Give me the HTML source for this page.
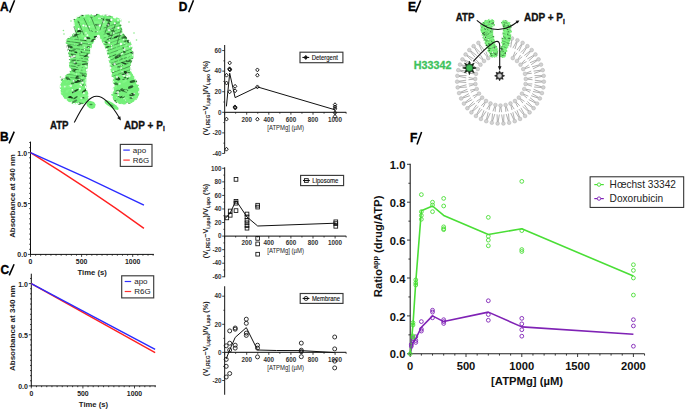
<!DOCTYPE html>
<html><head><meta charset="utf-8"><style>
html,body{margin:0;padding:0;background:#fff;}
body{width:685px;height:409px;overflow:hidden;}
svg{display:block;font-family:"Liberation Sans", sans-serif;}
</style></head><body>
<svg width="685" height="409" viewBox="0 0 685 409">
<rect width="685" height="409" fill="#fff"/>
<defs><filter id="soft" x="-5%" y="-5%" width="110%" height="110%"><feGaussianBlur stdDeviation="0.35"/></filter></defs>
<text x="0.00" y="10.70" font-size="12" font-weight="bold" text-anchor="start" fill="#000" stroke="#000" stroke-width="0.35">A</text>
<line x1="9.60" y1="12.60" x2="14.60" y2="0.30" stroke="#000" stroke-width="1.55" />
<text x="0.10" y="141.10" font-size="12" font-weight="bold" text-anchor="start" fill="#000" stroke="#000" stroke-width="0.35">B</text>
<line x1="9.10" y1="143.40" x2="14.20" y2="131.60" stroke="#000" stroke-width="1.55" />
<text x="0.45" y="273.70" font-size="12" font-weight="bold" text-anchor="start" fill="#000" stroke="#000" stroke-width="0.35">C</text>
<line x1="9.20" y1="275.40" x2="14.10" y2="264.20" stroke="#000" stroke-width="1.55" />
<text x="178.70" y="11.00" font-size="12" font-weight="bold" text-anchor="start" fill="#000" stroke="#000" stroke-width="0.35">D</text>
<line x1="188.70" y1="12.30" x2="193.50" y2="0.30" stroke="#000" stroke-width="1.55" />
<text x="407.90" y="10.90" font-size="12" font-weight="bold" text-anchor="start" fill="#000" stroke="#000" stroke-width="0.35">E</text>
<line x1="415.60" y1="12.40" x2="420.70" y2="0.40" stroke="#000" stroke-width="1.55" />
<text x="410.00" y="142.10" font-size="12" font-weight="bold" text-anchor="start" fill="#000" stroke="#000" stroke-width="0.35">F</text>
<line x1="417.00" y1="144.40" x2="421.60" y2="131.90" stroke="#000" stroke-width="1.55" />
<line x1="30.50" y1="141.60" x2="30.50" y2="254.90" stroke="#111" stroke-width="1" />
<line x1="30.00" y1="254.40" x2="153.90" y2="254.40" stroke="#111" stroke-width="1" />
<line x1="28.00" y1="254.40" x2="30.50" y2="254.40" stroke="#111" stroke-width="0.8" />
<line x1="29.20" y1="249.31" x2="30.50" y2="249.31" stroke="#111" stroke-width="0.8" />
<line x1="29.20" y1="244.23" x2="30.50" y2="244.23" stroke="#111" stroke-width="0.8" />
<line x1="29.20" y1="239.15" x2="30.50" y2="239.15" stroke="#111" stroke-width="0.8" />
<line x1="29.20" y1="234.06" x2="30.50" y2="234.06" stroke="#111" stroke-width="0.8" />
<line x1="29.20" y1="228.97" x2="30.50" y2="228.97" stroke="#111" stroke-width="0.8" />
<line x1="29.20" y1="223.89" x2="30.50" y2="223.89" stroke="#111" stroke-width="0.8" />
<line x1="29.20" y1="218.81" x2="30.50" y2="218.81" stroke="#111" stroke-width="0.8" />
<line x1="29.20" y1="213.72" x2="30.50" y2="213.72" stroke="#111" stroke-width="0.8" />
<line x1="29.20" y1="208.63" x2="30.50" y2="208.63" stroke="#111" stroke-width="0.8" />
<line x1="28.00" y1="203.55" x2="30.50" y2="203.55" stroke="#111" stroke-width="0.8" />
<line x1="29.20" y1="198.47" x2="30.50" y2="198.47" stroke="#111" stroke-width="0.8" />
<line x1="29.20" y1="193.38" x2="30.50" y2="193.38" stroke="#111" stroke-width="0.8" />
<line x1="29.20" y1="188.30" x2="30.50" y2="188.30" stroke="#111" stroke-width="0.8" />
<line x1="29.20" y1="183.21" x2="30.50" y2="183.21" stroke="#111" stroke-width="0.8" />
<line x1="29.20" y1="178.12" x2="30.50" y2="178.12" stroke="#111" stroke-width="0.8" />
<line x1="29.20" y1="173.04" x2="30.50" y2="173.04" stroke="#111" stroke-width="0.8" />
<line x1="29.20" y1="167.95" x2="30.50" y2="167.95" stroke="#111" stroke-width="0.8" />
<line x1="29.20" y1="162.87" x2="30.50" y2="162.87" stroke="#111" stroke-width="0.8" />
<line x1="29.20" y1="157.78" x2="30.50" y2="157.78" stroke="#111" stroke-width="0.8" />
<line x1="28.00" y1="152.70" x2="30.50" y2="152.70" stroke="#111" stroke-width="0.8" />
<line x1="29.20" y1="147.62" x2="30.50" y2="147.62" stroke="#111" stroke-width="0.8" />
<line x1="29.20" y1="142.53" x2="30.50" y2="142.53" stroke="#111" stroke-width="0.8" />
<text x="27.10" y="257.40" font-size="7" font-weight="bold" text-anchor="end" fill="#222" >0.0</text>
<text x="27.10" y="206.55" font-size="7" font-weight="bold" text-anchor="end" fill="#222" >0.5</text>
<text x="27.10" y="155.70" font-size="7" font-weight="bold" text-anchor="end" fill="#222" >1.0</text>
<line x1="30.50" y1="254.40" x2="30.50" y2="256.90" stroke="#111" stroke-width="0.8" />
<line x1="35.61" y1="254.40" x2="35.61" y2="255.70" stroke="#111" stroke-width="0.8" />
<line x1="40.72" y1="254.40" x2="40.72" y2="255.70" stroke="#111" stroke-width="0.8" />
<line x1="45.83" y1="254.40" x2="45.83" y2="255.70" stroke="#111" stroke-width="0.8" />
<line x1="50.94" y1="254.40" x2="50.94" y2="255.70" stroke="#111" stroke-width="0.8" />
<line x1="56.05" y1="254.40" x2="56.05" y2="255.70" stroke="#111" stroke-width="0.8" />
<line x1="61.16" y1="254.40" x2="61.16" y2="255.70" stroke="#111" stroke-width="0.8" />
<line x1="66.27" y1="254.40" x2="66.27" y2="255.70" stroke="#111" stroke-width="0.8" />
<line x1="71.38" y1="254.40" x2="71.38" y2="255.70" stroke="#111" stroke-width="0.8" />
<line x1="76.49" y1="254.40" x2="76.49" y2="255.70" stroke="#111" stroke-width="0.8" />
<line x1="81.60" y1="254.40" x2="81.60" y2="256.90" stroke="#111" stroke-width="0.8" />
<line x1="86.71" y1="254.40" x2="86.71" y2="255.70" stroke="#111" stroke-width="0.8" />
<line x1="91.82" y1="254.40" x2="91.82" y2="255.70" stroke="#111" stroke-width="0.8" />
<line x1="96.93" y1="254.40" x2="96.93" y2="255.70" stroke="#111" stroke-width="0.8" />
<line x1="102.04" y1="254.40" x2="102.04" y2="255.70" stroke="#111" stroke-width="0.8" />
<line x1="107.15" y1="254.40" x2="107.15" y2="255.70" stroke="#111" stroke-width="0.8" />
<line x1="112.26" y1="254.40" x2="112.26" y2="255.70" stroke="#111" stroke-width="0.8" />
<line x1="117.37" y1="254.40" x2="117.37" y2="255.70" stroke="#111" stroke-width="0.8" />
<line x1="122.48" y1="254.40" x2="122.48" y2="255.70" stroke="#111" stroke-width="0.8" />
<line x1="127.59" y1="254.40" x2="127.59" y2="255.70" stroke="#111" stroke-width="0.8" />
<line x1="132.70" y1="254.40" x2="132.70" y2="256.90" stroke="#111" stroke-width="0.8" />
<line x1="137.81" y1="254.40" x2="137.81" y2="255.70" stroke="#111" stroke-width="0.8" />
<line x1="142.92" y1="254.40" x2="142.92" y2="255.70" stroke="#111" stroke-width="0.8" />
<line x1="148.03" y1="254.40" x2="148.03" y2="255.70" stroke="#111" stroke-width="0.8" />
<line x1="153.14" y1="254.40" x2="153.14" y2="255.70" stroke="#111" stroke-width="0.8" />
<text x="30.50" y="264.20" font-size="6.9" font-weight="bold" text-anchor="middle" fill="#222" >0</text>
<text x="81.60" y="264.20" font-size="6.9" font-weight="bold" text-anchor="middle" fill="#222" >500</text>
<text x="132.70" y="264.20" font-size="6.9" font-weight="bold" text-anchor="middle" fill="#222" >1000</text>
<text x="92.12" y="274.60" font-size="8" font-weight="bold" text-anchor="middle" fill="#222" textLength="29.3" lengthAdjust="spacingAndGlyphs">Time (s)</text>
<text transform="translate(14.6,196.05) rotate(-90)" font-size="7.9" font-weight="bold" text-anchor="middle" fill="#222" textLength="83.5" lengthAdjust="spacingAndGlyphs">Absorbance at 340 nm</text>
<path d="M30.50,152.70 Q87.22,187.38 143.94,228.36" fill="none" stroke="#ff2020" stroke-width="1.4"/>
<path d="M30.50,152.70 Q87.22,177.40 143.94,205.18" fill="none" stroke="#2a2aff" stroke-width="1.4"/>
<rect x="120.3" y="144.4" width="31.700000000000003" height="22.0" fill="#fff" stroke="#3a3a3a" stroke-width="1.15"/>
<line x1="123.30" y1="150.10" x2="129.80" y2="150.10" stroke="#3030ff" stroke-width="1.2" />
<line x1="123.30" y1="160.10" x2="129.80" y2="160.10" stroke="#ff3030" stroke-width="1.2" />
<text x="132.80" y="152.70" font-size="8" font-weight="normal" text-anchor="start" fill="#222" >apo</text>
<text x="132.80" y="163.00" font-size="8" font-weight="normal" text-anchor="start" fill="#222" >R6G</text>
<line x1="31.30" y1="273.70" x2="31.30" y2="386.40" stroke="#111" stroke-width="1" />
<line x1="30.80" y1="385.90" x2="155.90" y2="385.90" stroke="#111" stroke-width="1" />
<line x1="28.80" y1="385.90" x2="31.30" y2="385.90" stroke="#111" stroke-width="0.8" />
<line x1="30.00" y1="380.78" x2="31.30" y2="380.78" stroke="#111" stroke-width="0.8" />
<line x1="30.00" y1="375.67" x2="31.30" y2="375.67" stroke="#111" stroke-width="0.8" />
<line x1="30.00" y1="370.55" x2="31.30" y2="370.55" stroke="#111" stroke-width="0.8" />
<line x1="30.00" y1="365.44" x2="31.30" y2="365.44" stroke="#111" stroke-width="0.8" />
<line x1="30.00" y1="360.32" x2="31.30" y2="360.32" stroke="#111" stroke-width="0.8" />
<line x1="30.00" y1="355.21" x2="31.30" y2="355.21" stroke="#111" stroke-width="0.8" />
<line x1="30.00" y1="350.09" x2="31.30" y2="350.09" stroke="#111" stroke-width="0.8" />
<line x1="30.00" y1="344.98" x2="31.30" y2="344.98" stroke="#111" stroke-width="0.8" />
<line x1="30.00" y1="339.87" x2="31.30" y2="339.87" stroke="#111" stroke-width="0.8" />
<line x1="28.80" y1="334.75" x2="31.30" y2="334.75" stroke="#111" stroke-width="0.8" />
<line x1="30.00" y1="329.63" x2="31.30" y2="329.63" stroke="#111" stroke-width="0.8" />
<line x1="30.00" y1="324.52" x2="31.30" y2="324.52" stroke="#111" stroke-width="0.8" />
<line x1="30.00" y1="319.40" x2="31.30" y2="319.40" stroke="#111" stroke-width="0.8" />
<line x1="30.00" y1="314.29" x2="31.30" y2="314.29" stroke="#111" stroke-width="0.8" />
<line x1="30.00" y1="309.17" x2="31.30" y2="309.17" stroke="#111" stroke-width="0.8" />
<line x1="30.00" y1="304.06" x2="31.30" y2="304.06" stroke="#111" stroke-width="0.8" />
<line x1="30.00" y1="298.94" x2="31.30" y2="298.94" stroke="#111" stroke-width="0.8" />
<line x1="30.00" y1="293.83" x2="31.30" y2="293.83" stroke="#111" stroke-width="0.8" />
<line x1="30.00" y1="288.71" x2="31.30" y2="288.71" stroke="#111" stroke-width="0.8" />
<line x1="28.80" y1="283.60" x2="31.30" y2="283.60" stroke="#111" stroke-width="0.8" />
<line x1="30.00" y1="278.48" x2="31.30" y2="278.48" stroke="#111" stroke-width="0.8" />
<text x="27.90" y="388.90" font-size="7" font-weight="bold" text-anchor="end" fill="#222" >0.0</text>
<text x="27.90" y="337.75" font-size="7" font-weight="bold" text-anchor="end" fill="#222" >0.5</text>
<text x="27.90" y="286.60" font-size="7" font-weight="bold" text-anchor="end" fill="#222" >1.0</text>
<line x1="31.30" y1="385.90" x2="31.30" y2="388.40" stroke="#111" stroke-width="0.8" />
<line x1="36.46" y1="385.90" x2="36.46" y2="387.20" stroke="#111" stroke-width="0.8" />
<line x1="41.62" y1="385.90" x2="41.62" y2="387.20" stroke="#111" stroke-width="0.8" />
<line x1="46.78" y1="385.90" x2="46.78" y2="387.20" stroke="#111" stroke-width="0.8" />
<line x1="51.94" y1="385.90" x2="51.94" y2="387.20" stroke="#111" stroke-width="0.8" />
<line x1="57.10" y1="385.90" x2="57.10" y2="387.20" stroke="#111" stroke-width="0.8" />
<line x1="62.26" y1="385.90" x2="62.26" y2="387.20" stroke="#111" stroke-width="0.8" />
<line x1="67.42" y1="385.90" x2="67.42" y2="387.20" stroke="#111" stroke-width="0.8" />
<line x1="72.58" y1="385.90" x2="72.58" y2="387.20" stroke="#111" stroke-width="0.8" />
<line x1="77.74" y1="385.90" x2="77.74" y2="387.20" stroke="#111" stroke-width="0.8" />
<line x1="82.90" y1="385.90" x2="82.90" y2="388.40" stroke="#111" stroke-width="0.8" />
<line x1="88.06" y1="385.90" x2="88.06" y2="387.20" stroke="#111" stroke-width="0.8" />
<line x1="93.22" y1="385.90" x2="93.22" y2="387.20" stroke="#111" stroke-width="0.8" />
<line x1="98.38" y1="385.90" x2="98.38" y2="387.20" stroke="#111" stroke-width="0.8" />
<line x1="103.54" y1="385.90" x2="103.54" y2="387.20" stroke="#111" stroke-width="0.8" />
<line x1="108.70" y1="385.90" x2="108.70" y2="387.20" stroke="#111" stroke-width="0.8" />
<line x1="113.86" y1="385.90" x2="113.86" y2="387.20" stroke="#111" stroke-width="0.8" />
<line x1="119.02" y1="385.90" x2="119.02" y2="387.20" stroke="#111" stroke-width="0.8" />
<line x1="124.18" y1="385.90" x2="124.18" y2="387.20" stroke="#111" stroke-width="0.8" />
<line x1="129.34" y1="385.90" x2="129.34" y2="387.20" stroke="#111" stroke-width="0.8" />
<line x1="134.50" y1="385.90" x2="134.50" y2="388.40" stroke="#111" stroke-width="0.8" />
<line x1="139.66" y1="385.90" x2="139.66" y2="387.20" stroke="#111" stroke-width="0.8" />
<line x1="144.82" y1="385.90" x2="144.82" y2="387.20" stroke="#111" stroke-width="0.8" />
<line x1="149.98" y1="385.90" x2="149.98" y2="387.20" stroke="#111" stroke-width="0.8" />
<line x1="155.14" y1="385.90" x2="155.14" y2="387.20" stroke="#111" stroke-width="0.8" />
<text x="31.30" y="396.30" font-size="6.9" font-weight="bold" text-anchor="middle" fill="#222" >0</text>
<text x="82.90" y="396.30" font-size="6.9" font-weight="bold" text-anchor="middle" fill="#222" >500</text>
<text x="134.50" y="396.30" font-size="6.9" font-weight="bold" text-anchor="middle" fill="#222" >1000</text>
<text x="93.52" y="406.80" font-size="8" font-weight="bold" text-anchor="middle" fill="#222" textLength="29.3" lengthAdjust="spacingAndGlyphs">Time (s)</text>
<text transform="translate(14.6,328.20) rotate(-90)" font-size="7.9" font-weight="bold" text-anchor="middle" fill="#222" textLength="85.8" lengthAdjust="spacingAndGlyphs">Absorbance at 340 nm</text>
<path d="M31.30,283.60 Q93.22,318.13 155.14,352.65" fill="none" stroke="#ff2020" stroke-width="1.4"/>
<path d="M31.30,283.60 Q93.22,316.44 155.14,349.28" fill="none" stroke="#2a2aff" stroke-width="1.4"/>
<rect x="121.7" y="275.8" width="31.999999999999986" height="22.099999999999966" fill="#fff" stroke="#3a3a3a" stroke-width="1.15"/>
<line x1="124.70" y1="281.50" x2="131.20" y2="281.50" stroke="#3030ff" stroke-width="1.2" />
<line x1="124.70" y1="291.50" x2="131.20" y2="291.50" stroke="#ff3030" stroke-width="1.2" />
<text x="134.20" y="284.10" font-size="8" font-weight="normal" text-anchor="start" fill="#222" >apo</text>
<text x="134.20" y="294.40" font-size="8" font-weight="normal" text-anchor="start" fill="#222" >R6G</text>
<line x1="224.60" y1="45.10" x2="224.60" y2="153.50" stroke="#3a3a3a" stroke-width="1.2" />
<line x1="224.60" y1="112.30" x2="346.20" y2="112.30" stroke="#3a3a3a" stroke-width="1.2" />
<line x1="222.20" y1="153.46" x2="224.60" y2="153.46" stroke="#111" stroke-width="0.8" />
<text x="221.60" y="155.66" font-size="6.3" font-weight="bold" text-anchor="end" fill="#333" >-40</text>
<line x1="222.20" y1="132.88" x2="224.60" y2="132.88" stroke="#111" stroke-width="0.8" />
<text x="221.60" y="135.08" font-size="6.3" font-weight="bold" text-anchor="end" fill="#333" >-20</text>
<line x1="222.20" y1="112.30" x2="224.60" y2="112.30" stroke="#111" stroke-width="0.8" />
<text x="221.60" y="114.50" font-size="6.3" font-weight="bold" text-anchor="end" fill="#333" >0</text>
<line x1="222.20" y1="91.72" x2="224.60" y2="91.72" stroke="#111" stroke-width="0.8" />
<text x="221.60" y="93.92" font-size="6.3" font-weight="bold" text-anchor="end" fill="#333" >20</text>
<line x1="222.20" y1="71.14" x2="224.60" y2="71.14" stroke="#111" stroke-width="0.8" />
<text x="221.60" y="73.34" font-size="6.3" font-weight="bold" text-anchor="end" fill="#333" >40</text>
<line x1="222.20" y1="50.56" x2="224.60" y2="50.56" stroke="#111" stroke-width="0.8" />
<text x="221.60" y="52.76" font-size="6.3" font-weight="bold" text-anchor="end" fill="#333" >60</text>
<line x1="223.30" y1="143.17" x2="224.60" y2="143.17" stroke="#111" stroke-width="0.7" />
<line x1="223.30" y1="122.59" x2="224.60" y2="122.59" stroke="#111" stroke-width="0.7" />
<line x1="223.30" y1="102.01" x2="224.60" y2="102.01" stroke="#111" stroke-width="0.7" />
<line x1="223.30" y1="81.43" x2="224.60" y2="81.43" stroke="#111" stroke-width="0.7" />
<line x1="223.30" y1="60.85" x2="224.60" y2="60.85" stroke="#111" stroke-width="0.7" />
<line x1="224.60" y1="112.30" x2="224.60" y2="114.70" stroke="#111" stroke-width="0.8" />
<line x1="235.65" y1="112.30" x2="235.65" y2="113.70" stroke="#111" stroke-width="0.8" />
<line x1="246.70" y1="112.30" x2="246.70" y2="114.70" stroke="#111" stroke-width="0.8" />
<text x="246.70" y="121.90" font-size="6.3" font-weight="bold" text-anchor="middle" fill="#333" >200</text>
<line x1="257.75" y1="112.30" x2="257.75" y2="113.70" stroke="#111" stroke-width="0.8" />
<line x1="268.80" y1="112.30" x2="268.80" y2="114.70" stroke="#111" stroke-width="0.8" />
<text x="268.80" y="121.90" font-size="6.3" font-weight="bold" text-anchor="middle" fill="#333" >400</text>
<line x1="279.85" y1="112.30" x2="279.85" y2="113.70" stroke="#111" stroke-width="0.8" />
<line x1="290.90" y1="112.30" x2="290.90" y2="114.70" stroke="#111" stroke-width="0.8" />
<text x="290.90" y="121.90" font-size="6.3" font-weight="bold" text-anchor="middle" fill="#333" >600</text>
<line x1="301.95" y1="112.30" x2="301.95" y2="113.70" stroke="#111" stroke-width="0.8" />
<line x1="313.00" y1="112.30" x2="313.00" y2="114.70" stroke="#111" stroke-width="0.8" />
<text x="313.00" y="121.90" font-size="6.3" font-weight="bold" text-anchor="middle" fill="#333" >800</text>
<line x1="324.05" y1="112.30" x2="324.05" y2="113.70" stroke="#111" stroke-width="0.8" />
<line x1="335.10" y1="112.30" x2="335.10" y2="114.70" stroke="#111" stroke-width="0.8" />
<text x="335.10" y="121.90" font-size="6.3" font-weight="bold" text-anchor="middle" fill="#333" >1000</text>
<line x1="346.15" y1="112.30" x2="346.15" y2="113.70" stroke="#111" stroke-width="0.8" />
<text x="285.60" y="129.80" font-size="6.3" font-weight="normal" text-anchor="middle" fill="#222" textLength="36.7" lengthAdjust="spacingAndGlyphs">[ATPMg] (µM)</text>
<text transform="translate(208.3,98.00) rotate(-90)" font-size="7.4" font-weight="bold" text-anchor="middle" fill="#222" textLength="74.5" lengthAdjust="spacingAndGlyphs">(V<tspan font-size="5.0" dy="1.7">i,REG</tspan><tspan dy="-1.7">−V</tspan><tspan font-size="5.0" dy="1.7">i,apo</tspan><tspan dy="-1.7">)/V</tspan><tspan font-size="5.0" dy="1.7">i,apo</tspan><tspan dy="-1.7"> (%)</tspan></text>
<polyline points="226.40,106.40 229.70,73.20 235.10,97.60 257.40,86.90 335.00,109.80" fill="none" stroke="#111" stroke-width="1.0" stroke-linejoin="round" />
<path d="M226.50,73.25 L228.25,75.20 L226.50,77.15 L224.75,75.20 Z" fill="none" stroke="#111" stroke-width="0.95"/>
<path d="M226.50,81.05 L228.25,83.00 L226.50,84.95 L224.75,83.00 Z" fill="none" stroke="#111" stroke-width="0.95"/>
<path d="M229.70,60.95 L231.45,62.90 L229.70,64.85 L227.95,62.90 Z" fill="none" stroke="#111" stroke-width="0.95"/>
<path d="M229.70,67.35 L231.45,69.30 L229.70,71.25 L227.95,69.30 Z" fill="none" stroke="#111" stroke-width="0.95"/>
<path d="M229.90,67.95 L231.65,69.90 L229.90,71.85 L228.15,69.90 Z" fill="none" stroke="#111" stroke-width="0.95"/>
<path d="M229.50,66.85 L231.25,68.80 L229.50,70.75 L227.75,68.80 Z" fill="none" stroke="#111" stroke-width="0.95"/>
<path d="M229.70,89.85 L231.45,91.80 L229.70,93.75 L227.95,91.80 Z" fill="none" stroke="#111" stroke-width="0.95"/>
<path d="M235.10,84.35 L236.85,86.30 L235.10,88.25 L233.35,86.30 Z" fill="none" stroke="#111" stroke-width="0.95"/>
<path d="M235.10,88.85 L236.85,90.80 L235.10,92.75 L233.35,90.80 Z" fill="none" stroke="#111" stroke-width="0.95"/>
<path d="M235.10,105.45 L236.85,107.40 L235.10,109.35 L233.35,107.40 Z" fill="none" stroke="#111" stroke-width="0.95"/>
<path d="M235.30,106.05 L237.05,108.00 L235.30,109.95 L233.55,108.00 Z" fill="none" stroke="#111" stroke-width="0.95"/>
<path d="M234.90,104.95 L236.65,106.90 L234.90,108.85 L233.15,106.90 Z" fill="none" stroke="#111" stroke-width="0.95"/>
<path d="M257.40,67.95 L259.15,69.90 L257.40,71.85 L255.65,69.90 Z" fill="none" stroke="#111" stroke-width="0.95"/>
<path d="M257.40,73.25 L259.15,75.20 L257.40,77.15 L255.65,75.20 Z" fill="none" stroke="#111" stroke-width="0.95"/>
<path d="M257.40,84.95 L259.15,86.90 L257.40,88.85 L255.65,86.90 Z" fill="none" stroke="#111" stroke-width="0.95"/>
<path d="M226.50,117.15 L228.25,119.10 L226.50,121.05 L224.75,119.10 Z" fill="none" stroke="#111" stroke-width="0.95"/>
<path d="M257.40,117.25 L259.15,119.20 L257.40,121.15 L255.65,119.20 Z" fill="none" stroke="#111" stroke-width="0.95"/>
<path d="M226.50,147.25 L228.25,149.20 L226.50,151.15 L224.75,149.20 Z" fill="none" stroke="#111" stroke-width="0.95"/>
<path d="M335.00,102.75 L336.75,104.70 L335.00,106.65 L333.25,104.70 Z" fill="none" stroke="#111" stroke-width="0.95"/>
<path d="M335.00,104.95 L336.75,106.90 L335.00,108.85 L333.25,106.90 Z" fill="none" stroke="#111" stroke-width="0.95"/>
<path d="M335.00,106.85 L336.75,108.80 L335.00,110.75 L333.25,108.80 Z" fill="none" stroke="#111" stroke-width="0.95"/>
<path d="M335.00,110.75 L336.75,112.70 L335.00,114.65 L333.25,112.70 Z" fill="none" stroke="#111" stroke-width="0.95"/>
<path d="M335.00,114.45 L336.75,116.40 L335.00,118.35 L333.25,116.40 Z" fill="none" stroke="#111" stroke-width="0.95"/>
<rect x="300" y="52.2" width="42.89999999999998" height="10.5" fill="#fff" stroke="#3a3a3a" stroke-width="1.15"/>
<path d="M305.80,55.50 L307.55,57.45 L305.80,59.40 L304.05,57.45 Z" fill="#222" stroke="#111" stroke-width="0.95"/>
<line x1="302.40" y1="57.45" x2="309.20" y2="57.45" stroke="#111" stroke-width="1.1" />
<text x="311.70" y="59.70" font-size="6.3" font-weight="normal" text-anchor="start" fill="#111" textLength="26.2" lengthAdjust="spacingAndGlyphs" stroke="#111" stroke-width="0.12">Detergent</text>
<line x1="224.60" y1="167.30" x2="224.60" y2="277.20" stroke="#3a3a3a" stroke-width="1.2" />
<line x1="224.60" y1="236.10" x2="346.20" y2="236.10" stroke="#3a3a3a" stroke-width="1.2" />
<line x1="222.20" y1="276.78" x2="224.60" y2="276.78" stroke="#111" stroke-width="0.8" />
<text x="221.60" y="278.98" font-size="6.3" font-weight="bold" text-anchor="end" fill="#333" >-60</text>
<line x1="222.20" y1="263.22" x2="224.60" y2="263.22" stroke="#111" stroke-width="0.8" />
<text x="221.60" y="265.42" font-size="6.3" font-weight="bold" text-anchor="end" fill="#333" >-40</text>
<line x1="222.20" y1="249.66" x2="224.60" y2="249.66" stroke="#111" stroke-width="0.8" />
<text x="221.60" y="251.86" font-size="6.3" font-weight="bold" text-anchor="end" fill="#333" >-20</text>
<line x1="222.20" y1="236.10" x2="224.60" y2="236.10" stroke="#111" stroke-width="0.8" />
<text x="221.60" y="238.30" font-size="6.3" font-weight="bold" text-anchor="end" fill="#333" >0</text>
<line x1="222.20" y1="222.54" x2="224.60" y2="222.54" stroke="#111" stroke-width="0.8" />
<text x="221.60" y="224.74" font-size="6.3" font-weight="bold" text-anchor="end" fill="#333" >20</text>
<line x1="222.20" y1="208.98" x2="224.60" y2="208.98" stroke="#111" stroke-width="0.8" />
<text x="221.60" y="211.18" font-size="6.3" font-weight="bold" text-anchor="end" fill="#333" >40</text>
<line x1="222.20" y1="195.42" x2="224.60" y2="195.42" stroke="#111" stroke-width="0.8" />
<text x="221.60" y="197.62" font-size="6.3" font-weight="bold" text-anchor="end" fill="#333" >60</text>
<line x1="222.20" y1="181.86" x2="224.60" y2="181.86" stroke="#111" stroke-width="0.8" />
<text x="221.60" y="184.06" font-size="6.3" font-weight="bold" text-anchor="end" fill="#333" >80</text>
<line x1="222.20" y1="168.30" x2="224.60" y2="168.30" stroke="#111" stroke-width="0.8" />
<text x="221.60" y="170.50" font-size="6.3" font-weight="bold" text-anchor="end" fill="#333" >100</text>
<line x1="223.30" y1="270.00" x2="224.60" y2="270.00" stroke="#111" stroke-width="0.7" />
<line x1="223.30" y1="256.44" x2="224.60" y2="256.44" stroke="#111" stroke-width="0.7" />
<line x1="223.30" y1="242.88" x2="224.60" y2="242.88" stroke="#111" stroke-width="0.7" />
<line x1="223.30" y1="229.32" x2="224.60" y2="229.32" stroke="#111" stroke-width="0.7" />
<line x1="223.30" y1="215.76" x2="224.60" y2="215.76" stroke="#111" stroke-width="0.7" />
<line x1="223.30" y1="202.20" x2="224.60" y2="202.20" stroke="#111" stroke-width="0.7" />
<line x1="223.30" y1="188.64" x2="224.60" y2="188.64" stroke="#111" stroke-width="0.7" />
<line x1="223.30" y1="175.08" x2="224.60" y2="175.08" stroke="#111" stroke-width="0.7" />
<line x1="224.60" y1="236.10" x2="224.60" y2="238.50" stroke="#111" stroke-width="0.8" />
<line x1="235.65" y1="236.10" x2="235.65" y2="237.50" stroke="#111" stroke-width="0.8" />
<line x1="246.70" y1="236.10" x2="246.70" y2="238.50" stroke="#111" stroke-width="0.8" />
<text x="246.70" y="245.40" font-size="6.3" font-weight="bold" text-anchor="middle" fill="#333" >200</text>
<line x1="257.75" y1="236.10" x2="257.75" y2="237.50" stroke="#111" stroke-width="0.8" />
<line x1="268.80" y1="236.10" x2="268.80" y2="238.50" stroke="#111" stroke-width="0.8" />
<text x="268.80" y="245.40" font-size="6.3" font-weight="bold" text-anchor="middle" fill="#333" >400</text>
<line x1="279.85" y1="236.10" x2="279.85" y2="237.50" stroke="#111" stroke-width="0.8" />
<line x1="290.90" y1="236.10" x2="290.90" y2="238.50" stroke="#111" stroke-width="0.8" />
<text x="290.90" y="245.40" font-size="6.3" font-weight="bold" text-anchor="middle" fill="#333" >600</text>
<line x1="301.95" y1="236.10" x2="301.95" y2="237.50" stroke="#111" stroke-width="0.8" />
<line x1="313.00" y1="236.10" x2="313.00" y2="238.50" stroke="#111" stroke-width="0.8" />
<text x="313.00" y="245.40" font-size="6.3" font-weight="bold" text-anchor="middle" fill="#333" >800</text>
<line x1="324.05" y1="236.10" x2="324.05" y2="237.50" stroke="#111" stroke-width="0.8" />
<line x1="335.10" y1="236.10" x2="335.10" y2="238.50" stroke="#111" stroke-width="0.8" />
<text x="335.10" y="245.40" font-size="6.3" font-weight="bold" text-anchor="middle" fill="#333" >1000</text>
<line x1="346.15" y1="236.10" x2="346.15" y2="237.50" stroke="#111" stroke-width="0.8" />
<text x="285.60" y="252.80" font-size="6.3" font-weight="normal" text-anchor="middle" fill="#222" textLength="36.7" lengthAdjust="spacingAndGlyphs">[ATPMg] (µM)</text>
<text transform="translate(208.3,221.00) rotate(-90)" font-size="7.4" font-weight="bold" text-anchor="middle" fill="#222" textLength="74.5" lengthAdjust="spacingAndGlyphs">(V<tspan font-size="5.0" dy="1.7">i,REG</tspan><tspan dy="-1.7">−V</tspan><tspan font-size="5.0" dy="1.7">i,apo</tspan><tspan dy="-1.7">)/V</tspan><tspan font-size="5.0" dy="1.7">i,apo</tspan><tspan dy="-1.7"> (%)</tspan></text>
<polyline points="225.20,218.50 230.20,213.00 236.00,200.50 247.00,217.00 257.70,226.00 335.80,223.20" fill="none" stroke="#111" stroke-width="1.0" stroke-linejoin="round" />
<rect x="224.95" y="216.05" width="3.70" height="3.70" fill="none" stroke="#111" stroke-width="0.85"/>
<rect x="228.35" y="213.45" width="3.70" height="3.70" fill="none" stroke="#111" stroke-width="0.85"/>
<rect x="228.35" y="209.15" width="3.70" height="3.70" fill="none" stroke="#111" stroke-width="0.85"/>
<rect x="234.15" y="208.75" width="3.70" height="3.70" fill="none" stroke="#111" stroke-width="0.85"/>
<rect x="234.15" y="201.35" width="3.70" height="3.70" fill="none" stroke="#111" stroke-width="0.85"/>
<rect x="234.15" y="199.45" width="3.70" height="3.70" fill="none" stroke="#111" stroke-width="0.85"/>
<rect x="234.15" y="177.55" width="3.70" height="3.70" fill="none" stroke="#111" stroke-width="0.85"/>
<rect x="245.15" y="212.15" width="3.70" height="3.70" fill="none" stroke="#111" stroke-width="0.85"/>
<rect x="245.15" y="215.05" width="3.70" height="3.70" fill="none" stroke="#111" stroke-width="0.85"/>
<rect x="245.15" y="218.55" width="3.70" height="3.70" fill="none" stroke="#111" stroke-width="0.85"/>
<rect x="245.15" y="220.95" width="3.70" height="3.70" fill="none" stroke="#111" stroke-width="0.85"/>
<rect x="245.15" y="223.85" width="3.70" height="3.70" fill="none" stroke="#111" stroke-width="0.85"/>
<rect x="245.15" y="226.35" width="3.70" height="3.70" fill="none" stroke="#111" stroke-width="0.85"/>
<rect x="255.85" y="203.35" width="3.70" height="3.70" fill="none" stroke="#111" stroke-width="0.85"/>
<rect x="255.85" y="205.25" width="3.70" height="3.70" fill="none" stroke="#111" stroke-width="0.85"/>
<rect x="255.85" y="236.55" width="3.70" height="3.70" fill="none" stroke="#111" stroke-width="0.85"/>
<rect x="255.85" y="242.05" width="3.70" height="3.70" fill="none" stroke="#111" stroke-width="0.85"/>
<rect x="255.85" y="252.35" width="3.70" height="3.70" fill="none" stroke="#111" stroke-width="0.85"/>
<rect x="333.95" y="219.95" width="3.70" height="3.70" fill="none" stroke="#111" stroke-width="0.85"/>
<rect x="333.95" y="221.75" width="3.70" height="3.70" fill="none" stroke="#111" stroke-width="0.85"/>
<rect x="333.95" y="224.45" width="3.70" height="3.70" fill="none" stroke="#111" stroke-width="0.85"/>
<rect x="300.6" y="175.4" width="43.0" height="10.199999999999989" fill="#fff" stroke="#3a3a3a" stroke-width="1.15"/>
<rect x="304.55" y="178.65" width="3.70" height="3.70" fill="none" stroke="#111" stroke-width="0.85"/>
<line x1="303.00" y1="180.50" x2="309.80" y2="180.50" stroke="#111" stroke-width="1.1" />
<text x="312.30" y="182.75" font-size="6.3" font-weight="normal" text-anchor="start" fill="#111" textLength="26.1" lengthAdjust="spacingAndGlyphs" stroke="#111" stroke-width="0.12">Liposome</text>
<line x1="224.60" y1="286.30" x2="224.60" y2="394.70" stroke="#3a3a3a" stroke-width="1.2" />
<line x1="224.60" y1="352.40" x2="346.20" y2="352.40" stroke="#3a3a3a" stroke-width="1.2" />
<line x1="222.20" y1="380.50" x2="224.60" y2="380.50" stroke="#111" stroke-width="0.8" />
<text x="221.60" y="382.70" font-size="6.3" font-weight="bold" text-anchor="end" fill="#333" >-20</text>
<line x1="222.20" y1="352.40" x2="224.60" y2="352.40" stroke="#111" stroke-width="0.8" />
<text x="221.60" y="354.60" font-size="6.3" font-weight="bold" text-anchor="end" fill="#333" >0</text>
<line x1="222.20" y1="324.30" x2="224.60" y2="324.30" stroke="#111" stroke-width="0.8" />
<text x="221.60" y="326.50" font-size="6.3" font-weight="bold" text-anchor="end" fill="#333" >20</text>
<line x1="222.20" y1="296.20" x2="224.60" y2="296.20" stroke="#111" stroke-width="0.8" />
<text x="221.60" y="298.40" font-size="6.3" font-weight="bold" text-anchor="end" fill="#333" >40</text>
<line x1="223.30" y1="366.45" x2="224.60" y2="366.45" stroke="#111" stroke-width="0.7" />
<line x1="223.30" y1="338.35" x2="224.60" y2="338.35" stroke="#111" stroke-width="0.7" />
<line x1="223.30" y1="310.25" x2="224.60" y2="310.25" stroke="#111" stroke-width="0.7" />
<line x1="224.60" y1="352.40" x2="224.60" y2="354.80" stroke="#111" stroke-width="0.8" />
<line x1="235.65" y1="352.40" x2="235.65" y2="353.80" stroke="#111" stroke-width="0.8" />
<line x1="246.70" y1="352.40" x2="246.70" y2="354.80" stroke="#111" stroke-width="0.8" />
<text x="246.70" y="361.70" font-size="6.3" font-weight="bold" text-anchor="middle" fill="#333" >200</text>
<line x1="257.75" y1="352.40" x2="257.75" y2="353.80" stroke="#111" stroke-width="0.8" />
<line x1="268.80" y1="352.40" x2="268.80" y2="354.80" stroke="#111" stroke-width="0.8" />
<text x="268.80" y="361.70" font-size="6.3" font-weight="bold" text-anchor="middle" fill="#333" >400</text>
<line x1="279.85" y1="352.40" x2="279.85" y2="353.80" stroke="#111" stroke-width="0.8" />
<line x1="290.90" y1="352.40" x2="290.90" y2="354.80" stroke="#111" stroke-width="0.8" />
<text x="290.90" y="361.70" font-size="6.3" font-weight="bold" text-anchor="middle" fill="#333" >600</text>
<line x1="301.95" y1="352.40" x2="301.95" y2="353.80" stroke="#111" stroke-width="0.8" />
<line x1="313.00" y1="352.40" x2="313.00" y2="354.80" stroke="#111" stroke-width="0.8" />
<text x="313.00" y="361.70" font-size="6.3" font-weight="bold" text-anchor="middle" fill="#333" >800</text>
<line x1="324.05" y1="352.40" x2="324.05" y2="353.80" stroke="#111" stroke-width="0.8" />
<line x1="335.10" y1="352.40" x2="335.10" y2="354.80" stroke="#111" stroke-width="0.8" />
<text x="335.10" y="361.70" font-size="6.3" font-weight="bold" text-anchor="middle" fill="#333" >1000</text>
<line x1="346.15" y1="352.40" x2="346.15" y2="353.80" stroke="#111" stroke-width="0.8" />
<text x="285.60" y="369.70" font-size="6.3" font-weight="normal" text-anchor="middle" fill="#222" textLength="36.7" lengthAdjust="spacingAndGlyphs">[ATPMg] (µM)</text>
<text transform="translate(208.3,338.70) rotate(-90)" font-size="7.4" font-weight="bold" text-anchor="middle" fill="#222" textLength="74.5" lengthAdjust="spacingAndGlyphs">(V<tspan font-size="5.0" dy="1.7">i,REG</tspan><tspan dy="-1.7">−V</tspan><tspan font-size="5.0" dy="1.7">i,apo</tspan><tspan dy="-1.7">)/V</tspan><tspan font-size="5.0" dy="1.7">i,apo</tspan><tspan dy="-1.7"> (%)</tspan></text>
<polyline points="226.20,358.90 229.70,350.00 235.20,337.40 246.30,327.60 257.50,350.00 276.60,350.50 301.30,350.60 334.70,352.60" fill="none" stroke="#111" stroke-width="1.0" stroke-linejoin="round" />
<circle cx="226.20" cy="345.80" r="2.0" fill="none" stroke="#111" stroke-width="0.85"/>
<circle cx="226.20" cy="359.40" r="2.0" fill="none" stroke="#111" stroke-width="0.85"/>
<circle cx="226.20" cy="366.30" r="2.0" fill="none" stroke="#111" stroke-width="0.85"/>
<circle cx="226.20" cy="377.00" r="2.0" fill="none" stroke="#111" stroke-width="0.85"/>
<circle cx="229.70" cy="330.90" r="2.0" fill="none" stroke="#111" stroke-width="0.85"/>
<circle cx="229.70" cy="343.20" r="2.0" fill="none" stroke="#111" stroke-width="0.85"/>
<circle cx="229.70" cy="373.50" r="2.0" fill="none" stroke="#111" stroke-width="0.85"/>
<circle cx="229.70" cy="350.00" r="2.0" fill="none" stroke="#111" stroke-width="0.85"/>
<circle cx="235.20" cy="328.00" r="2.0" fill="none" stroke="#111" stroke-width="0.85"/>
<circle cx="235.20" cy="329.20" r="2.0" fill="none" stroke="#111" stroke-width="0.85"/>
<circle cx="235.20" cy="345.20" r="2.0" fill="none" stroke="#111" stroke-width="0.85"/>
<circle cx="235.20" cy="348.10" r="2.0" fill="none" stroke="#111" stroke-width="0.85"/>
<circle cx="246.30" cy="319.20" r="2.0" fill="none" stroke="#111" stroke-width="0.85"/>
<circle cx="246.30" cy="323.30" r="2.0" fill="none" stroke="#111" stroke-width="0.85"/>
<circle cx="246.30" cy="333.10" r="2.0" fill="none" stroke="#111" stroke-width="0.85"/>
<circle cx="246.30" cy="335.40" r="2.0" fill="none" stroke="#111" stroke-width="0.85"/>
<circle cx="257.50" cy="345.20" r="2.0" fill="none" stroke="#111" stroke-width="0.85"/>
<circle cx="257.50" cy="348.10" r="2.0" fill="none" stroke="#111" stroke-width="0.85"/>
<circle cx="257.50" cy="356.90" r="2.0" fill="none" stroke="#111" stroke-width="0.85"/>
<circle cx="301.30" cy="343.10" r="2.0" fill="none" stroke="#111" stroke-width="0.85"/>
<circle cx="301.30" cy="350.20" r="2.0" fill="none" stroke="#111" stroke-width="0.85"/>
<circle cx="301.30" cy="351.60" r="2.0" fill="none" stroke="#111" stroke-width="0.85"/>
<circle cx="301.30" cy="356.70" r="2.0" fill="none" stroke="#111" stroke-width="0.85"/>
<circle cx="334.70" cy="337.00" r="2.0" fill="none" stroke="#111" stroke-width="0.85"/>
<circle cx="334.70" cy="348.90" r="2.0" fill="none" stroke="#111" stroke-width="0.85"/>
<circle cx="334.70" cy="361.10" r="2.0" fill="none" stroke="#111" stroke-width="0.85"/>
<circle cx="334.70" cy="367.90" r="2.0" fill="none" stroke="#111" stroke-width="0.85"/>
<rect x="300.2" y="293.5" width="42.80000000000001" height="9.899999999999977" fill="#fff" stroke="#3a3a3a" stroke-width="1.15"/>
<circle cx="306.00" cy="298.45" r="2.0" fill="none" stroke="#111" stroke-width="0.85"/>
<line x1="302.60" y1="298.45" x2="309.40" y2="298.45" stroke="#111" stroke-width="1.1" />
<text x="311.90" y="300.70" font-size="6.3" font-weight="normal" text-anchor="start" fill="#111" textLength="28.1" lengthAdjust="spacingAndGlyphs" stroke="#111" stroke-width="0.12">Membrane</text>
<line x1="410.20" y1="163.80" x2="410.20" y2="354.30" stroke="#222" stroke-width="1.1" />
<line x1="409.70" y1="353.80" x2="644.60" y2="353.80" stroke="#222" stroke-width="1.1" />
<line x1="407.00" y1="353.80" x2="410.20" y2="353.80" stroke="#222" stroke-width="0.9" />
<line x1="408.40" y1="334.85" x2="410.20" y2="334.85" stroke="#222" stroke-width="0.9" />
<line x1="407.00" y1="315.90" x2="410.20" y2="315.90" stroke="#222" stroke-width="0.9" />
<line x1="408.40" y1="296.95" x2="410.20" y2="296.95" stroke="#222" stroke-width="0.9" />
<line x1="407.00" y1="278.00" x2="410.20" y2="278.00" stroke="#222" stroke-width="0.9" />
<line x1="408.40" y1="259.05" x2="410.20" y2="259.05" stroke="#222" stroke-width="0.9" />
<line x1="407.00" y1="240.10" x2="410.20" y2="240.10" stroke="#222" stroke-width="0.9" />
<line x1="408.40" y1="221.15" x2="410.20" y2="221.15" stroke="#222" stroke-width="0.9" />
<line x1="407.00" y1="202.20" x2="410.20" y2="202.20" stroke="#222" stroke-width="0.9" />
<line x1="408.40" y1="183.25" x2="410.20" y2="183.25" stroke="#222" stroke-width="0.9" />
<line x1="407.00" y1="164.30" x2="410.20" y2="164.30" stroke="#222" stroke-width="0.9" />
<text x="405.40" y="358.40" font-size="11.2" font-weight="bold" text-anchor="end" fill="#111" >0.0</text>
<text x="405.40" y="320.50" font-size="11.2" font-weight="bold" text-anchor="end" fill="#111" >0.2</text>
<text x="405.40" y="282.60" font-size="11.2" font-weight="bold" text-anchor="end" fill="#111" >0.4</text>
<text x="405.40" y="244.70" font-size="11.2" font-weight="bold" text-anchor="end" fill="#111" >0.6</text>
<text x="405.40" y="206.80" font-size="11.2" font-weight="bold" text-anchor="end" fill="#111" >0.8</text>
<text x="405.40" y="168.90" font-size="11.2" font-weight="bold" text-anchor="end" fill="#111" >1.0</text>
<line x1="410.20" y1="353.80" x2="410.20" y2="357.00" stroke="#222" stroke-width="0.9" />
<line x1="421.36" y1="353.80" x2="421.36" y2="355.60" stroke="#222" stroke-width="0.9" />
<line x1="432.52" y1="353.80" x2="432.52" y2="355.60" stroke="#222" stroke-width="0.9" />
<line x1="443.68" y1="353.80" x2="443.68" y2="355.60" stroke="#222" stroke-width="0.9" />
<line x1="454.84" y1="353.80" x2="454.84" y2="355.60" stroke="#222" stroke-width="0.9" />
<line x1="466.00" y1="353.80" x2="466.00" y2="357.00" stroke="#222" stroke-width="0.9" />
<line x1="477.16" y1="353.80" x2="477.16" y2="355.60" stroke="#222" stroke-width="0.9" />
<line x1="488.32" y1="353.80" x2="488.32" y2="355.60" stroke="#222" stroke-width="0.9" />
<line x1="499.48" y1="353.80" x2="499.48" y2="355.60" stroke="#222" stroke-width="0.9" />
<line x1="510.64" y1="353.80" x2="510.64" y2="355.60" stroke="#222" stroke-width="0.9" />
<line x1="521.80" y1="353.80" x2="521.80" y2="357.00" stroke="#222" stroke-width="0.9" />
<line x1="532.96" y1="353.80" x2="532.96" y2="355.60" stroke="#222" stroke-width="0.9" />
<line x1="544.12" y1="353.80" x2="544.12" y2="355.60" stroke="#222" stroke-width="0.9" />
<line x1="555.28" y1="353.80" x2="555.28" y2="355.60" stroke="#222" stroke-width="0.9" />
<line x1="566.44" y1="353.80" x2="566.44" y2="355.60" stroke="#222" stroke-width="0.9" />
<line x1="577.60" y1="353.80" x2="577.60" y2="357.00" stroke="#222" stroke-width="0.9" />
<line x1="588.76" y1="353.80" x2="588.76" y2="355.60" stroke="#222" stroke-width="0.9" />
<line x1="599.92" y1="353.80" x2="599.92" y2="355.60" stroke="#222" stroke-width="0.9" />
<line x1="611.08" y1="353.80" x2="611.08" y2="355.60" stroke="#222" stroke-width="0.9" />
<line x1="622.24" y1="353.80" x2="622.24" y2="355.60" stroke="#222" stroke-width="0.9" />
<line x1="633.40" y1="353.80" x2="633.40" y2="357.00" stroke="#222" stroke-width="0.9" />
<line x1="644.56" y1="353.80" x2="644.56" y2="355.60" stroke="#222" stroke-width="0.9" />
<text x="410.20" y="369.70" font-size="11.2" font-weight="bold" text-anchor="middle" fill="#111" >0</text>
<text x="466.00" y="369.70" font-size="11.2" font-weight="bold" text-anchor="middle" fill="#111" >500</text>
<text x="521.80" y="369.70" font-size="11.2" font-weight="bold" text-anchor="middle" fill="#111" >1000</text>
<text x="577.60" y="369.70" font-size="11.2" font-weight="bold" text-anchor="middle" fill="#111" >1500</text>
<text x="633.40" y="369.70" font-size="11.2" font-weight="bold" text-anchor="middle" fill="#111" >2000</text>
<text x="527.10" y="384.60" font-size="11.2" font-weight="bold" text-anchor="middle" fill="#111" textLength="72" lengthAdjust="spacingAndGlyphs">[ATPMg] (µM)</text>
<text transform="translate(382.0,246.4) rotate(-90)" font-size="11.2" textLength="101.6" lengthAdjust="spacingAndGlyphs" font-weight="bold" text-anchor="middle" fill="#111">Ratio<tspan font-size="7.2" dy="-3.8">app</tspan><tspan dy="3.8"> (drug/ATP)</tspan></text>
<polyline points="410.20,353.80 412.99,342.43 415.78,338.64 421.36,327.27 432.52,315.90 443.68,321.59 488.32,312.11 521.80,326.89 633.40,334.28" fill="none" stroke="#7f22b5" stroke-width="1.6" stroke-linejoin="round" />
<polyline points="410.20,353.80 412.99,324.43 415.78,281.79 421.36,210.73 432.52,205.99 443.68,215.47 488.32,234.42 521.80,228.73 633.40,276.11" fill="none" stroke="#4ade36" stroke-width="1.6" stroke-linejoin="round" />
<circle cx="411.32" cy="344.32" r="1.9" fill="none" stroke="#7f22b5" stroke-width="0.9"/>
<circle cx="411.32" cy="346.22" r="1.9" fill="none" stroke="#7f22b5" stroke-width="0.9"/>
<circle cx="412.99" cy="340.54" r="1.9" fill="none" stroke="#7f22b5" stroke-width="0.9"/>
<circle cx="412.99" cy="338.64" r="1.9" fill="none" stroke="#7f22b5" stroke-width="0.9"/>
<circle cx="415.78" cy="342.43" r="1.9" fill="none" stroke="#7f22b5" stroke-width="0.9"/>
<circle cx="415.78" cy="340.54" r="1.9" fill="none" stroke="#7f22b5" stroke-width="0.9"/>
<circle cx="415.78" cy="336.75" r="1.9" fill="none" stroke="#7f22b5" stroke-width="0.9"/>
<circle cx="421.36" cy="321.59" r="1.9" fill="none" stroke="#7f22b5" stroke-width="0.9"/>
<circle cx="421.36" cy="329.17" r="1.9" fill="none" stroke="#7f22b5" stroke-width="0.9"/>
<circle cx="421.36" cy="331.06" r="1.9" fill="none" stroke="#7f22b5" stroke-width="0.9"/>
<circle cx="432.52" cy="310.22" r="1.9" fill="none" stroke="#7f22b5" stroke-width="0.9"/>
<circle cx="432.52" cy="312.11" r="1.9" fill="none" stroke="#7f22b5" stroke-width="0.9"/>
<circle cx="432.52" cy="317.80" r="1.9" fill="none" stroke="#7f22b5" stroke-width="0.9"/>
<circle cx="443.68" cy="319.69" r="1.9" fill="none" stroke="#7f22b5" stroke-width="0.9"/>
<circle cx="443.68" cy="321.59" r="1.9" fill="none" stroke="#7f22b5" stroke-width="0.9"/>
<circle cx="443.68" cy="323.48" r="1.9" fill="none" stroke="#7f22b5" stroke-width="0.9"/>
<circle cx="488.32" cy="300.74" r="1.9" fill="none" stroke="#7f22b5" stroke-width="0.9"/>
<circle cx="488.32" cy="314.57" r="1.9" fill="none" stroke="#7f22b5" stroke-width="0.9"/>
<circle cx="488.32" cy="320.26" r="1.9" fill="none" stroke="#7f22b5" stroke-width="0.9"/>
<circle cx="521.80" cy="318.36" r="1.9" fill="none" stroke="#7f22b5" stroke-width="0.9"/>
<circle cx="521.80" cy="323.86" r="1.9" fill="none" stroke="#7f22b5" stroke-width="0.9"/>
<circle cx="521.80" cy="329.73" r="1.9" fill="none" stroke="#7f22b5" stroke-width="0.9"/>
<circle cx="521.80" cy="336.18" r="1.9" fill="none" stroke="#7f22b5" stroke-width="0.9"/>
<circle cx="633.40" cy="319.69" r="1.9" fill="none" stroke="#7f22b5" stroke-width="0.9"/>
<circle cx="633.40" cy="325.94" r="1.9" fill="none" stroke="#7f22b5" stroke-width="0.9"/>
<circle cx="633.40" cy="346.22" r="1.9" fill="none" stroke="#7f22b5" stroke-width="0.9"/>
<circle cx="412.99" cy="322.72" r="1.9" fill="none" stroke="#4ade36" stroke-width="0.9"/>
<circle cx="412.99" cy="325.00" r="1.9" fill="none" stroke="#4ade36" stroke-width="0.9"/>
<circle cx="412.99" cy="335.99" r="1.9" fill="none" stroke="#4ade36" stroke-width="0.9"/>
<circle cx="412.99" cy="337.31" r="1.9" fill="none" stroke="#4ade36" stroke-width="0.9"/>
<circle cx="415.78" cy="279.89" r="1.9" fill="none" stroke="#4ade36" stroke-width="0.9"/>
<circle cx="415.78" cy="282.93" r="1.9" fill="none" stroke="#4ade36" stroke-width="0.9"/>
<circle cx="415.78" cy="285.01" r="1.9" fill="none" stroke="#4ade36" stroke-width="0.9"/>
<circle cx="421.36" cy="194.62" r="1.9" fill="none" stroke="#4ade36" stroke-width="0.9"/>
<circle cx="421.36" cy="211.68" r="1.9" fill="none" stroke="#4ade36" stroke-width="0.9"/>
<circle cx="421.36" cy="215.47" r="1.9" fill="none" stroke="#4ade36" stroke-width="0.9"/>
<circle cx="421.36" cy="219.26" r="1.9" fill="none" stroke="#4ade36" stroke-width="0.9"/>
<circle cx="432.52" cy="202.20" r="1.9" fill="none" stroke="#4ade36" stroke-width="0.9"/>
<circle cx="432.52" cy="205.04" r="1.9" fill="none" stroke="#4ade36" stroke-width="0.9"/>
<circle cx="432.52" cy="211.68" r="1.9" fill="none" stroke="#4ade36" stroke-width="0.9"/>
<circle cx="443.68" cy="198.41" r="1.9" fill="none" stroke="#4ade36" stroke-width="0.9"/>
<circle cx="443.68" cy="205.99" r="1.9" fill="none" stroke="#4ade36" stroke-width="0.9"/>
<circle cx="443.68" cy="226.84" r="1.9" fill="none" stroke="#4ade36" stroke-width="0.9"/>
<circle cx="443.68" cy="228.73" r="1.9" fill="none" stroke="#4ade36" stroke-width="0.9"/>
<circle cx="443.68" cy="229.68" r="1.9" fill="none" stroke="#4ade36" stroke-width="0.9"/>
<circle cx="488.32" cy="217.36" r="1.9" fill="none" stroke="#4ade36" stroke-width="0.9"/>
<circle cx="488.32" cy="236.31" r="1.9" fill="none" stroke="#4ade36" stroke-width="0.9"/>
<circle cx="488.32" cy="240.10" r="1.9" fill="none" stroke="#4ade36" stroke-width="0.9"/>
<circle cx="488.32" cy="245.79" r="1.9" fill="none" stroke="#4ade36" stroke-width="0.9"/>
<circle cx="521.80" cy="181.36" r="1.9" fill="none" stroke="#4ade36" stroke-width="0.9"/>
<circle cx="521.80" cy="230.62" r="1.9" fill="none" stroke="#4ade36" stroke-width="0.9"/>
<circle cx="521.80" cy="249.57" r="1.9" fill="none" stroke="#4ade36" stroke-width="0.9"/>
<circle cx="521.80" cy="251.47" r="1.9" fill="none" stroke="#4ade36" stroke-width="0.9"/>
<circle cx="633.40" cy="264.74" r="1.9" fill="none" stroke="#4ade36" stroke-width="0.9"/>
<circle cx="633.40" cy="270.42" r="1.9" fill="none" stroke="#4ade36" stroke-width="0.9"/>
<circle cx="633.40" cy="278.00" r="1.9" fill="none" stroke="#4ade36" stroke-width="0.9"/>
<circle cx="633.40" cy="295.06" r="1.9" fill="none" stroke="#4ade36" stroke-width="0.9"/>
<circle cx="410.20" cy="353.80" r="1.9" fill="none" stroke="#4ade36" stroke-width="0.9"/>
<rect x="590.1" y="176.8" width="93.6" height="30.6" fill="#fff" stroke="#222" stroke-width="1"/>
<line x1="594.30" y1="184.60" x2="603.80" y2="184.60" stroke="#4ade36" stroke-width="1.2" />
<circle cx="599" cy="184.6" r="1.7" fill="#fff" stroke="#4ade36" stroke-width="0.9"/>
<line x1="594.30" y1="198.60" x2="603.80" y2="198.60" stroke="#7f22b5" stroke-width="1.2" />
<circle cx="599" cy="198.6" r="1.7" fill="#fff" stroke="#7f22b5" stroke-width="0.9"/>
<text x="609.60" y="188.40" font-size="10.8" font-weight="normal" text-anchor="start" fill="#222" textLength="66.3" lengthAdjust="spacingAndGlyphs">Hœchst 33342</text>
<text x="609.60" y="202.40" font-size="10.8" font-weight="normal" text-anchor="start" fill="#222" textLength="53.5" lengthAdjust="spacingAndGlyphs">Doxorubicin</text>
<line x1="511.23" y1="39.70" x2="508.45" y2="46.81" stroke="#7a7a7a" stroke-width="0.6"/><line x1="511.91" y1="39.88" x2="510.67" y2="47.42" stroke="#7a7a7a" stroke-width="0.6"/><circle cx="511.97" cy="38.34" r="1.85" fill="#d2d2d2" stroke="#ababab" stroke-width="0.45"/>
<line x1="516.54" y1="41.49" x2="512.83" y2="48.17" stroke="#7a7a7a" stroke-width="0.6"/><line x1="517.18" y1="41.76" x2="514.95" y2="49.07" stroke="#7a7a7a" stroke-width="0.6"/><circle cx="517.44" cy="40.24" r="1.85" fill="#d2d2d2" stroke="#ababab" stroke-width="0.45"/>
<line x1="521.55" y1="43.97" x2="516.99" y2="50.10" stroke="#7a7a7a" stroke-width="0.6"/><line x1="522.15" y1="44.33" x2="518.97" y2="51.27" stroke="#7a7a7a" stroke-width="0.6"/><circle cx="522.62" cy="42.86" r="1.85" fill="#d2d2d2" stroke="#ababab" stroke-width="0.45"/>
<line x1="526.19" y1="47.10" x2="520.85" y2="52.57" stroke="#7a7a7a" stroke-width="0.6"/><line x1="526.74" y1="47.53" x2="522.66" y2="53.99" stroke="#7a7a7a" stroke-width="0.6"/><circle cx="527.40" cy="46.14" r="1.85" fill="#d2d2d2" stroke="#ababab" stroke-width="0.45"/>
<line x1="530.38" y1="50.82" x2="524.36" y2="55.53" stroke="#7a7a7a" stroke-width="0.6"/><line x1="530.86" y1="51.32" x2="525.96" y2="57.18" stroke="#7a7a7a" stroke-width="0.6"/><circle cx="531.70" cy="50.03" r="1.85" fill="#d2d2d2" stroke="#ababab" stroke-width="0.45"/>
<line x1="534.02" y1="55.06" x2="527.43" y2="58.93" stroke="#7a7a7a" stroke-width="0.6"/><line x1="534.44" y1="55.63" x2="528.80" y2="60.78" stroke="#7a7a7a" stroke-width="0.6"/><circle cx="535.44" cy="54.46" r="1.85" fill="#d2d2d2" stroke="#ababab" stroke-width="0.45"/>
<line x1="537.08" y1="59.76" x2="530.03" y2="62.71" stroke="#7a7a7a" stroke-width="0.6"/><line x1="537.41" y1="60.37" x2="531.13" y2="64.72" stroke="#7a7a7a" stroke-width="0.6"/><circle cx="538.56" cy="59.34" r="1.85" fill="#d2d2d2" stroke="#ababab" stroke-width="0.45"/>
<line x1="539.47" y1="64.81" x2="532.09" y2="66.80" stroke="#7a7a7a" stroke-width="0.6"/><line x1="539.73" y1="65.47" x2="532.92" y2="68.95" stroke="#7a7a7a" stroke-width="0.6"/><circle cx="541.00" cy="64.60" r="1.85" fill="#d2d2d2" stroke="#ababab" stroke-width="0.45"/>
<line x1="541.18" y1="70.15" x2="533.60" y2="71.13" stroke="#7a7a7a" stroke-width="0.6"/><line x1="541.34" y1="70.83" x2="534.13" y2="73.37" stroke="#7a7a7a" stroke-width="0.6"/><circle cx="542.72" cy="70.14" r="1.85" fill="#d2d2d2" stroke="#ababab" stroke-width="0.45"/>
<line x1="542.15" y1="75.66" x2="534.51" y2="75.62" stroke="#7a7a7a" stroke-width="0.6"/><line x1="542.22" y1="76.35" x2="534.74" y2="77.91" stroke="#7a7a7a" stroke-width="0.6"/><circle cx="543.68" cy="75.86" r="1.85" fill="#d2d2d2" stroke="#ababab" stroke-width="0.45"/>
<line x1="542.39" y1="81.25" x2="534.82" y2="80.20" stroke="#7a7a7a" stroke-width="0.6"/><line x1="542.36" y1="81.95" x2="534.74" y2="82.50" stroke="#7a7a7a" stroke-width="0.6"/><circle cx="543.88" cy="81.65" r="1.85" fill="#d2d2d2" stroke="#ababab" stroke-width="0.45"/>
<line x1="541.87" y1="86.82" x2="534.51" y2="84.77" stroke="#7a7a7a" stroke-width="0.6"/><line x1="541.76" y1="87.51" x2="534.13" y2="87.04" stroke="#7a7a7a" stroke-width="0.6"/><circle cx="543.30" cy="87.42" r="1.85" fill="#d2d2d2" stroke="#ababab" stroke-width="0.45"/>
<line x1="540.62" y1="92.28" x2="533.60" y2="89.26" stroke="#7a7a7a" stroke-width="0.6"/><line x1="540.42" y1="92.95" x2="532.92" y2="91.46" stroke="#7a7a7a" stroke-width="0.6"/><circle cx="541.95" cy="93.06" r="1.85" fill="#d2d2d2" stroke="#ababab" stroke-width="0.45"/>
<line x1="538.65" y1="97.52" x2="532.10" y2="93.59" stroke="#7a7a7a" stroke-width="0.6"/><line x1="538.36" y1="98.15" x2="531.13" y2="95.68" stroke="#7a7a7a" stroke-width="0.6"/><circle cx="539.87" cy="98.47" r="1.85" fill="#d2d2d2" stroke="#ababab" stroke-width="0.45"/>
<line x1="536.01" y1="102.45" x2="530.03" y2="97.69" stroke="#7a7a7a" stroke-width="0.6"/><line x1="535.63" y1="103.04" x2="528.79" y2="99.63" stroke="#7a7a7a" stroke-width="0.6"/><circle cx="537.08" cy="103.55" r="1.85" fill="#d2d2d2" stroke="#ababab" stroke-width="0.45"/>
<line x1="532.72" y1="106.98" x2="527.44" y2="101.47" stroke="#7a7a7a" stroke-width="0.6"/><line x1="532.27" y1="107.52" x2="525.95" y2="103.22" stroke="#7a7a7a" stroke-width="0.6"/><circle cx="533.64" cy="108.22" r="1.85" fill="#d2d2d2" stroke="#ababab" stroke-width="0.45"/>
<line x1="528.87" y1="111.04" x2="524.36" y2="104.87" stroke="#7a7a7a" stroke-width="0.6"/><line x1="528.35" y1="111.51" x2="522.66" y2="106.41" stroke="#7a7a7a" stroke-width="0.6"/><circle cx="529.61" cy="112.39" r="1.85" fill="#d2d2d2" stroke="#ababab" stroke-width="0.45"/>
<line x1="524.50" y1="114.55" x2="520.86" y2="107.83" stroke="#7a7a7a" stroke-width="0.6"/><line x1="523.92" y1="114.94" x2="518.96" y2="109.13" stroke="#7a7a7a" stroke-width="0.6"/><circle cx="525.06" cy="115.98" r="1.85" fill="#d2d2d2" stroke="#ababab" stroke-width="0.45"/>
<line x1="519.71" y1="117.44" x2="517.00" y2="110.29" stroke="#7a7a7a" stroke-width="0.6"/><line x1="519.08" y1="117.75" x2="514.94" y2="111.33" stroke="#7a7a7a" stroke-width="0.6"/><circle cx="520.07" cy="118.94" r="1.85" fill="#d2d2d2" stroke="#ababab" stroke-width="0.45"/>
<line x1="514.57" y1="119.67" x2="512.84" y2="112.22" stroke="#7a7a7a" stroke-width="0.6"/><line x1="513.91" y1="119.90" x2="510.66" y2="112.98" stroke="#7a7a7a" stroke-width="0.6"/><circle cx="514.74" cy="121.20" r="1.85" fill="#d2d2d2" stroke="#ababab" stroke-width="0.45"/>
<line x1="509.19" y1="121.19" x2="508.46" y2="113.58" stroke="#7a7a7a" stroke-width="0.6"/><line x1="508.50" y1="121.33" x2="506.21" y2="114.04" stroke="#7a7a7a" stroke-width="0.6"/><circle cx="509.14" cy="122.73" r="1.85" fill="#d2d2d2" stroke="#ababab" stroke-width="0.45"/>
<line x1="503.65" y1="121.98" x2="503.94" y2="114.35" stroke="#7a7a7a" stroke-width="0.6"/><line x1="502.95" y1="122.03" x2="501.64" y2="114.50" stroke="#7a7a7a" stroke-width="0.6"/><circle cx="503.40" cy="123.50" r="1.85" fill="#d2d2d2" stroke="#ababab" stroke-width="0.45"/>
<line x1="498.05" y1="122.03" x2="499.36" y2="114.50" stroke="#7a7a7a" stroke-width="0.6"/><line x1="497.35" y1="121.98" x2="497.06" y2="114.35" stroke="#7a7a7a" stroke-width="0.6"/><circle cx="497.60" cy="123.50" r="1.85" fill="#d2d2d2" stroke="#ababab" stroke-width="0.45"/>
<line x1="492.50" y1="121.33" x2="494.79" y2="114.04" stroke="#7a7a7a" stroke-width="0.6"/><line x1="491.81" y1="121.19" x2="492.54" y2="113.58" stroke="#7a7a7a" stroke-width="0.6"/><circle cx="491.86" cy="122.73" r="1.85" fill="#d2d2d2" stroke="#ababab" stroke-width="0.45"/>
<line x1="487.09" y1="119.90" x2="490.34" y2="112.98" stroke="#7a7a7a" stroke-width="0.6"/><line x1="486.43" y1="119.67" x2="488.16" y2="112.22" stroke="#7a7a7a" stroke-width="0.6"/><circle cx="486.26" cy="121.20" r="1.85" fill="#d2d2d2" stroke="#ababab" stroke-width="0.45"/>
<line x1="481.92" y1="117.75" x2="486.06" y2="111.33" stroke="#7a7a7a" stroke-width="0.6"/><line x1="481.29" y1="117.44" x2="484.00" y2="110.29" stroke="#7a7a7a" stroke-width="0.6"/><circle cx="480.93" cy="118.94" r="1.85" fill="#d2d2d2" stroke="#ababab" stroke-width="0.45"/>
<line x1="477.08" y1="114.94" x2="482.04" y2="109.13" stroke="#7a7a7a" stroke-width="0.6"/><line x1="476.50" y1="114.55" x2="480.14" y2="107.83" stroke="#7a7a7a" stroke-width="0.6"/><circle cx="475.94" cy="115.98" r="1.85" fill="#d2d2d2" stroke="#ababab" stroke-width="0.45"/>
<line x1="472.65" y1="111.51" x2="478.34" y2="106.41" stroke="#7a7a7a" stroke-width="0.6"/><line x1="472.13" y1="111.04" x2="476.64" y2="104.87" stroke="#7a7a7a" stroke-width="0.6"/><circle cx="471.39" cy="112.39" r="1.85" fill="#d2d2d2" stroke="#ababab" stroke-width="0.45"/>
<line x1="468.73" y1="107.52" x2="475.05" y2="103.22" stroke="#7a7a7a" stroke-width="0.6"/><line x1="468.28" y1="106.98" x2="473.56" y2="101.47" stroke="#7a7a7a" stroke-width="0.6"/><circle cx="467.36" cy="108.22" r="1.85" fill="#d2d2d2" stroke="#ababab" stroke-width="0.45"/>
<line x1="465.37" y1="103.04" x2="472.21" y2="99.63" stroke="#7a7a7a" stroke-width="0.6"/><line x1="464.99" y1="102.45" x2="470.97" y2="97.69" stroke="#7a7a7a" stroke-width="0.6"/><circle cx="463.92" cy="103.55" r="1.85" fill="#d2d2d2" stroke="#ababab" stroke-width="0.45"/>
<line x1="462.64" y1="98.15" x2="469.87" y2="95.68" stroke="#7a7a7a" stroke-width="0.6"/><line x1="462.35" y1="97.52" x2="468.90" y2="93.59" stroke="#7a7a7a" stroke-width="0.6"/><circle cx="461.13" cy="98.47" r="1.85" fill="#d2d2d2" stroke="#ababab" stroke-width="0.45"/>
<line x1="460.58" y1="92.95" x2="468.08" y2="91.46" stroke="#7a7a7a" stroke-width="0.6"/><line x1="460.38" y1="92.28" x2="467.40" y2="89.26" stroke="#7a7a7a" stroke-width="0.6"/><circle cx="459.05" cy="93.06" r="1.85" fill="#d2d2d2" stroke="#ababab" stroke-width="0.45"/>
<line x1="459.24" y1="87.51" x2="466.87" y2="87.04" stroke="#7a7a7a" stroke-width="0.6"/><line x1="459.13" y1="86.82" x2="466.49" y2="84.77" stroke="#7a7a7a" stroke-width="0.6"/><circle cx="457.70" cy="87.42" r="1.85" fill="#d2d2d2" stroke="#ababab" stroke-width="0.45"/>
<line x1="458.64" y1="81.95" x2="466.26" y2="82.50" stroke="#7a7a7a" stroke-width="0.6"/><line x1="458.61" y1="81.25" x2="466.18" y2="80.20" stroke="#7a7a7a" stroke-width="0.6"/><circle cx="457.12" cy="81.65" r="1.85" fill="#d2d2d2" stroke="#ababab" stroke-width="0.45"/>
<line x1="458.78" y1="76.35" x2="466.26" y2="77.91" stroke="#7a7a7a" stroke-width="0.6"/><line x1="458.85" y1="75.66" x2="466.49" y2="75.62" stroke="#7a7a7a" stroke-width="0.6"/><circle cx="457.32" cy="75.86" r="1.85" fill="#d2d2d2" stroke="#ababab" stroke-width="0.45"/>
<line x1="459.66" y1="70.83" x2="466.87" y2="73.37" stroke="#7a7a7a" stroke-width="0.6"/><line x1="459.82" y1="70.15" x2="467.40" y2="71.13" stroke="#7a7a7a" stroke-width="0.6"/><circle cx="458.28" cy="70.14" r="1.85" fill="#d2d2d2" stroke="#ababab" stroke-width="0.45"/>
<line x1="461.27" y1="65.47" x2="468.08" y2="68.95" stroke="#7a7a7a" stroke-width="0.6"/><line x1="461.53" y1="64.81" x2="468.91" y2="66.80" stroke="#7a7a7a" stroke-width="0.6"/><circle cx="460.00" cy="64.60" r="1.85" fill="#d2d2d2" stroke="#ababab" stroke-width="0.45"/>
<line x1="463.59" y1="60.37" x2="469.87" y2="64.72" stroke="#7a7a7a" stroke-width="0.6"/><line x1="463.92" y1="59.76" x2="470.97" y2="62.71" stroke="#7a7a7a" stroke-width="0.6"/><circle cx="462.44" cy="59.34" r="1.85" fill="#d2d2d2" stroke="#ababab" stroke-width="0.45"/>
<line x1="466.56" y1="55.63" x2="472.20" y2="60.78" stroke="#7a7a7a" stroke-width="0.6"/><line x1="466.98" y1="55.06" x2="473.57" y2="58.93" stroke="#7a7a7a" stroke-width="0.6"/><circle cx="465.56" cy="54.46" r="1.85" fill="#d2d2d2" stroke="#ababab" stroke-width="0.45"/>
<line x1="470.14" y1="51.32" x2="475.04" y2="57.18" stroke="#7a7a7a" stroke-width="0.6"/><line x1="470.62" y1="50.82" x2="476.64" y2="55.53" stroke="#7a7a7a" stroke-width="0.6"/><circle cx="469.30" cy="50.03" r="1.85" fill="#d2d2d2" stroke="#ababab" stroke-width="0.45"/>
<line x1="474.26" y1="47.53" x2="478.34" y2="53.99" stroke="#7a7a7a" stroke-width="0.6"/><line x1="474.81" y1="47.10" x2="480.15" y2="52.57" stroke="#7a7a7a" stroke-width="0.6"/><circle cx="473.60" cy="46.14" r="1.85" fill="#d2d2d2" stroke="#ababab" stroke-width="0.45"/>
<line x1="478.85" y1="44.33" x2="482.03" y2="51.27" stroke="#7a7a7a" stroke-width="0.6"/><line x1="479.45" y1="43.97" x2="484.01" y2="50.10" stroke="#7a7a7a" stroke-width="0.6"/><circle cx="478.38" cy="42.86" r="1.85" fill="#d2d2d2" stroke="#ababab" stroke-width="0.45"/>
<line x1="513.20" y1="56.60" x2="515.02" y2="51.66" stroke="#7a7a7a" stroke-width="0.6"/><line x1="513.81" y1="56.94" x2="517.04" y2="52.78" stroke="#7a7a7a" stroke-width="0.6"/><circle cx="512.78" cy="58.08" r="1.85" fill="#d2d2d2" stroke="#ababab" stroke-width="0.45"/>
<line x1="517.69" y1="59.64" x2="520.47" y2="55.17" stroke="#7a7a7a" stroke-width="0.6"/><line x1="518.22" y1="60.09" x2="522.22" y2="56.67" stroke="#7a7a7a" stroke-width="0.6"/><circle cx="516.98" cy="61.00" r="1.85" fill="#d2d2d2" stroke="#ababab" stroke-width="0.45"/>
<line x1="521.48" y1="63.52" x2="525.10" y2="59.70" stroke="#7a7a7a" stroke-width="0.6"/><line x1="521.91" y1="64.07" x2="526.51" y2="61.52" stroke="#7a7a7a" stroke-width="0.6"/><circle cx="520.51" cy="64.71" r="1.85" fill="#d2d2d2" stroke="#ababab" stroke-width="0.45"/>
<line x1="524.41" y1="68.08" x2="528.72" y2="65.07" stroke="#7a7a7a" stroke-width="0.6"/><line x1="524.72" y1="68.71" x2="529.74" y2="67.14" stroke="#7a7a7a" stroke-width="0.6"/><circle cx="523.21" cy="69.06" r="1.85" fill="#d2d2d2" stroke="#ababab" stroke-width="0.45"/>
<line x1="526.36" y1="73.14" x2="531.19" y2="71.07" stroke="#7a7a7a" stroke-width="0.6"/><line x1="526.53" y1="73.82" x2="531.77" y2="73.29" stroke="#7a7a7a" stroke-width="0.6"/><circle cx="524.99" cy="73.86" r="1.85" fill="#d2d2d2" stroke="#ababab" stroke-width="0.45"/>
<line x1="527.25" y1="78.49" x2="532.40" y2="77.43" stroke="#7a7a7a" stroke-width="0.6"/><line x1="527.28" y1="79.19" x2="532.52" y2="79.73" stroke="#7a7a7a" stroke-width="0.6"/><circle cx="525.77" cy="78.92" r="1.85" fill="#d2d2d2" stroke="#ababab" stroke-width="0.45"/>
<line x1="527.04" y1="83.91" x2="532.31" y2="83.91" stroke="#7a7a7a" stroke-width="0.6"/><line x1="526.94" y1="84.60" x2="531.96" y2="86.18" stroke="#7a7a7a" stroke-width="0.6"/><circle cx="525.51" cy="84.03" r="1.85" fill="#d2d2d2" stroke="#ababab" stroke-width="0.45"/>
<line x1="525.75" y1="89.18" x2="530.91" y2="90.24" stroke="#7a7a7a" stroke-width="0.6"/><line x1="525.51" y1="89.84" x2="530.11" y2="92.39" stroke="#7a7a7a" stroke-width="0.6"/><circle cx="524.23" cy="88.99" r="1.85" fill="#d2d2d2" stroke="#ababab" stroke-width="0.45"/>
<line x1="523.43" y1="94.08" x2="528.26" y2="96.15" stroke="#7a7a7a" stroke-width="0.6"/><line x1="523.06" y1="94.67" x2="527.05" y2="98.10" stroke="#7a7a7a" stroke-width="0.6"/><circle cx="521.97" cy="93.58" r="1.85" fill="#d2d2d2" stroke="#ababab" stroke-width="0.45"/>
<line x1="520.17" y1="98.41" x2="524.49" y2="101.41" stroke="#7a7a7a" stroke-width="0.6"/><line x1="519.68" y1="98.92" x2="522.90" y2="103.08" stroke="#7a7a7a" stroke-width="0.6"/><circle cx="518.84" cy="97.63" r="1.85" fill="#d2d2d2" stroke="#ababab" stroke-width="0.45"/>
<line x1="516.10" y1="102.00" x2="519.72" y2="105.81" stroke="#7a7a7a" stroke-width="0.6"/><line x1="515.52" y1="102.40" x2="517.84" y2="107.12" stroke="#7a7a7a" stroke-width="0.6"/><circle cx="514.95" cy="100.97" r="1.85" fill="#d2d2d2" stroke="#ababab" stroke-width="0.45"/>
<line x1="511.39" y1="104.69" x2="514.18" y2="109.15" stroke="#7a7a7a" stroke-width="0.6"/><line x1="510.75" y1="104.97" x2="512.06" y2="110.06" stroke="#7a7a7a" stroke-width="0.6"/><circle cx="510.48" cy="103.45" r="1.85" fill="#d2d2d2" stroke="#ababab" stroke-width="0.45"/>
<line x1="506.24" y1="106.38" x2="508.07" y2="111.31" stroke="#7a7a7a" stroke-width="0.6"/><line x1="505.55" y1="106.52" x2="505.82" y2="111.78" stroke="#7a7a7a" stroke-width="0.6"/><circle cx="505.59" cy="104.98" r="1.85" fill="#d2d2d2" stroke="#ababab" stroke-width="0.45"/>
<line x1="500.85" y1="107.00" x2="501.65" y2="112.20" stroke="#7a7a7a" stroke-width="0.6"/><line x1="500.15" y1="107.00" x2="499.35" y2="112.20" stroke="#7a7a7a" stroke-width="0.6"/><circle cx="500.50" cy="105.50" r="1.85" fill="#d2d2d2" stroke="#ababab" stroke-width="0.45"/>
<line x1="495.45" y1="106.52" x2="495.18" y2="111.78" stroke="#7a7a7a" stroke-width="0.6"/><line x1="494.76" y1="106.38" x2="492.93" y2="111.31" stroke="#7a7a7a" stroke-width="0.6"/><circle cx="495.41" cy="104.98" r="1.85" fill="#d2d2d2" stroke="#ababab" stroke-width="0.45"/>
<line x1="490.25" y1="104.97" x2="488.94" y2="110.06" stroke="#7a7a7a" stroke-width="0.6"/><line x1="489.61" y1="104.69" x2="486.82" y2="109.15" stroke="#7a7a7a" stroke-width="0.6"/><circle cx="490.52" cy="103.45" r="1.85" fill="#d2d2d2" stroke="#ababab" stroke-width="0.45"/>
<line x1="485.48" y1="102.40" x2="483.16" y2="107.12" stroke="#7a7a7a" stroke-width="0.6"/><line x1="484.90" y1="102.00" x2="481.28" y2="105.81" stroke="#7a7a7a" stroke-width="0.6"/><circle cx="486.05" cy="100.97" r="1.85" fill="#d2d2d2" stroke="#ababab" stroke-width="0.45"/>
<line x1="481.32" y1="98.92" x2="478.10" y2="103.08" stroke="#7a7a7a" stroke-width="0.6"/><line x1="480.83" y1="98.41" x2="476.51" y2="101.41" stroke="#7a7a7a" stroke-width="0.6"/><circle cx="482.16" cy="97.63" r="1.85" fill="#d2d2d2" stroke="#ababab" stroke-width="0.45"/>
<line x1="477.94" y1="94.67" x2="473.95" y2="98.10" stroke="#7a7a7a" stroke-width="0.6"/><line x1="477.57" y1="94.08" x2="472.74" y2="96.15" stroke="#7a7a7a" stroke-width="0.6"/><circle cx="479.03" cy="93.58" r="1.85" fill="#d2d2d2" stroke="#ababab" stroke-width="0.45"/>
<line x1="475.49" y1="89.84" x2="470.89" y2="92.39" stroke="#7a7a7a" stroke-width="0.6"/><line x1="475.25" y1="89.18" x2="470.09" y2="90.24" stroke="#7a7a7a" stroke-width="0.6"/><circle cx="476.77" cy="88.99" r="1.85" fill="#d2d2d2" stroke="#ababab" stroke-width="0.45"/>
<line x1="474.06" y1="84.60" x2="469.04" y2="86.18" stroke="#7a7a7a" stroke-width="0.6"/><line x1="473.96" y1="83.91" x2="468.69" y2="83.91" stroke="#7a7a7a" stroke-width="0.6"/><circle cx="475.49" cy="84.03" r="1.85" fill="#d2d2d2" stroke="#ababab" stroke-width="0.45"/>
<line x1="473.72" y1="79.19" x2="468.48" y2="79.73" stroke="#7a7a7a" stroke-width="0.6"/><line x1="473.75" y1="78.49" x2="468.60" y2="77.43" stroke="#7a7a7a" stroke-width="0.6"/><circle cx="475.23" cy="78.92" r="1.85" fill="#d2d2d2" stroke="#ababab" stroke-width="0.45"/>
<line x1="474.47" y1="73.82" x2="469.23" y2="73.29" stroke="#7a7a7a" stroke-width="0.6"/><line x1="474.64" y1="73.14" x2="469.81" y2="71.07" stroke="#7a7a7a" stroke-width="0.6"/><circle cx="476.01" cy="73.86" r="1.85" fill="#d2d2d2" stroke="#ababab" stroke-width="0.45"/>
<line x1="476.28" y1="68.71" x2="471.26" y2="67.14" stroke="#7a7a7a" stroke-width="0.6"/><line x1="476.59" y1="68.08" x2="472.28" y2="65.07" stroke="#7a7a7a" stroke-width="0.6"/><circle cx="477.79" cy="69.06" r="1.85" fill="#d2d2d2" stroke="#ababab" stroke-width="0.45"/>
<line x1="479.09" y1="64.07" x2="474.49" y2="61.52" stroke="#7a7a7a" stroke-width="0.6"/><line x1="479.52" y1="63.52" x2="475.90" y2="59.70" stroke="#7a7a7a" stroke-width="0.6"/><circle cx="480.49" cy="64.71" r="1.85" fill="#d2d2d2" stroke="#ababab" stroke-width="0.45"/>
<line x1="482.78" y1="60.09" x2="478.78" y2="56.67" stroke="#7a7a7a" stroke-width="0.6"/><line x1="483.31" y1="59.64" x2="480.53" y2="55.17" stroke="#7a7a7a" stroke-width="0.6"/><circle cx="484.02" cy="61.00" r="1.85" fill="#d2d2d2" stroke="#ababab" stroke-width="0.45"/>
<line x1="487.19" y1="56.94" x2="483.96" y2="52.78" stroke="#7a7a7a" stroke-width="0.6"/><line x1="487.80" y1="56.60" x2="485.98" y2="51.66" stroke="#7a7a7a" stroke-width="0.6"/><circle cx="488.22" cy="58.08" r="1.85" fill="#d2d2d2" stroke="#ababab" stroke-width="0.45"/>
<g filter="url(#soft)">
<clipPath id="clipE"><path d="M479.90,25.50 L482.00,22.00 L485.50,19.50 L489.70,18.50 L492.50,19.00 L494.80,21.00 L495.00,25.00 L493.50,28.50 L494.00,34.00 L494.80,40.10 L496.50,45.00 L498.40,49.50 L499.00,54.00 L497.50,57.50 L493.00,58.00 L489.70,57.30 L487.80,52.40 L486.00,47.50 L484.20,42.60 L482.50,38.00 L481.10,34.00 L480.00,29.50 Z M500.70,21.20 L503.50,19.80 L508.00,20.20 L510.50,22.50 L511.70,25.50 L512.00,31.00 L511.70,36.50 L510.80,41.50 L509.30,46.30 L507.50,51.50 L505.60,57.30 L502.00,58.20 L499.50,57.00 L499.20,53.00 L500.10,48.70 L500.80,44.00 L501.30,40.10 L502.00,34.00 L503.10,28.50 L501.50,24.50 Z"/></clipPath>
<g clip-path="url(#clipE)">
<path d="M479.90,25.50 L482.00,22.00 L485.50,19.50 L489.70,18.50 L492.50,19.00 L494.80,21.00 L495.00,25.00 L493.50,28.50 L494.00,34.00 L494.80,40.10 L496.50,45.00 L498.40,49.50 L499.00,54.00 L497.50,57.50 L493.00,58.00 L489.70,57.30 L487.80,52.40 L486.00,47.50 L484.20,42.60 L482.50,38.00 L481.10,34.00 L480.00,29.50 Z M500.70,21.20 L503.50,19.80 L508.00,20.20 L510.50,22.50 L511.70,25.50 L512.00,31.00 L511.70,36.50 L510.80,41.50 L509.30,46.30 L507.50,51.50 L505.60,57.30 L502.00,58.20 L499.50,57.00 L499.20,53.00 L500.10,48.70 L500.80,44.00 L501.30,40.10 L502.00,34.00 L503.10,28.50 L501.50,24.50 Z" fill="#7df47f"/>
<line x1="473.9" y1="8.7" x2="476.2" y2="7.8" stroke="#1f4a22" stroke-width="0.56" opacity="0.25" stroke-linecap="round"/><line x1="477.4" y1="7.4" x2="479.1" y2="6.8" stroke="#1f4a22" stroke-width="0.75" opacity="0.35" stroke-linecap="round"/><line x1="481.7" y1="5.9" x2="485.8" y2="4.3" stroke="#1f4a22" stroke-width="0.61" opacity="0.29" stroke-linecap="round"/><line x1="487.2" y1="3.8" x2="489.4" y2="3.1" stroke="#1f4a22" stroke-width="0.50" opacity="0.25" stroke-linecap="round"/><line x1="492.2" y1="2.0" x2="496.6" y2="0.4" stroke="#1f4a22" stroke-width="0.71" opacity="0.49" stroke-linecap="round"/><line x1="497.8" y1="1.3" x2="500.4" y2="2.3" stroke="#1f4a22" stroke-width="0.68" opacity="0.43" stroke-linecap="round"/><line x1="503.1" y1="3.3" x2="507.7" y2="4.9" stroke="#1f4a22" stroke-width="0.64" opacity="0.24" stroke-linecap="round"/><line x1="509.9" y1="5.8" x2="513.2" y2="6.9" stroke="#1f4a22" stroke-width="0.59" opacity="0.27" stroke-linecap="round"/><line x1="514.2" y1="7.3" x2="519.0" y2="9.0" stroke="#1f4a22" stroke-width="0.62" opacity="0.51" stroke-linecap="round"/><line x1="473.9" y1="11.6" x2="477.4" y2="10.3" stroke="#1f4a22" stroke-width="0.73" opacity="0.52" stroke-linecap="round"/><line x1="479.3" y1="9.6" x2="482.3" y2="8.6" stroke="#1f4a22" stroke-width="0.58" opacity="0.42" stroke-linecap="round"/><line x1="483.4" y1="8.1" x2="486.0" y2="7.2" stroke="#1f4a22" stroke-width="0.44" opacity="0.49" stroke-linecap="round"/><line x1="486.9" y1="6.9" x2="490.6" y2="5.5" stroke="#1f4a22" stroke-width="0.61" opacity="0.31" stroke-linecap="round"/><line x1="492.4" y1="4.9" x2="495.1" y2="3.9" stroke="#1f4a22" stroke-width="0.49" opacity="0.56" stroke-linecap="round"/><line x1="496.8" y1="3.9" x2="499.0" y2="4.7" stroke="#1f4a22" stroke-width="0.52" opacity="0.43" stroke-linecap="round"/><line x1="500.6" y1="5.3" x2="504.7" y2="6.8" stroke="#1f4a22" stroke-width="0.62" opacity="0.32" stroke-linecap="round"/><line x1="507.5" y1="7.8" x2="509.4" y2="8.5" stroke="#1f4a22" stroke-width="0.50" opacity="0.23" stroke-linecap="round"/><line x1="511.9" y1="9.4" x2="515.5" y2="10.7" stroke="#1f4a22" stroke-width="0.54" opacity="0.29" stroke-linecap="round"/><line x1="516.7" y1="11.1" x2="519.8" y2="12.3" stroke="#1f4a22" stroke-width="0.67" opacity="0.22" stroke-linecap="round"/><line x1="473.9" y1="14.6" x2="478.0" y2="13.1" stroke="#1f4a22" stroke-width="0.43" opacity="0.55" stroke-linecap="round"/><line x1="479.4" y1="12.6" x2="484.3" y2="10.8" stroke="#1f4a22" stroke-width="0.57" opacity="0.48" stroke-linecap="round"/><line x1="487.2" y1="9.7" x2="490.8" y2="8.4" stroke="#1f4a22" stroke-width="0.53" opacity="0.50" stroke-linecap="round"/><line x1="492.1" y1="8.0" x2="495.1" y2="6.9" stroke="#1f4a22" stroke-width="0.56" opacity="0.26" stroke-linecap="round"/><line x1="498.0" y1="7.3" x2="500.7" y2="8.3" stroke="#1f4a22" stroke-width="0.44" opacity="0.21" stroke-linecap="round"/><line x1="501.9" y1="8.7" x2="506.1" y2="10.2" stroke="#1f4a22" stroke-width="0.52" opacity="0.34" stroke-linecap="round"/><line x1="507.1" y1="10.6" x2="512.1" y2="12.4" stroke="#1f4a22" stroke-width="0.49" opacity="0.36" stroke-linecap="round"/><line x1="513.0" y1="12.7" x2="514.7" y2="13.4" stroke="#1f4a22" stroke-width="0.66" opacity="0.27" stroke-linecap="round"/><line x1="515.8" y1="13.8" x2="517.4" y2="14.4" stroke="#1f4a22" stroke-width="0.51" opacity="0.38" stroke-linecap="round"/><line x1="473.9" y1="16.9" x2="477.3" y2="15.7" stroke="#1f4a22" stroke-width="0.57" opacity="0.48" stroke-linecap="round"/><line x1="480.2" y1="14.6" x2="483.4" y2="13.4" stroke="#1f4a22" stroke-width="0.57" opacity="0.29" stroke-linecap="round"/><line x1="484.3" y1="13.1" x2="487.3" y2="12.0" stroke="#1f4a22" stroke-width="0.74" opacity="0.30" stroke-linecap="round"/><line x1="489.9" y1="11.1" x2="493.1" y2="9.9" stroke="#1f4a22" stroke-width="0.51" opacity="0.22" stroke-linecap="round"/><line x1="494.5" y1="9.4" x2="496.7" y2="8.6" stroke="#1f4a22" stroke-width="0.73" opacity="0.29" stroke-linecap="round"/><line x1="497.8" y1="9.5" x2="499.5" y2="10.1" stroke="#1f4a22" stroke-width="0.62" opacity="0.53" stroke-linecap="round"/><line x1="502.5" y1="11.2" x2="505.4" y2="12.3" stroke="#1f4a22" stroke-width="0.66" opacity="0.53" stroke-linecap="round"/><line x1="507.9" y1="13.2" x2="512.0" y2="14.7" stroke="#1f4a22" stroke-width="0.45" opacity="0.38" stroke-linecap="round"/><line x1="513.3" y1="15.2" x2="517.8" y2="16.8" stroke="#1f4a22" stroke-width="0.75" opacity="0.52" stroke-linecap="round"/><line x1="473.9" y1="19.6" x2="478.2" y2="18.0" stroke="#1f4a22" stroke-width="0.71" opacity="0.43" stroke-linecap="round"/><line x1="480.2" y1="17.3" x2="484.0" y2="15.9" stroke="#1f4a22" stroke-width="0.52" opacity="0.45" stroke-linecap="round"/><line x1="486.8" y1="14.9" x2="491.6" y2="13.1" stroke="#1f4a22" stroke-width="0.77" opacity="0.24" stroke-linecap="round"/><line x1="494.5" y1="12.1" x2="498.4" y2="10.7" stroke="#1f4a22" stroke-width="0.74" opacity="0.23" stroke-linecap="round"/><line x1="499.5" y1="12.9" x2="504.4" y2="14.6" stroke="#1f4a22" stroke-width="0.44" opacity="0.44" stroke-linecap="round"/><line x1="505.5" y1="15.1" x2="509.2" y2="16.4" stroke="#1f4a22" stroke-width="0.69" opacity="0.41" stroke-linecap="round"/><line x1="512.1" y1="17.4" x2="514.4" y2="18.3" stroke="#1f4a22" stroke-width="0.75" opacity="0.21" stroke-linecap="round"/><line x1="515.2" y1="18.6" x2="519.7" y2="20.2" stroke="#1f4a22" stroke-width="0.71" opacity="0.25" stroke-linecap="round"/><line x1="473.9" y1="22.5" x2="477.3" y2="21.3" stroke="#1f4a22" stroke-width="0.49" opacity="0.52" stroke-linecap="round"/><line x1="479.6" y1="20.4" x2="482.3" y2="19.5" stroke="#1f4a22" stroke-width="0.70" opacity="0.52" stroke-linecap="round"/><line x1="484.1" y1="18.8" x2="487.4" y2="17.6" stroke="#1f4a22" stroke-width="0.43" opacity="0.22" stroke-linecap="round"/><line x1="489.5" y1="16.8" x2="492.8" y2="15.6" stroke="#1f4a22" stroke-width="0.64" opacity="0.51" stroke-linecap="round"/><line x1="493.9" y1="15.2" x2="496.6" y2="14.2" stroke="#1f4a22" stroke-width="0.61" opacity="0.48" stroke-linecap="round"/><line x1="497.5" y1="15.0" x2="501.9" y2="16.6" stroke="#1f4a22" stroke-width="0.45" opacity="0.50" stroke-linecap="round"/><line x1="503.9" y1="17.4" x2="506.7" y2="18.4" stroke="#1f4a22" stroke-width="0.53" opacity="0.49" stroke-linecap="round"/><line x1="508.0" y1="18.9" x2="511.2" y2="20.0" stroke="#1f4a22" stroke-width="0.45" opacity="0.55" stroke-linecap="round"/><line x1="512.3" y1="20.4" x2="516.0" y2="21.8" stroke="#1f4a22" stroke-width="0.60" opacity="0.52" stroke-linecap="round"/><line x1="517.7" y1="22.4" x2="522.2" y2="24.0" stroke="#1f4a22" stroke-width="0.44" opacity="0.48" stroke-linecap="round"/><line x1="473.9" y1="24.9" x2="476.5" y2="23.9" stroke="#1f4a22" stroke-width="0.57" opacity="0.50" stroke-linecap="round"/><line x1="479.0" y1="23.0" x2="481.1" y2="22.2" stroke="#1f4a22" stroke-width="0.48" opacity="0.52" stroke-linecap="round"/><line x1="482.2" y1="21.8" x2="485.5" y2="20.7" stroke="#1f4a22" stroke-width="0.62" opacity="0.33" stroke-linecap="round"/><line x1="488.2" y1="19.6" x2="492.2" y2="18.2" stroke="#1f4a22" stroke-width="0.53" opacity="0.21" stroke-linecap="round"/><line x1="494.2" y1="17.5" x2="497.4" y2="16.3" stroke="#1f4a22" stroke-width="0.59" opacity="0.46" stroke-linecap="round"/><line x1="498.4" y1="17.7" x2="500.8" y2="18.6" stroke="#1f4a22" stroke-width="0.55" opacity="0.51" stroke-linecap="round"/><line x1="503.2" y1="19.5" x2="508.2" y2="21.3" stroke="#1f4a22" stroke-width="0.66" opacity="0.43" stroke-linecap="round"/><line x1="510.3" y1="22.1" x2="512.9" y2="23.0" stroke="#1f4a22" stroke-width="0.59" opacity="0.53" stroke-linecap="round"/><line x1="515.7" y1="24.0" x2="518.3" y2="25.0" stroke="#1f4a22" stroke-width="0.70" opacity="0.51" stroke-linecap="round"/><line x1="473.9" y1="27.4" x2="475.9" y2="26.7" stroke="#1f4a22" stroke-width="0.55" opacity="0.48" stroke-linecap="round"/><line x1="478.1" y1="25.9" x2="480.1" y2="25.1" stroke="#1f4a22" stroke-width="0.47" opacity="0.24" stroke-linecap="round"/><line x1="482.7" y1="24.2" x2="484.8" y2="23.4" stroke="#1f4a22" stroke-width="0.55" opacity="0.53" stroke-linecap="round"/><line x1="486.9" y1="22.7" x2="489.6" y2="21.7" stroke="#1f4a22" stroke-width="0.45" opacity="0.43" stroke-linecap="round"/><line x1="491.3" y1="21.1" x2="496.1" y2="19.3" stroke="#1f4a22" stroke-width="0.66" opacity="0.27" stroke-linecap="round"/><line x1="497.6" y1="20.0" x2="500.1" y2="20.9" stroke="#1f4a22" stroke-width="0.43" opacity="0.22" stroke-linecap="round"/><line x1="503.0" y1="22.0" x2="507.4" y2="23.6" stroke="#1f4a22" stroke-width="0.71" opacity="0.49" stroke-linecap="round"/><line x1="510.3" y1="24.6" x2="512.4" y2="25.4" stroke="#1f4a22" stroke-width="0.60" opacity="0.41" stroke-linecap="round"/><line x1="514.5" y1="26.1" x2="519.2" y2="27.9" stroke="#1f4a22" stroke-width="0.77" opacity="0.48" stroke-linecap="round"/><line x1="473.9" y1="30.1" x2="477.8" y2="28.7" stroke="#1f4a22" stroke-width="0.64" opacity="0.47" stroke-linecap="round"/><line x1="480.4" y1="27.8" x2="483.0" y2="26.8" stroke="#1f4a22" stroke-width="0.57" opacity="0.53" stroke-linecap="round"/><line x1="485.1" y1="26.1" x2="489.7" y2="24.4" stroke="#1f4a22" stroke-width="0.53" opacity="0.46" stroke-linecap="round"/><line x1="491.0" y1="23.9" x2="493.7" y2="22.9" stroke="#1f4a22" stroke-width="0.78" opacity="0.43" stroke-linecap="round"/><line x1="496.4" y1="22.3" x2="499.3" y2="23.3" stroke="#1f4a22" stroke-width="0.71" opacity="0.35" stroke-linecap="round"/><line x1="500.8" y1="23.9" x2="503.7" y2="24.9" stroke="#1f4a22" stroke-width="0.49" opacity="0.21" stroke-linecap="round"/><line x1="505.7" y1="25.7" x2="509.6" y2="27.1" stroke="#1f4a22" stroke-width="0.55" opacity="0.43" stroke-linecap="round"/><line x1="512.5" y1="28.1" x2="516.2" y2="29.5" stroke="#1f4a22" stroke-width="0.44" opacity="0.26" stroke-linecap="round"/><line x1="473.9" y1="33.1" x2="478.6" y2="31.4" stroke="#1f4a22" stroke-width="0.53" opacity="0.42" stroke-linecap="round"/><line x1="479.6" y1="31.0" x2="482.0" y2="30.2" stroke="#1f4a22" stroke-width="0.75" opacity="0.29" stroke-linecap="round"/><line x1="484.8" y1="29.2" x2="489.0" y2="27.6" stroke="#1f4a22" stroke-width="0.51" opacity="0.26" stroke-linecap="round"/><line x1="490.5" y1="27.1" x2="495.3" y2="25.3" stroke="#1f4a22" stroke-width="0.70" opacity="0.27" stroke-linecap="round"/><line x1="497.6" y1="25.7" x2="501.0" y2="26.9" stroke="#1f4a22" stroke-width="0.51" opacity="0.55" stroke-linecap="round"/><line x1="503.0" y1="27.6" x2="505.0" y2="28.4" stroke="#1f4a22" stroke-width="0.43" opacity="0.24" stroke-linecap="round"/><line x1="506.5" y1="28.9" x2="508.4" y2="29.6" stroke="#1f4a22" stroke-width="0.78" opacity="0.23" stroke-linecap="round"/><line x1="509.9" y1="30.2" x2="514.5" y2="31.8" stroke="#1f4a22" stroke-width="0.68" opacity="0.46" stroke-linecap="round"/><line x1="516.7" y1="32.7" x2="521.6" y2="34.4" stroke="#1f4a22" stroke-width="0.68" opacity="0.52" stroke-linecap="round"/><line x1="473.9" y1="35.9" x2="477.9" y2="34.4" stroke="#1f4a22" stroke-width="0.60" opacity="0.40" stroke-linecap="round"/><line x1="479.1" y1="34.0" x2="483.5" y2="32.4" stroke="#1f4a22" stroke-width="0.44" opacity="0.38" stroke-linecap="round"/><line x1="484.7" y1="31.9" x2="489.3" y2="30.3" stroke="#1f4a22" stroke-width="0.56" opacity="0.30" stroke-linecap="round"/><line x1="491.6" y1="29.4" x2="496.1" y2="27.8" stroke="#1f4a22" stroke-width="0.56" opacity="0.32" stroke-linecap="round"/><line x1="497.8" y1="28.5" x2="499.4" y2="29.1" stroke="#1f4a22" stroke-width="0.43" opacity="0.52" stroke-linecap="round"/><line x1="502.3" y1="30.2" x2="504.4" y2="30.9" stroke="#1f4a22" stroke-width="0.73" opacity="0.26" stroke-linecap="round"/><line x1="507.0" y1="31.9" x2="509.3" y2="32.7" stroke="#1f4a22" stroke-width="0.59" opacity="0.40" stroke-linecap="round"/><line x1="511.7" y1="33.6" x2="513.8" y2="34.3" stroke="#1f4a22" stroke-width="0.78" opacity="0.50" stroke-linecap="round"/><line x1="516.2" y1="35.2" x2="520.9" y2="36.9" stroke="#1f4a22" stroke-width="0.56" opacity="0.54" stroke-linecap="round"/><line x1="473.9" y1="38.7" x2="477.5" y2="37.5" stroke="#1f4a22" stroke-width="0.64" opacity="0.25" stroke-linecap="round"/><line x1="480.3" y1="36.4" x2="482.8" y2="35.5" stroke="#1f4a22" stroke-width="0.74" opacity="0.44" stroke-linecap="round"/><line x1="484.9" y1="34.7" x2="486.6" y2="34.1" stroke="#1f4a22" stroke-width="0.51" opacity="0.43" stroke-linecap="round"/><line x1="489.3" y1="33.2" x2="493.1" y2="31.8" stroke="#1f4a22" stroke-width="0.74" opacity="0.32" stroke-linecap="round"/><line x1="495.3" y1="31.0" x2="497.9" y2="30.0" stroke="#1f4a22" stroke-width="0.74" opacity="0.50" stroke-linecap="round"/><line x1="500.7" y1="32.5" x2="505.3" y2="34.1" stroke="#1f4a22" stroke-width="0.67" opacity="0.44" stroke-linecap="round"/><line x1="507.4" y1="34.9" x2="510.8" y2="36.1" stroke="#1f4a22" stroke-width="0.55" opacity="0.56" stroke-linecap="round"/><line x1="511.8" y1="36.5" x2="515.8" y2="37.9" stroke="#1f4a22" stroke-width="0.62" opacity="0.38" stroke-linecap="round"/><line x1="517.9" y1="38.7" x2="520.2" y2="39.6" stroke="#1f4a22" stroke-width="0.45" opacity="0.28" stroke-linecap="round"/><line x1="473.9" y1="41.7" x2="477.8" y2="40.2" stroke="#1f4a22" stroke-width="0.77" opacity="0.25" stroke-linecap="round"/><line x1="480.5" y1="39.3" x2="483.7" y2="38.1" stroke="#1f4a22" stroke-width="0.72" opacity="0.21" stroke-linecap="round"/><line x1="485.9" y1="37.3" x2="489.6" y2="36.0" stroke="#1f4a22" stroke-width="0.68" opacity="0.22" stroke-linecap="round"/><line x1="490.5" y1="35.6" x2="493.6" y2="34.5" stroke="#1f4a22" stroke-width="0.55" opacity="0.26" stroke-linecap="round"/><line x1="496.4" y1="33.8" x2="500.5" y2="35.3" stroke="#1f4a22" stroke-width="0.53" opacity="0.50" stroke-linecap="round"/><line x1="502.2" y1="35.9" x2="505.8" y2="37.2" stroke="#1f4a22" stroke-width="0.57" opacity="0.22" stroke-linecap="round"/><line x1="508.7" y1="38.3" x2="512.9" y2="39.8" stroke="#1f4a22" stroke-width="0.53" opacity="0.51" stroke-linecap="round"/><line x1="515.2" y1="40.6" x2="519.5" y2="42.2" stroke="#1f4a22" stroke-width="0.58" opacity="0.46" stroke-linecap="round"/><line x1="473.9" y1="43.9" x2="478.5" y2="42.2" stroke="#1f4a22" stroke-width="0.52" opacity="0.54" stroke-linecap="round"/><line x1="481.0" y1="41.3" x2="483.9" y2="40.2" stroke="#1f4a22" stroke-width="0.72" opacity="0.43" stroke-linecap="round"/><line x1="485.4" y1="39.7" x2="489.1" y2="38.4" stroke="#1f4a22" stroke-width="0.60" opacity="0.30" stroke-linecap="round"/><line x1="489.9" y1="38.0" x2="492.4" y2="37.2" stroke="#1f4a22" stroke-width="0.75" opacity="0.31" stroke-linecap="round"/><line x1="493.4" y1="36.8" x2="497.6" y2="35.3" stroke="#1f4a22" stroke-width="0.78" opacity="0.24" stroke-linecap="round"/><line x1="498.8" y1="36.9" x2="500.6" y2="37.5" stroke="#1f4a22" stroke-width="0.76" opacity="0.28" stroke-linecap="round"/><line x1="502.9" y1="38.4" x2="507.5" y2="40.1" stroke="#1f4a22" stroke-width="0.46" opacity="0.38" stroke-linecap="round"/><line x1="509.0" y1="40.6" x2="512.1" y2="41.7" stroke="#1f4a22" stroke-width="0.48" opacity="0.56" stroke-linecap="round"/><line x1="513.5" y1="42.2" x2="517.9" y2="43.9" stroke="#1f4a22" stroke-width="0.77" opacity="0.25" stroke-linecap="round"/><line x1="473.9" y1="46.5" x2="477.7" y2="45.2" stroke="#1f4a22" stroke-width="0.45" opacity="0.53" stroke-linecap="round"/><line x1="480.4" y1="44.2" x2="482.5" y2="43.4" stroke="#1f4a22" stroke-width="0.43" opacity="0.46" stroke-linecap="round"/><line x1="485.0" y1="42.5" x2="487.1" y2="41.7" stroke="#1f4a22" stroke-width="0.43" opacity="0.28" stroke-linecap="round"/><line x1="488.6" y1="41.2" x2="491.3" y2="40.2" stroke="#1f4a22" stroke-width="0.64" opacity="0.55" stroke-linecap="round"/><line x1="492.9" y1="39.6" x2="497.9" y2="37.8" stroke="#1f4a22" stroke-width="0.50" opacity="0.27" stroke-linecap="round"/><line x1="500.8" y1="40.3" x2="505.6" y2="42.0" stroke="#1f4a22" stroke-width="0.77" opacity="0.45" stroke-linecap="round"/><line x1="506.5" y1="42.4" x2="511.2" y2="44.1" stroke="#1f4a22" stroke-width="0.66" opacity="0.46" stroke-linecap="round"/><line x1="513.8" y1="45.0" x2="515.7" y2="45.7" stroke="#1f4a22" stroke-width="0.47" opacity="0.28" stroke-linecap="round"/><line x1="517.5" y1="46.4" x2="521.0" y2="47.6" stroke="#1f4a22" stroke-width="0.55" opacity="0.40" stroke-linecap="round"/><line x1="473.9" y1="49.4" x2="478.1" y2="47.9" stroke="#1f4a22" stroke-width="0.48" opacity="0.22" stroke-linecap="round"/><line x1="479.3" y1="47.4" x2="481.7" y2="46.6" stroke="#1f4a22" stroke-width="0.49" opacity="0.41" stroke-linecap="round"/><line x1="483.8" y1="45.8" x2="486.5" y2="44.8" stroke="#1f4a22" stroke-width="0.67" opacity="0.34" stroke-linecap="round"/><line x1="489.4" y1="43.8" x2="491.6" y2="43.0" stroke="#1f4a22" stroke-width="0.77" opacity="0.33" stroke-linecap="round"/><line x1="492.9" y1="42.5" x2="494.5" y2="41.9" stroke="#1f4a22" stroke-width="0.72" opacity="0.28" stroke-linecap="round"/><line x1="496.9" y1="41.7" x2="501.6" y2="43.5" stroke="#1f4a22" stroke-width="0.43" opacity="0.38" stroke-linecap="round"/><line x1="503.1" y1="44.0" x2="507.1" y2="45.5" stroke="#1f4a22" stroke-width="0.47" opacity="0.35" stroke-linecap="round"/><line x1="508.8" y1="46.0" x2="511.9" y2="47.2" stroke="#1f4a22" stroke-width="0.58" opacity="0.33" stroke-linecap="round"/><line x1="513.0" y1="47.6" x2="514.6" y2="48.2" stroke="#1f4a22" stroke-width="0.68" opacity="0.48" stroke-linecap="round"/><line x1="516.3" y1="48.8" x2="518.2" y2="49.5" stroke="#1f4a22" stroke-width="0.62" opacity="0.31" stroke-linecap="round"/><line x1="473.9" y1="52.0" x2="478.8" y2="50.2" stroke="#1f4a22" stroke-width="0.49" opacity="0.39" stroke-linecap="round"/><line x1="481.0" y1="49.4" x2="484.6" y2="48.1" stroke="#1f4a22" stroke-width="0.68" opacity="0.42" stroke-linecap="round"/><line x1="485.4" y1="47.8" x2="488.4" y2="46.7" stroke="#1f4a22" stroke-width="0.47" opacity="0.49" stroke-linecap="round"/><line x1="489.3" y1="46.4" x2="491.5" y2="45.6" stroke="#1f4a22" stroke-width="0.58" opacity="0.31" stroke-linecap="round"/><line x1="493.0" y1="45.1" x2="496.7" y2="43.7" stroke="#1f4a22" stroke-width="0.54" opacity="0.27" stroke-linecap="round"/><line x1="499.0" y1="45.1" x2="502.4" y2="46.3" stroke="#1f4a22" stroke-width="0.76" opacity="0.55" stroke-linecap="round"/><line x1="503.7" y1="46.8" x2="506.4" y2="47.8" stroke="#1f4a22" stroke-width="0.62" opacity="0.40" stroke-linecap="round"/><line x1="508.0" y1="48.4" x2="512.5" y2="50.0" stroke="#1f4a22" stroke-width="0.59" opacity="0.28" stroke-linecap="round"/><line x1="513.6" y1="50.4" x2="518.2" y2="52.1" stroke="#1f4a22" stroke-width="0.78" opacity="0.42" stroke-linecap="round"/><line x1="473.9" y1="54.8" x2="477.5" y2="53.5" stroke="#1f4a22" stroke-width="0.72" opacity="0.23" stroke-linecap="round"/><line x1="480.2" y1="52.5" x2="482.0" y2="51.8" stroke="#1f4a22" stroke-width="0.70" opacity="0.54" stroke-linecap="round"/><line x1="484.1" y1="51.0" x2="487.5" y2="49.8" stroke="#1f4a22" stroke-width="0.44" opacity="0.30" stroke-linecap="round"/><line x1="489.4" y1="49.1" x2="493.9" y2="47.5" stroke="#1f4a22" stroke-width="0.59" opacity="0.28" stroke-linecap="round"/><line x1="495.3" y1="47.0" x2="499.2" y2="45.5" stroke="#1f4a22" stroke-width="0.74" opacity="0.55" stroke-linecap="round"/><line x1="500.7" y1="48.5" x2="503.6" y2="49.5" stroke="#1f4a22" stroke-width="0.61" opacity="0.21" stroke-linecap="round"/><line x1="506.3" y1="50.5" x2="510.8" y2="52.1" stroke="#1f4a22" stroke-width="0.58" opacity="0.24" stroke-linecap="round"/><line x1="511.7" y1="52.5" x2="514.7" y2="53.6" stroke="#1f4a22" stroke-width="0.52" opacity="0.53" stroke-linecap="round"/><line x1="517.4" y1="54.5" x2="522.2" y2="56.3" stroke="#1f4a22" stroke-width="0.49" opacity="0.50" stroke-linecap="round"/><line x1="473.9" y1="57.7" x2="478.9" y2="55.9" stroke="#1f4a22" stroke-width="0.42" opacity="0.21" stroke-linecap="round"/><line x1="480.3" y1="55.4" x2="483.6" y2="54.2" stroke="#1f4a22" stroke-width="0.45" opacity="0.36" stroke-linecap="round"/><line x1="485.9" y1="53.4" x2="489.7" y2="52.0" stroke="#1f4a22" stroke-width="0.60" opacity="0.43" stroke-linecap="round"/><line x1="491.7" y1="51.2" x2="495.6" y2="49.8" stroke="#1f4a22" stroke-width="0.58" opacity="0.23" stroke-linecap="round"/><line x1="496.7" y1="50.0" x2="498.6" y2="50.6" stroke="#1f4a22" stroke-width="0.54" opacity="0.48" stroke-linecap="round"/><line x1="500.1" y1="51.2" x2="502.6" y2="52.1" stroke="#1f4a22" stroke-width="0.46" opacity="0.42" stroke-linecap="round"/><line x1="504.8" y1="52.9" x2="506.6" y2="53.5" stroke="#1f4a22" stroke-width="0.48" opacity="0.54" stroke-linecap="round"/><line x1="509.0" y1="54.4" x2="512.4" y2="55.7" stroke="#1f4a22" stroke-width="0.53" opacity="0.36" stroke-linecap="round"/><line x1="514.0" y1="56.3" x2="518.2" y2="57.8" stroke="#1f4a22" stroke-width="0.61" opacity="0.39" stroke-linecap="round"/><line x1="473.9" y1="60.4" x2="476.0" y2="59.6" stroke="#1f4a22" stroke-width="0.65" opacity="0.38" stroke-linecap="round"/><line x1="478.0" y1="58.9" x2="481.5" y2="57.6" stroke="#1f4a22" stroke-width="0.49" opacity="0.41" stroke-linecap="round"/><line x1="484.4" y1="56.6" x2="488.3" y2="55.2" stroke="#1f4a22" stroke-width="0.76" opacity="0.46" stroke-linecap="round"/><line x1="490.1" y1="54.5" x2="492.8" y2="53.5" stroke="#1f4a22" stroke-width="0.53" opacity="0.32" stroke-linecap="round"/><line x1="494.2" y1="53.0" x2="496.9" y2="52.0" stroke="#1f4a22" stroke-width="0.59" opacity="0.28" stroke-linecap="round"/><line x1="498.3" y1="53.2" x2="501.1" y2="54.2" stroke="#1f4a22" stroke-width="0.53" opacity="0.44" stroke-linecap="round"/><line x1="503.8" y1="55.2" x2="508.1" y2="56.8" stroke="#1f4a22" stroke-width="0.72" opacity="0.32" stroke-linecap="round"/><line x1="509.3" y1="57.2" x2="511.1" y2="57.9" stroke="#1f4a22" stroke-width="0.43" opacity="0.56" stroke-linecap="round"/><line x1="511.9" y1="58.2" x2="516.4" y2="59.8" stroke="#1f4a22" stroke-width="0.66" opacity="0.21" stroke-linecap="round"/><line x1="473.9" y1="62.8" x2="476.3" y2="61.9" stroke="#1f4a22" stroke-width="0.56" opacity="0.55" stroke-linecap="round"/><line x1="477.6" y1="61.4" x2="480.6" y2="60.3" stroke="#1f4a22" stroke-width="0.52" opacity="0.47" stroke-linecap="round"/><line x1="481.6" y1="60.0" x2="485.9" y2="58.4" stroke="#1f4a22" stroke-width="0.44" opacity="0.24" stroke-linecap="round"/><line x1="486.7" y1="58.1" x2="491.7" y2="56.3" stroke="#1f4a22" stroke-width="0.69" opacity="0.36" stroke-linecap="round"/><line x1="493.7" y1="55.6" x2="498.6" y2="53.8" stroke="#1f4a22" stroke-width="0.55" opacity="0.33" stroke-linecap="round"/><line x1="500.9" y1="56.6" x2="502.4" y2="57.1" stroke="#1f4a22" stroke-width="0.69" opacity="0.34" stroke-linecap="round"/><line x1="504.5" y1="57.9" x2="507.7" y2="59.0" stroke="#1f4a22" stroke-width="0.58" opacity="0.54" stroke-linecap="round"/><line x1="510.1" y1="59.9" x2="513.0" y2="61.0" stroke="#1f4a22" stroke-width="0.56" opacity="0.24" stroke-linecap="round"/><line x1="514.2" y1="61.4" x2="515.8" y2="62.0" stroke="#1f4a22" stroke-width="0.47" opacity="0.31" stroke-linecap="round"/><line x1="517.6" y1="62.7" x2="521.7" y2="64.1" stroke="#1f4a22" stroke-width="0.74" opacity="0.48" stroke-linecap="round"/><line x1="473.9" y1="65.5" x2="478.5" y2="63.8" stroke="#1f4a22" stroke-width="0.75" opacity="0.35" stroke-linecap="round"/><line x1="479.5" y1="63.5" x2="484.3" y2="61.7" stroke="#1f4a22" stroke-width="0.77" opacity="0.52" stroke-linecap="round"/><line x1="486.9" y1="60.8" x2="490.9" y2="59.3" stroke="#1f4a22" stroke-width="0.68" opacity="0.36" stroke-linecap="round"/><line x1="493.6" y1="58.3" x2="497.1" y2="57.1" stroke="#1f4a22" stroke-width="0.75" opacity="0.43" stroke-linecap="round"/><line x1="498.6" y1="58.4" x2="501.2" y2="59.4" stroke="#1f4a22" stroke-width="0.74" opacity="0.22" stroke-linecap="round"/><line x1="503.4" y1="60.2" x2="507.3" y2="61.6" stroke="#1f4a22" stroke-width="0.49" opacity="0.29" stroke-linecap="round"/><line x1="509.1" y1="62.3" x2="513.7" y2="63.9" stroke="#1f4a22" stroke-width="0.57" opacity="0.33" stroke-linecap="round"/><line x1="515.4" y1="64.6" x2="519.9" y2="66.2" stroke="#1f4a22" stroke-width="0.73" opacity="0.25" stroke-linecap="round"/><line x1="473.9" y1="68.3" x2="478.1" y2="66.8" stroke="#1f4a22" stroke-width="0.69" opacity="0.37" stroke-linecap="round"/><line x1="479.5" y1="66.2" x2="481.5" y2="65.5" stroke="#1f4a22" stroke-width="0.52" opacity="0.34" stroke-linecap="round"/><line x1="483.9" y1="64.7" x2="487.3" y2="63.4" stroke="#1f4a22" stroke-width="0.77" opacity="0.44" stroke-linecap="round"/><line x1="489.8" y1="62.5" x2="494.1" y2="60.9" stroke="#1f4a22" stroke-width="0.75" opacity="0.55" stroke-linecap="round"/><line x1="496.5" y1="60.5" x2="499.3" y2="61.5" stroke="#1f4a22" stroke-width="0.69" opacity="0.39" stroke-linecap="round"/><line x1="501.8" y1="62.4" x2="506.4" y2="64.1" stroke="#1f4a22" stroke-width="0.66" opacity="0.47" stroke-linecap="round"/><line x1="507.8" y1="64.6" x2="511.5" y2="65.9" stroke="#1f4a22" stroke-width="0.65" opacity="0.28" stroke-linecap="round"/><line x1="512.7" y1="66.3" x2="514.2" y2="66.9" stroke="#1f4a22" stroke-width="0.73" opacity="0.54" stroke-linecap="round"/><line x1="515.7" y1="67.4" x2="517.3" y2="68.0" stroke="#1f4a22" stroke-width="0.70" opacity="0.50" stroke-linecap="round"/><line x1="473.9" y1="71.1" x2="478.3" y2="69.5" stroke="#1f4a22" stroke-width="0.52" opacity="0.41" stroke-linecap="round"/><line x1="479.3" y1="69.2" x2="481.0" y2="68.6" stroke="#1f4a22" stroke-width="0.68" opacity="0.36" stroke-linecap="round"/><line x1="483.2" y1="67.7" x2="485.5" y2="66.9" stroke="#1f4a22" stroke-width="0.44" opacity="0.49" stroke-linecap="round"/><line x1="487.6" y1="66.1" x2="489.7" y2="65.4" stroke="#1f4a22" stroke-width="0.49" opacity="0.21" stroke-linecap="round"/><line x1="492.3" y1="64.4" x2="494.6" y2="63.6" stroke="#1f4a22" stroke-width="0.59" opacity="0.21" stroke-linecap="round"/><line x1="496.1" y1="63.2" x2="499.6" y2="64.4" stroke="#1f4a22" stroke-width="0.67" opacity="0.41" stroke-linecap="round"/><line x1="502.4" y1="65.5" x2="505.1" y2="66.4" stroke="#1f4a22" stroke-width="0.46" opacity="0.43" stroke-linecap="round"/><line x1="506.5" y1="66.9" x2="508.3" y2="67.6" stroke="#1f4a22" stroke-width="0.54" opacity="0.51" stroke-linecap="round"/><line x1="510.7" y1="68.5" x2="515.2" y2="70.1" stroke="#1f4a22" stroke-width="0.49" opacity="0.34" stroke-linecap="round"/><line x1="516.6" y1="70.6" x2="519.8" y2="71.8" stroke="#1f4a22" stroke-width="0.45" opacity="0.35" stroke-linecap="round"/>
<ellipse cx="503.19" cy="51.21" rx="0.95" ry="0.67" transform="rotate(33 503.19 51.21)" fill="#1f4a22" opacity="0.45"/><ellipse cx="484.53" cy="25.24" rx="1.01" ry="0.46" transform="rotate(28 484.53 25.24)" fill="#1f4a22" opacity="0.56"/><ellipse cx="497.99" cy="53.48" rx="0.88" ry="0.46" transform="rotate(-27 497.99 53.48)" fill="#1f4a22" opacity="0.75"/><ellipse cx="502.11" cy="34.00" rx="0.96" ry="0.52" transform="rotate(-25 502.11 34.00)" fill="#1f4a22" opacity="0.80"/><ellipse cx="489.73" cy="21.70" rx="0.59" ry="0.46" transform="rotate(-18 489.73 21.70)" fill="#1f4a22" opacity="0.77"/><ellipse cx="504.58" cy="25.95" rx="1.13" ry="0.51" transform="rotate(33 504.58 25.95)" fill="#1f4a22" opacity="0.40"/><ellipse cx="492.71" cy="42.27" rx="0.59" ry="0.41" transform="rotate(-13 492.71 42.27)" fill="#1f4a22" opacity="0.72"/><ellipse cx="510.85" cy="25.05" rx="0.92" ry="0.40" transform="rotate(-23 510.85 25.05)" fill="#1f4a22" opacity="0.73"/><ellipse cx="484.01" cy="25.32" rx="0.75" ry="0.50" transform="rotate(-4 484.01 25.32)" fill="#1f4a22" opacity="0.55"/><ellipse cx="509.23" cy="45.91" rx="1.24" ry="0.57" transform="rotate(-19 509.23 45.91)" fill="#1f4a22" opacity="0.45"/><ellipse cx="501.00" cy="48.22" rx="1.46" ry="0.64" transform="rotate(-1 501.00 48.22)" fill="#1f4a22" opacity="0.83"/><ellipse cx="482.65" cy="33.38" rx="0.94" ry="0.52" transform="rotate(-27 482.65 33.38)" fill="#1f4a22" opacity="0.63"/><ellipse cx="485.55" cy="33.74" rx="0.53" ry="0.36" transform="rotate(-8 485.55 33.74)" fill="#1f4a22" opacity="0.48"/><ellipse cx="494.95" cy="45.10" rx="0.59" ry="0.37" transform="rotate(16 494.95 45.10)" fill="#1f4a22" opacity="0.42"/><ellipse cx="508.47" cy="26.09" rx="0.75" ry="0.60" transform="rotate(-19 508.47 26.09)" fill="#1f4a22" opacity="0.75"/><ellipse cx="504.65" cy="23.53" rx="0.59" ry="0.27" transform="rotate(-10 504.65 23.53)" fill="#1f4a22" opacity="0.56"/><ellipse cx="491.68" cy="41.39" rx="0.57" ry="0.41" transform="rotate(39 491.68 41.39)" fill="#1f4a22" opacity="0.75"/><ellipse cx="502.96" cy="55.33" rx="0.73" ry="0.53" transform="rotate(-32 502.96 55.33)" fill="#1f4a22" opacity="0.74"/><ellipse cx="484.65" cy="43.25" rx="1.01" ry="0.34" transform="rotate(14 484.65 43.25)" fill="#1f4a22" opacity="0.77"/><ellipse cx="488.89" cy="48.05" rx="0.80" ry="0.62" transform="rotate(-0 488.89 48.05)" fill="#1f4a22" opacity="0.84"/><ellipse cx="484.28" cy="34.68" rx="1.28" ry="0.62" transform="rotate(34 484.28 34.68)" fill="#1f4a22" opacity="0.77"/><ellipse cx="508.08" cy="43.68" rx="0.77" ry="0.42" transform="rotate(34 508.08 43.68)" fill="#1f4a22" opacity="0.48"/><ellipse cx="488.11" cy="33.87" rx="0.55" ry="0.27" transform="rotate(-19 488.11 33.87)" fill="#1f4a22" opacity="0.45"/><ellipse cx="507.52" cy="29.49" rx="0.85" ry="0.59" transform="rotate(22 507.52 29.49)" fill="#1f4a22" opacity="0.63"/><ellipse cx="494.27" cy="53.48" rx="0.73" ry="0.33" transform="rotate(-17 494.27 53.48)" fill="#1f4a22" opacity="0.56"/><ellipse cx="488.84" cy="43.61" rx="0.81" ry="0.49" transform="rotate(29 488.84 43.61)" fill="#1f4a22" opacity="0.71"/><ellipse cx="489.39" cy="44.93" rx="1.25" ry="0.51" transform="rotate(3 489.39 44.93)" fill="#1f4a22" opacity="0.74"/><ellipse cx="490.64" cy="31.45" rx="0.85" ry="0.64" transform="rotate(-12 490.64 31.45)" fill="#1f4a22" opacity="0.50"/><ellipse cx="493.43" cy="36.31" rx="0.96" ry="0.56" transform="rotate(-8 493.43 36.31)" fill="#1f4a22" opacity="0.79"/><ellipse cx="503.95" cy="53.75" rx="0.86" ry="0.29" transform="rotate(-32 503.95 53.75)" fill="#1f4a22" opacity="0.62"/><ellipse cx="484.97" cy="28.66" rx="0.71" ry="0.48" transform="rotate(-11 484.97 28.66)" fill="#1f4a22" opacity="0.82"/><ellipse cx="494.93" cy="24.93" rx="0.66" ry="0.37" transform="rotate(5 494.93 24.93)" fill="#1f4a22" opacity="0.65"/><ellipse cx="493.03" cy="52.36" rx="0.59" ry="0.27" transform="rotate(11 493.03 52.36)" fill="#1f4a22" opacity="0.77"/><ellipse cx="509.80" cy="27.48" rx="1.16" ry="0.73" transform="rotate(-30 509.80 27.48)" fill="#1f4a22" opacity="0.41"/><ellipse cx="485.01" cy="40.07" rx="0.78" ry="0.28" transform="rotate(13 485.01 40.07)" fill="#1f4a22" opacity="0.81"/><ellipse cx="502.14" cy="55.13" rx="1.34" ry="0.42" transform="rotate(1 502.14 55.13)" fill="#1f4a22" opacity="0.53"/><ellipse cx="493.98" cy="47.42" rx="0.82" ry="0.44" transform="rotate(-34 493.98 47.42)" fill="#1f4a22" opacity="0.73"/><ellipse cx="506.31" cy="22.16" rx="0.44" ry="0.42" transform="rotate(-34 506.31 22.16)" fill="#1f4a22" opacity="0.66"/><ellipse cx="508.03" cy="25.27" rx="0.87" ry="0.60" transform="rotate(-3 508.03 25.27)" fill="#1f4a22" opacity="0.47"/><ellipse cx="508.70" cy="38.36" rx="1.28" ry="0.87" transform="rotate(12 508.70 38.36)" fill="#1f4a22" opacity="0.43"/><ellipse cx="501.28" cy="49.92" rx="0.99" ry="0.69" transform="rotate(12 501.28 49.92)" fill="#1f4a22" opacity="0.43"/><ellipse cx="497.20" cy="55.42" rx="1.05" ry="0.35" transform="rotate(-7 497.20 55.42)" fill="#1f4a22" opacity="0.63"/><ellipse cx="497.72" cy="52.09" rx="0.87" ry="0.47" transform="rotate(14 497.72 52.09)" fill="#1f4a22" opacity="0.66"/><ellipse cx="492.59" cy="29.84" rx="1.01" ry="0.71" transform="rotate(-18 492.59 29.84)" fill="#1f4a22" opacity="0.84"/><ellipse cx="486.84" cy="35.17" rx="0.93" ry="0.48" transform="rotate(-19 486.84 35.17)" fill="#1f4a22" opacity="0.51"/><ellipse cx="503.76" cy="36.23" rx="0.45" ry="0.39" transform="rotate(13 503.76 36.23)" fill="#1f4a22" opacity="0.76"/><ellipse cx="482.37" cy="37.57" rx="0.61" ry="0.26" transform="rotate(-22 482.37 37.57)" fill="#1f4a22" opacity="0.65"/><ellipse cx="485.25" cy="29.09" rx="0.87" ry="0.50" transform="rotate(23 485.25 29.09)" fill="#1f4a22" opacity="0.65"/><ellipse cx="505.91" cy="52.99" rx="0.86" ry="0.61" transform="rotate(-4 505.91 52.99)" fill="#1f4a22" opacity="0.53"/><ellipse cx="507.74" cy="34.15" rx="0.83" ry="0.62" transform="rotate(10 507.74 34.15)" fill="#1f4a22" opacity="0.75"/><ellipse cx="495.40" cy="54.21" rx="0.63" ry="0.31" transform="rotate(-25 495.40 54.21)" fill="#1f4a22" opacity="0.62"/><ellipse cx="503.37" cy="26.14" rx="0.80" ry="0.61" transform="rotate(-1 503.37 26.14)" fill="#1f4a22" opacity="0.76"/><ellipse cx="480.66" cy="24.52" rx="0.96" ry="0.53" transform="rotate(10 480.66 24.52)" fill="#1f4a22" opacity="0.56"/><ellipse cx="489.84" cy="48.72" rx="1.44" ry="0.43" transform="rotate(-6 489.84 48.72)" fill="#1f4a22" opacity="0.47"/><ellipse cx="485.29" cy="37.26" rx="0.79" ry="0.70" transform="rotate(28 485.29 37.26)" fill="#1f4a22" opacity="0.84"/><ellipse cx="504.19" cy="26.82" rx="1.05" ry="0.47" transform="rotate(23 504.19 26.82)" fill="#1f4a22" opacity="0.55"/><ellipse cx="492.64" cy="23.86" rx="0.83" ry="0.45" transform="rotate(30 492.64 23.86)" fill="#1f4a22" opacity="0.51"/><ellipse cx="488.27" cy="34.06" rx="0.80" ry="0.49" transform="rotate(-35 488.27 34.06)" fill="#1f4a22" opacity="0.52"/><ellipse cx="503.86" cy="43.87" rx="1.16" ry="0.35" transform="rotate(-17 503.86 43.87)" fill="#1f4a22" opacity="0.69"/><ellipse cx="491.44" cy="57.28" rx="0.83" ry="0.41" transform="rotate(14 491.44 57.28)" fill="#1f4a22" opacity="0.82"/><ellipse cx="493.90" cy="47.69" rx="1.18" ry="0.72" transform="rotate(13 493.90 47.69)" fill="#1f4a22" opacity="0.75"/><ellipse cx="486.95" cy="32.86" rx="0.71" ry="0.40" transform="rotate(-34 486.95 32.86)" fill="#1f4a22" opacity="0.56"/><ellipse cx="506.46" cy="28.20" rx="0.51" ry="0.40" transform="rotate(19 506.46 28.20)" fill="#1f4a22" opacity="0.48"/><ellipse cx="483.66" cy="22.23" rx="0.76" ry="0.68" transform="rotate(-23 483.66 22.23)" fill="#1f4a22" opacity="0.53"/><ellipse cx="491.80" cy="55.42" rx="1.03" ry="0.53" transform="rotate(5 491.80 55.42)" fill="#1f4a22" opacity="0.66"/><ellipse cx="511.02" cy="27.24" rx="0.81" ry="0.38" transform="rotate(11 511.02 27.24)" fill="#1f4a22" opacity="0.61"/><ellipse cx="480.32" cy="27.36" rx="0.91" ry="0.63" transform="rotate(-1 480.32 27.36)" fill="#1f4a22" opacity="0.48"/><ellipse cx="504.30" cy="24.84" rx="0.92" ry="0.49" transform="rotate(-2 504.30 24.84)" fill="#1f4a22" opacity="0.69"/><ellipse cx="505.16" cy="53.31" rx="0.64" ry="0.36" transform="rotate(13 505.16 53.31)" fill="#1f4a22" opacity="0.71"/><ellipse cx="494.19" cy="46.17" rx="0.59" ry="0.32" transform="rotate(20 494.19 46.17)" fill="#1f4a22" opacity="0.83"/><ellipse cx="488.73" cy="22.45" rx="0.93" ry="0.55" transform="rotate(-35 488.73 22.45)" fill="#1f4a22" opacity="0.55"/><ellipse cx="495.19" cy="54.01" rx="0.85" ry="0.65" transform="rotate(19 495.19 54.01)" fill="#1f4a22" opacity="0.80"/><ellipse cx="501.84" cy="49.49" rx="0.95" ry="0.61" transform="rotate(36 501.84 49.49)" fill="#1f4a22" opacity="0.81"/><ellipse cx="501.59" cy="38.05" rx="0.73" ry="0.57" transform="rotate(13 501.59 38.05)" fill="#1f4a22" opacity="0.76"/><ellipse cx="501.30" cy="22.50" rx="0.72" ry="0.59" transform="rotate(15 501.30 22.50)" fill="#1f4a22" opacity="0.56"/><ellipse cx="496.35" cy="53.94" rx="0.98" ry="0.44" transform="rotate(-6 496.35 53.94)" fill="#1f4a22" opacity="0.74"/><ellipse cx="486.29" cy="45.33" rx="1.46" ry="0.62" transform="rotate(9 486.29 45.33)" fill="#1f4a22" opacity="0.85"/><ellipse cx="505.37" cy="53.00" rx="0.65" ry="0.58" transform="rotate(-32 505.37 53.00)" fill="#1f4a22" opacity="0.72"/><ellipse cx="489.26" cy="50.58" rx="0.96" ry="0.52" transform="rotate(-16 489.26 50.58)" fill="#1f4a22" opacity="0.85"/><ellipse cx="497.76" cy="56.60" rx="0.38" ry="0.24" transform="rotate(-14 497.76 56.60)" fill="#1f4a22" opacity="0.84"/><ellipse cx="484.01" cy="39.20" rx="0.96" ry="0.53" transform="rotate(-23 484.01 39.20)" fill="#1f4a22" opacity="0.42"/><ellipse cx="486.84" cy="40.78" rx="0.95" ry="0.39" transform="rotate(-22 486.84 40.78)" fill="#1f4a22" opacity="0.79"/><ellipse cx="501.95" cy="48.58" rx="0.77" ry="0.37" transform="rotate(14 501.95 48.58)" fill="#1f4a22" opacity="0.83"/><ellipse cx="502.41" cy="38.19" rx="0.51" ry="0.50" transform="rotate(1 502.41 38.19)" fill="#1f4a22" opacity="0.78"/><ellipse cx="490.93" cy="53.60" rx="0.88" ry="0.71" transform="rotate(-37 490.93 53.60)" fill="#1f4a22" opacity="0.69"/><ellipse cx="504.94" cy="47.14" rx="0.62" ry="0.30" transform="rotate(32 504.94 47.14)" fill="#1f4a22" opacity="0.67"/><ellipse cx="504.99" cy="37.96" rx="1.03" ry="0.57" transform="rotate(19 504.99 37.96)" fill="#1f4a22" opacity="0.69"/><ellipse cx="508.47" cy="31.33" rx="0.85" ry="0.44" transform="rotate(21 508.47 31.33)" fill="#1f4a22" opacity="0.72"/><ellipse cx="492.78" cy="23.15" rx="1.30" ry="0.59" transform="rotate(-15 492.78 23.15)" fill="#1f4a22" opacity="0.78"/><ellipse cx="485.96" cy="26.17" rx="0.89" ry="0.59" transform="rotate(-39 485.96 26.17)" fill="#1f4a22" opacity="0.82"/><ellipse cx="488.91" cy="38.27" rx="0.45" ry="0.27" transform="rotate(36 488.91 38.27)" fill="#1f4a22" opacity="0.49"/><ellipse cx="509.47" cy="38.25" rx="1.07" ry="0.46" transform="rotate(-4 509.47 38.25)" fill="#1f4a22" opacity="0.59"/><ellipse cx="487.69" cy="29.40" rx="0.53" ry="0.40" transform="rotate(22 487.69 29.40)" fill="#1f4a22" opacity="0.79"/><ellipse cx="483.94" cy="32.96" rx="1.46" ry="0.55" transform="rotate(-26 483.94 32.96)" fill="#1f4a22" opacity="0.78"/><ellipse cx="489.39" cy="44.59" rx="0.97" ry="0.56" transform="rotate(6 489.39 44.59)" fill="#1f4a22" opacity="0.44"/><circle cx="493.77" cy="47.91" r="0.57" fill="#fff" opacity="0.83"/><circle cx="506.09" cy="24.18" r="0.37" fill="#fff" opacity="0.71"/><circle cx="492.46" cy="52.28" r="0.67" fill="#fff" opacity="0.91"/><circle cx="507.03" cy="45.71" r="0.30" fill="#fff" opacity="0.73"/><circle cx="488.19" cy="39.54" r="0.53" fill="#fff" opacity="0.97"/><circle cx="490.05" cy="40.84" r="0.55" fill="#fff" opacity="0.62"/><circle cx="488.25" cy="22.21" r="0.54" fill="#fff" opacity="0.70"/><circle cx="485.57" cy="28.06" r="0.53" fill="#fff" opacity="0.79"/><circle cx="492.21" cy="23.17" r="0.39" fill="#fff" opacity="0.85"/><circle cx="492.74" cy="25.76" r="0.63" fill="#fff" opacity="0.82"/><circle cx="490.98" cy="57.07" r="0.52" fill="#fff" opacity="0.66"/><circle cx="507.04" cy="49.44" r="0.33" fill="#fff" opacity="0.65"/><circle cx="501.51" cy="38.48" r="0.42" fill="#fff" opacity="0.80"/><circle cx="484.35" cy="37.11" r="0.53" fill="#fff" opacity="0.97"/><circle cx="493.53" cy="57.89" r="0.75" fill="#fff"/><circle cx="497.84" cy="56.71" r="0.80" fill="#fff"/><circle cx="488.45" cy="53.14" r="0.83" fill="#fff"/><circle cx="489.70" cy="18.63" r="0.94" fill="#fff"/><circle cx="481.31" cy="23.58" r="0.44" fill="#fff"/><circle cx="479.99" cy="27.19" r="0.97" fill="#fff"/><circle cx="496.14" cy="58.28" r="0.72" fill="#fff"/><circle cx="493.98" cy="34.30" r="0.65" fill="#fff"/><circle cx="492.76" cy="18.61" r="0.51" fill="#fff"/><circle cx="495.57" cy="58.30" r="0.99" fill="#fff"/><circle cx="493.83" cy="26.32" r="0.61" fill="#fff"/><circle cx="495.56" cy="41.43" r="0.86" fill="#fff"/><circle cx="483.66" cy="20.73" r="0.45" fill="#fff"/><circle cx="480.14" cy="25.11" r="0.46" fill="#fff"/><circle cx="481.70" cy="22.15" r="0.89" fill="#fff"/><circle cx="482.84" cy="21.18" r="0.92" fill="#fff"/><circle cx="494.81" cy="23.25" r="0.89" fill="#fff"/><circle cx="493.72" cy="33.18" r="0.51" fill="#fff"/><circle cx="487.13" cy="49.44" r="0.89" fill="#fff"/><circle cx="494.11" cy="35.27" r="0.97" fill="#fff"/><circle cx="482.74" cy="21.08" r="0.87" fill="#fff"/><circle cx="497.58" cy="47.82" r="0.52" fill="#fff"/><circle cx="495.91" cy="44.84" r="0.60" fill="#fff"/><circle cx="499.05" cy="52.77" r="0.63" fill="#fff"/><circle cx="493.70" cy="31.41" r="0.61" fill="#fff"/><circle cx="496.74" cy="45.61" r="0.64" fill="#fff"/><circle cx="493.77" cy="32.75" r="0.81" fill="#fff"/><circle cx="484.43" cy="19.84" r="0.43" fill="#fff"/><circle cx="498.01" cy="56.45" r="0.84" fill="#fff"/><circle cx="494.19" cy="31.82" r="0.51" fill="#fff"/><circle cx="495.40" cy="23.16" r="0.62" fill="#fff"/><circle cx="483.46" cy="39.41" r="0.47" fill="#fff"/><circle cx="489.05" cy="18.75" r="0.57" fill="#fff"/><circle cx="484.84" cy="45.35" r="0.91" fill="#fff"/><circle cx="486.09" cy="46.43" r="0.51" fill="#fff"/><circle cx="496.12" cy="58.08" r="0.70" fill="#fff"/><circle cx="491.10" cy="18.81" r="0.56" fill="#fff"/><circle cx="481.23" cy="35.08" r="0.54" fill="#fff"/><circle cx="485.07" cy="46.29" r="0.71" fill="#fff"/><circle cx="485.38" cy="47.02" r="0.93" fill="#fff"/><circle cx="481.26" cy="33.67" r="0.84" fill="#fff"/><circle cx="498.43" cy="49.73" r="0.65" fill="#fff"/><circle cx="485.90" cy="19.01" r="0.89" fill="#fff"/><circle cx="493.21" cy="58.03" r="0.59" fill="#fff"/><circle cx="480.99" cy="23.54" r="0.95" fill="#fff"/><circle cx="479.93" cy="31.88" r="0.75" fill="#fff"/><circle cx="483.00" cy="21.54" r="0.57" fill="#fff"/><circle cx="479.74" cy="30.06" r="0.89" fill="#fff"/><circle cx="487.00" cy="19.31" r="0.82" fill="#fff"/><circle cx="484.00" cy="19.97" r="0.70" fill="#fff"/><circle cx="489.93" cy="57.70" r="0.99" fill="#fff"/><circle cx="486.64" cy="19.19" r="0.78" fill="#fff"/><circle cx="484.25" cy="44.24" r="0.65" fill="#fff"/><circle cx="483.22" cy="39.12" r="0.62" fill="#fff"/><circle cx="479.37" cy="27.92" r="0.99" fill="#fff"/><circle cx="480.20" cy="32.65" r="0.71" fill="#fff"/><circle cx="497.99" cy="50.03" r="0.61" fill="#fff"/><circle cx="484.28" cy="42.88" r="0.68" fill="#fff"/><circle cx="494.96" cy="38.72" r="0.86" fill="#fff"/><circle cx="491.46" cy="58.18" r="0.42" fill="#fff"/><circle cx="484.37" cy="41.27" r="0.58" fill="#fff"/><circle cx="487.57" cy="52.95" r="0.86" fill="#fff"/><circle cx="498.58" cy="53.83" r="1.00" fill="#fff"/><circle cx="482.03" cy="35.79" r="0.50" fill="#fff"/><circle cx="485.09" cy="44.26" r="0.61" fill="#fff"/><circle cx="493.14" cy="29.68" r="0.89" fill="#fff"/><circle cx="485.57" cy="19.11" r="0.88" fill="#fff"/><circle cx="482.22" cy="36.20" r="0.79" fill="#fff"/><circle cx="483.78" cy="41.34" r="0.82" fill="#fff"/><circle cx="486.10" cy="46.94" r="0.53" fill="#fff"/><circle cx="494.31" cy="38.39" r="0.67" fill="#fff"/><circle cx="481.85" cy="36.76" r="0.74" fill="#fff"/><circle cx="480.04" cy="28.54" r="0.51" fill="#fff"/><circle cx="498.06" cy="55.57" r="0.54" fill="#fff"/><circle cx="497.20" cy="56.86" r="0.45" fill="#fff"/><circle cx="498.26" cy="54.84" r="0.66" fill="#fff"/><circle cx="496.07" cy="57.59" r="0.87" fill="#fff"/><circle cx="488.60" cy="53.03" r="0.62" fill="#fff"/><circle cx="493.27" cy="27.40" r="0.75" fill="#fff"/><circle cx="493.76" cy="58.35" r="0.74" fill="#fff"/><circle cx="494.39" cy="34.14" r="0.94" fill="#fff"/><circle cx="494.14" cy="31.53" r="0.44" fill="#fff"/><circle cx="483.52" cy="21.29" r="0.83" fill="#fff"/><circle cx="487.42" cy="18.97" r="0.83" fill="#fff"/><circle cx="488.88" cy="56.03" r="0.61" fill="#fff"/><circle cx="489.55" cy="57.71" r="0.90" fill="#fff"/><circle cx="494.80" cy="21.19" r="0.59" fill="#fff"/><circle cx="491.55" cy="57.81" r="0.70" fill="#fff"/><circle cx="494.83" cy="22.74" r="0.62" fill="#fff"/><circle cx="495.55" cy="43.78" r="0.81" fill="#fff"/><circle cx="480.18" cy="32.56" r="0.94" fill="#fff"/><circle cx="480.62" cy="33.40" r="0.78" fill="#fff"/><circle cx="490.88" cy="18.67" r="0.73" fill="#fff"/><circle cx="490.62" cy="19.11" r="0.81" fill="#fff"/><circle cx="484.17" cy="42.06" r="0.49" fill="#fff"/><circle cx="492.98" cy="28.34" r="0.90" fill="#fff"/><circle cx="489.10" cy="54.44" r="0.88" fill="#fff"/><circle cx="501.19" cy="44.67" r="0.97" fill="#fff"/><circle cx="507.91" cy="49.88" r="0.86" fill="#fff"/><circle cx="502.60" cy="28.76" r="0.63" fill="#fff"/><circle cx="502.50" cy="19.48" r="0.95" fill="#fff"/><circle cx="501.80" cy="24.71" r="0.58" fill="#fff"/><circle cx="511.03" cy="41.47" r="0.95" fill="#fff"/><circle cx="502.18" cy="36.17" r="0.86" fill="#fff"/><circle cx="508.22" cy="49.12" r="0.94" fill="#fff"/><circle cx="499.36" cy="54.27" r="0.82" fill="#fff"/><circle cx="501.01" cy="21.84" r="0.51" fill="#fff"/><circle cx="504.80" cy="19.38" r="0.54" fill="#fff"/><circle cx="508.55" cy="20.28" r="0.71" fill="#fff"/><circle cx="511.58" cy="40.04" r="0.54" fill="#fff"/><circle cx="502.41" cy="31.49" r="0.94" fill="#fff"/><circle cx="499.76" cy="53.35" r="0.53" fill="#fff"/><circle cx="499.93" cy="57.71" r="0.77" fill="#fff"/><circle cx="506.87" cy="53.92" r="0.82" fill="#fff"/><circle cx="509.91" cy="21.27" r="0.53" fill="#fff"/><circle cx="508.60" cy="46.96" r="0.83" fill="#fff"/><circle cx="500.04" cy="47.60" r="0.52" fill="#fff"/><circle cx="502.43" cy="33.92" r="0.71" fill="#fff"/><circle cx="509.56" cy="21.27" r="0.94" fill="#fff"/><circle cx="501.16" cy="57.85" r="0.66" fill="#fff"/><circle cx="510.49" cy="23.55" r="0.64" fill="#fff"/><circle cx="503.96" cy="19.75" r="0.58" fill="#fff"/><circle cx="510.02" cy="42.57" r="0.59" fill="#fff"/><circle cx="501.85" cy="35.66" r="0.94" fill="#fff"/><circle cx="511.29" cy="33.46" r="0.97" fill="#fff"/><circle cx="505.72" cy="57.51" r="0.71" fill="#fff"/><circle cx="510.19" cy="21.53" r="0.46" fill="#fff"/><circle cx="509.48" cy="46.17" r="0.87" fill="#fff"/><circle cx="506.62" cy="52.63" r="0.60" fill="#fff"/><circle cx="508.63" cy="48.98" r="0.83" fill="#fff"/><circle cx="506.45" cy="53.57" r="0.65" fill="#fff"/><circle cx="511.23" cy="40.23" r="0.68" fill="#fff"/><circle cx="511.40" cy="28.28" r="0.80" fill="#fff"/><circle cx="500.76" cy="21.35" r="0.99" fill="#fff"/><circle cx="501.51" cy="58.29" r="0.86" fill="#fff"/><circle cx="510.21" cy="41.99" r="0.63" fill="#fff"/><circle cx="510.81" cy="42.02" r="0.74" fill="#fff"/><circle cx="501.19" cy="45.26" r="0.84" fill="#fff"/><circle cx="511.80" cy="24.25" r="0.92" fill="#fff"/><circle cx="512.17" cy="35.85" r="0.86" fill="#fff"/><circle cx="501.09" cy="40.95" r="0.92" fill="#fff"/><circle cx="512.28" cy="33.95" r="0.54" fill="#fff"/><circle cx="512.19" cy="34.19" r="0.85" fill="#fff"/><circle cx="502.27" cy="29.91" r="0.77" fill="#fff"/><circle cx="510.89" cy="41.62" r="0.52" fill="#fff"/><circle cx="502.03" cy="26.10" r="0.67" fill="#fff"/><circle cx="501.69" cy="21.14" r="0.59" fill="#fff"/><circle cx="502.21" cy="34.95" r="0.44" fill="#fff"/><circle cx="511.18" cy="40.00" r="0.61" fill="#fff"/><circle cx="499.33" cy="51.06" r="0.82" fill="#fff"/><circle cx="509.88" cy="44.49" r="0.90" fill="#fff"/><circle cx="509.50" cy="45.89" r="0.80" fill="#fff"/><circle cx="511.44" cy="29.85" r="0.84" fill="#fff"/><circle cx="500.68" cy="41.04" r="0.52" fill="#fff"/><circle cx="501.97" cy="37.22" r="0.83" fill="#fff"/><circle cx="507.45" cy="53.59" r="0.95" fill="#fff"/><circle cx="500.31" cy="44.74" r="0.43" fill="#fff"/><circle cx="501.77" cy="40.63" r="0.42" fill="#fff"/><circle cx="504.30" cy="19.61" r="0.83" fill="#fff"/><circle cx="501.76" cy="58.61" r="0.51" fill="#fff"/><circle cx="508.37" cy="48.62" r="0.70" fill="#fff"/><circle cx="506.14" cy="55.90" r="0.63" fill="#fff"/><circle cx="502.18" cy="26.83" r="0.58" fill="#fff"/><circle cx="511.38" cy="33.56" r="0.72" fill="#fff"/><circle cx="507.46" cy="51.69" r="0.40" fill="#fff"/><circle cx="511.92" cy="36.58" r="0.75" fill="#fff"/><circle cx="501.13" cy="24.73" r="0.71" fill="#fff"/><circle cx="510.59" cy="23.73" r="0.66" fill="#fff"/><circle cx="512.17" cy="35.95" r="0.76" fill="#fff"/><circle cx="501.54" cy="24.68" r="0.59" fill="#fff"/><circle cx="511.25" cy="38.39" r="0.40" fill="#fff"/><circle cx="505.27" cy="57.99" r="0.54" fill="#fff"/><circle cx="499.21" cy="54.49" r="0.56" fill="#fff"/><circle cx="501.08" cy="43.77" r="0.78" fill="#fff"/><circle cx="506.85" cy="52.75" r="0.70" fill="#fff"/><circle cx="507.32" cy="20.63" r="0.76" fill="#fff"/><circle cx="507.66" cy="49.55" r="0.99" fill="#fff"/><circle cx="506.74" cy="55.25" r="0.75" fill="#fff"/><circle cx="500.35" cy="49.79" r="0.91" fill="#fff"/><circle cx="501.98" cy="36.80" r="0.64" fill="#fff"/><circle cx="509.10" cy="20.81" r="0.43" fill="#fff"/><circle cx="501.73" cy="36.68" r="0.48" fill="#fff"/><circle cx="508.60" cy="21.16" r="0.79" fill="#fff"/><circle cx="511.69" cy="25.54" r="0.81" fill="#fff"/><circle cx="498.68" cy="52.13" r="0.87" fill="#fff"/><circle cx="509.01" cy="47.23" r="0.65" fill="#fff"/><circle cx="510.52" cy="41.35" r="0.57" fill="#fff"/>
</g>
</g>
<path d="M476.8,20.3 Q497,38 517.5,21.8" fill="none" stroke="#111" stroke-width="1.1"/>
<path d="M519.4,20.6 L515.6,20.8 L517.6,23.6 Z" fill="#111"/>
<path d="M473.3,61.4 Q489,44 496,41.5 Q499.7,40.5 499.7,46 L499.7,67.5" fill="none" stroke="#111" stroke-width="1.1"/>
<path d="M499.7,70.6 L497.9,66.2 L501.5,66.2 Z" fill="#111"/>
<path d="M469.40,61.10 L470.66,64.85 L474.21,63.09 L472.45,66.64 L476.20,67.90 L472.45,69.16 L474.21,72.71 L470.66,70.95 L469.40,74.70 L468.14,70.95 L464.59,72.71 L466.35,69.16 L462.60,67.90 L466.35,66.64 L464.59,63.09 L468.14,64.85 Z" fill="#102010" stroke="#102010" stroke-width="0.6" stroke-linejoin="miter"/>
<circle cx="469.4" cy="67.9" r="3.3" fill="#3dbb55" stroke="#1f5f2f" stroke-width="0.6"/>
<path d="M499.60,70.80 L500.75,73.03 L503.14,72.26 L502.37,74.65 L504.60,75.80 L502.37,76.95 L503.14,79.34 L500.75,78.57 L499.60,80.80 L498.45,78.57 L496.06,79.34 L496.83,76.95 L494.60,75.80 L496.83,74.65 L496.06,72.26 L498.45,73.03 Z" fill="#1a1a1a" stroke="#1a1a1a" stroke-width="0.6" stroke-linejoin="miter"/>
<circle cx="499.6" cy="75.8" r="2.4" fill="#cfcfcf" stroke="#555" stroke-width="0.6"/>
<text x="455.80" y="21.20" font-size="10" font-weight="bold" text-anchor="start" fill="#111" textLength="18.6" lengthAdjust="spacingAndGlyphs" stroke="#111" stroke-width="0.3">ATP</text>
<text x="524.00" y="21.20" font-size="10" font-weight="bold" text-anchor="start" fill="#111" stroke="#111" stroke-width="0.3">ADP + P<tspan font-size="6.6" dy="2.4">i</tspan></text>
<text x="413.80" y="69.20" font-size="11" font-weight="bold" text-anchor="start" fill="#3ec25c" textLength="37.6" lengthAdjust="spacingAndGlyphs" stroke="#3ec25c" stroke-width="0.3">H33342</text>
<g filter="url(#soft)">
<clipPath id="clipA"><path d="M73.70,19.00 L76.00,16.50 L80.00,15.00 L85.00,14.40 L92.00,14.00 L99.00,13.80 L106.00,14.40 L112.00,16.00 L117.00,17.50 L121.40,18.80 L122.00,26.50 L122.50,32.00 L126.90,37.50 L131.30,43.00 L133.00,48.50 L133.70,57.30 L130.80,64.70 L131.50,72.00 L135.90,79.30 L139.60,86.70 L139.60,94.00 L136.70,99.90 L131.00,103.50 L124.00,104.80 L117.00,103.80 L113.20,99.90 L110.80,94.00 L113.20,86.70 L112.50,79.30 L110.30,72.00 L109.50,64.70 L108.00,57.30 L105.90,50.00 L102.50,43.00 L98.50,36.00 L95.00,40.50 L92.50,45.50 L91.00,50.00 L89.50,57.00 L88.00,64.70 L87.40,72.00 L86.50,79.30 L86.50,86.70 L88.70,94.00 L89.50,99.90 L85.00,104.00 L78.00,105.00 L72.60,104.30 L65.30,99.90 L60.90,94.00 L59.40,86.70 L60.90,79.30 L65.00,75.50 L69.70,72.00 L68.90,64.70 L68.90,57.30 L68.00,52.00 L67.10,48.50 L64.90,40.80 L70.00,36.00 L74.80,32.00 L73.20,26.50 Z"/></clipPath>
<g clip-path="url(#clipA)">
<path d="M73.70,19.00 L76.00,16.50 L80.00,15.00 L85.00,14.40 L92.00,14.00 L99.00,13.80 L106.00,14.40 L112.00,16.00 L117.00,17.50 L121.40,18.80 L122.00,26.50 L122.50,32.00 L126.90,37.50 L131.30,43.00 L133.00,48.50 L133.70,57.30 L130.80,64.70 L131.50,72.00 L135.90,79.30 L139.60,86.70 L139.60,94.00 L136.70,99.90 L131.00,103.50 L124.00,104.80 L117.00,103.80 L113.20,99.90 L110.80,94.00 L113.20,86.70 L112.50,79.30 L110.30,72.00 L109.50,64.70 L108.00,57.30 L105.90,50.00 L102.50,43.00 L98.50,36.00 L95.00,40.50 L92.50,45.50 L91.00,50.00 L89.50,57.00 L88.00,64.70 L87.40,72.00 L86.50,79.30 L86.50,86.70 L88.70,94.00 L89.50,99.90 L85.00,104.00 L78.00,105.00 L72.60,104.30 L65.30,99.90 L60.90,94.00 L59.40,86.70 L60.90,79.30 L65.00,75.50 L69.70,72.00 L68.90,64.70 L68.90,57.30 L68.00,52.00 L67.10,48.50 L64.90,40.80 L70.00,36.00 L74.80,32.00 L73.20,26.50 Z" fill="#74f07a"/>
<ellipse cx="73.6" cy="60.5" rx="2.75" ry="0.66" transform="rotate(-14 73.6 60.5)" fill="#102e12" opacity="0.49"/><ellipse cx="125.0" cy="77.4" rx="1.53" ry="0.67" transform="rotate(11 125.0 77.4)" fill="#102e12" opacity="0.73"/><ellipse cx="101.8" cy="18.4" rx="1.27" ry="0.39" transform="rotate(-3 101.8 18.4)" fill="#102e12" opacity="0.65"/><ellipse cx="127.6" cy="61.2" rx="2.37" ry="1.10" transform="rotate(-3 127.6 61.2)" fill="#102e12" opacity="0.58"/><ellipse cx="127.5" cy="78.8" rx="1.47" ry="0.60" transform="rotate(-30 127.5 78.8)" fill="#102e12" opacity="0.79"/><ellipse cx="75.6" cy="97.6" rx="2.60" ry="0.77" transform="rotate(-30 75.6 97.6)" fill="#102e12" opacity="0.73"/><ellipse cx="122.4" cy="37.9" rx="1.17" ry="0.72" transform="rotate(18 122.4 37.9)" fill="#102e12" opacity="0.50"/><ellipse cx="78.7" cy="22.2" rx="1.45" ry="0.38" transform="rotate(4 78.7 22.2)" fill="#102e12" opacity="0.65"/><ellipse cx="74.1" cy="81.0" rx="1.49" ry="0.40" transform="rotate(-6 74.1 81.0)" fill="#102e12" opacity="0.55"/><ellipse cx="80.6" cy="103.3" rx="2.39" ry="1.44" transform="rotate(-20 80.6 103.3)" fill="#102e12" opacity="0.63"/><ellipse cx="128.6" cy="72.6" rx="1.68" ry="0.42" transform="rotate(-17 128.6 72.6)" fill="#102e12" opacity="0.80"/><ellipse cx="85.4" cy="40.4" rx="0.97" ry="0.55" transform="rotate(-18 85.4 40.4)" fill="#102e12" opacity="0.72"/><ellipse cx="89.0" cy="55.0" rx="2.97" ry="1.30" transform="rotate(26 89.0 55.0)" fill="#102e12" opacity="0.53"/><ellipse cx="71.1" cy="97.5" rx="2.33" ry="0.85" transform="rotate(17 71.1 97.5)" fill="#102e12" opacity="0.87"/><ellipse cx="74.6" cy="101.4" rx="3.02" ry="1.10" transform="rotate(-28 74.6 101.4)" fill="#102e12" opacity="0.47"/><ellipse cx="116.3" cy="36.8" rx="2.89" ry="0.94" transform="rotate(-23 116.3 36.8)" fill="#102e12" opacity="0.77"/><ellipse cx="108.9" cy="38.9" rx="2.42" ry="0.75" transform="rotate(-16 108.9 38.9)" fill="#102e12" opacity="0.65"/><ellipse cx="69.2" cy="46.6" rx="3.65" ry="1.32" transform="rotate(13 69.2 46.6)" fill="#102e12" opacity="0.71"/><ellipse cx="116.0" cy="102.5" rx="1.25" ry="0.47" transform="rotate(16 116.0 102.5)" fill="#102e12" opacity="0.59"/><ellipse cx="132.4" cy="81.5" rx="2.92" ry="1.36" transform="rotate(-10 132.4 81.5)" fill="#102e12" opacity="0.76"/><ellipse cx="132.4" cy="94.0" rx="2.26" ry="1.02" transform="rotate(5 132.4 94.0)" fill="#102e12" opacity="0.73"/><ellipse cx="108.4" cy="20.3" rx="3.04" ry="1.26" transform="rotate(16 108.4 20.3)" fill="#102e12" opacity="0.62"/><ellipse cx="118.8" cy="66.9" rx="2.37" ry="0.55" transform="rotate(18 118.8 66.9)" fill="#102e12" opacity="0.46"/><ellipse cx="77.3" cy="77.9" rx="2.23" ry="1.14" transform="rotate(-17 77.3 77.9)" fill="#102e12" opacity="0.46"/><ellipse cx="83.1" cy="76.0" rx="1.23" ry="0.82" transform="rotate(11 83.1 76.0)" fill="#102e12" opacity="0.65"/><ellipse cx="113.1" cy="31.3" rx="2.31" ry="1.07" transform="rotate(27 113.1 31.3)" fill="#102e12" opacity="0.62"/><ellipse cx="106.3" cy="42.3" rx="1.38" ry="0.72" transform="rotate(24 106.3 42.3)" fill="#102e12" opacity="0.77"/><ellipse cx="72.3" cy="54.8" rx="1.39" ry="0.64" transform="rotate(9 72.3 54.8)" fill="#102e12" opacity="0.67"/><ellipse cx="84.3" cy="91.0" rx="2.96" ry="0.83" transform="rotate(-33 84.3 91.0)" fill="#102e12" opacity="0.84"/><ellipse cx="61.8" cy="78.8" rx="1.99" ry="1.13" transform="rotate(-34 61.8 78.8)" fill="#102e12" opacity="0.51"/><ellipse cx="95.8" cy="15.1" rx="2.33" ry="0.81" transform="rotate(-32 95.8 15.1)" fill="#102e12" opacity="0.73"/><ellipse cx="74.8" cy="57.1" rx="1.06" ry="0.59" transform="rotate(15 74.8 57.1)" fill="#102e12" opacity="0.53"/><ellipse cx="80.8" cy="45.0" rx="2.52" ry="1.11" transform="rotate(18 80.8 45.0)" fill="#102e12" opacity="0.63"/><ellipse cx="123.5" cy="97.3" rx="1.61" ry="0.62" transform="rotate(-26 123.5 97.3)" fill="#102e12" opacity="0.65"/><ellipse cx="130.7" cy="87.1" rx="2.91" ry="1.36" transform="rotate(-21 130.7 87.1)" fill="#102e12" opacity="0.77"/><ellipse cx="125.7" cy="72.6" rx="2.11" ry="1.36" transform="rotate(34 125.7 72.6)" fill="#102e12" opacity="0.89"/><ellipse cx="84.7" cy="97.6" rx="2.56" ry="0.77" transform="rotate(-4 84.7 97.6)" fill="#102e12" opacity="0.70"/><ellipse cx="121.5" cy="58.2" rx="1.38" ry="0.32" transform="rotate(21 121.5 58.2)" fill="#102e12" opacity="0.53"/><ellipse cx="85.9" cy="86.2" rx="1.12" ry="0.58" transform="rotate(16 85.9 86.2)" fill="#102e12" opacity="0.83"/><ellipse cx="115.1" cy="100.9" rx="2.62" ry="0.58" transform="rotate(-20 115.1 100.9)" fill="#102e12" opacity="0.69"/><ellipse cx="82.3" cy="80.7" rx="2.40" ry="1.24" transform="rotate(4 82.3 80.7)" fill="#102e12" opacity="0.59"/><ellipse cx="128.3" cy="103.1" rx="2.24" ry="0.68" transform="rotate(3 128.3 103.1)" fill="#102e12" opacity="0.68"/><ellipse cx="108.1" cy="15.4" rx="3.05" ry="1.14" transform="rotate(21 108.1 15.4)" fill="#102e12" opacity="0.70"/><ellipse cx="97.3" cy="24.6" rx="2.33" ry="1.06" transform="rotate(-2 97.3 24.6)" fill="#102e12" opacity="0.59"/><ellipse cx="74.1" cy="70.4" rx="2.31" ry="1.47" transform="rotate(-33 74.1 70.4)" fill="#102e12" opacity="0.54"/><ellipse cx="77.1" cy="76.8" rx="1.61" ry="0.79" transform="rotate(-28 77.1 76.8)" fill="#102e12" opacity="0.78"/><ellipse cx="79.0" cy="31.2" rx="2.08" ry="0.80" transform="rotate(-6 79.0 31.2)" fill="#102e12" opacity="0.69"/><ellipse cx="77.5" cy="81.8" rx="3.33" ry="0.95" transform="rotate(-13 77.5 81.8)" fill="#102e12" opacity="0.87"/><ellipse cx="78.1" cy="80.5" rx="1.25" ry="0.84" transform="rotate(-5 78.1 80.5)" fill="#102e12" opacity="0.81"/><ellipse cx="68.8" cy="50.3" rx="1.78" ry="0.77" transform="rotate(13 68.8 50.3)" fill="#102e12" opacity="0.86"/><ellipse cx="73.9" cy="19.4" rx="0.98" ry="0.57" transform="rotate(1 73.9 19.4)" fill="#102e12" opacity="0.71"/><ellipse cx="75.2" cy="91.1" rx="3.81" ry="0.86" transform="rotate(-31 75.2 91.1)" fill="#102e12" opacity="0.88"/><ellipse cx="85.3" cy="56.3" rx="2.04" ry="0.94" transform="rotate(-34 85.3 56.3)" fill="#102e12" opacity="0.77"/><ellipse cx="91.7" cy="31.0" rx="1.45" ry="0.37" transform="rotate(28 91.7 31.0)" fill="#102e12" opacity="0.81"/><ellipse cx="116.3" cy="93.0" rx="2.23" ry="1.04" transform="rotate(0 116.3 93.0)" fill="#102e12" opacity="0.89"/><ellipse cx="124.6" cy="36.9" rx="3.31" ry="1.45" transform="rotate(22 124.6 36.9)" fill="#102e12" opacity="0.63"/><ellipse cx="132.1" cy="94.8" rx="2.86" ry="1.23" transform="rotate(-7 132.1 94.8)" fill="#102e12" opacity="0.78"/><ellipse cx="109.7" cy="34.4" rx="3.25" ry="1.07" transform="rotate(11 109.7 34.4)" fill="#102e12" opacity="0.71"/><ellipse cx="116.0" cy="83.8" rx="2.21" ry="1.36" transform="rotate(17 116.0 83.8)" fill="#102e12" opacity="0.57"/><ellipse cx="91.4" cy="17.5" rx="1.40" ry="0.42" transform="rotate(-17 91.4 17.5)" fill="#102e12" opacity="0.86"/><ellipse cx="71.5" cy="56.8" rx="1.45" ry="0.65" transform="rotate(-31 71.5 56.8)" fill="#102e12" opacity="0.88"/><ellipse cx="107.5" cy="46.9" rx="1.83" ry="0.72" transform="rotate(-15 107.5 46.9)" fill="#102e12" opacity="0.77"/><ellipse cx="78.5" cy="16.8" rx="1.63" ry="0.54" transform="rotate(28 78.5 16.8)" fill="#102e12" opacity="0.79"/><ellipse cx="132.8" cy="52.8" rx="2.61" ry="0.68" transform="rotate(2 132.8 52.8)" fill="#102e12" opacity="0.87"/><ellipse cx="117.8" cy="56.5" rx="3.59" ry="1.35" transform="rotate(-27 117.8 56.5)" fill="#102e12" opacity="0.73"/><ellipse cx="95.9" cy="31.8" rx="1.24" ry="0.35" transform="rotate(-4 95.9 31.8)" fill="#102e12" opacity="0.75"/><ellipse cx="95.8" cy="37.2" rx="2.16" ry="1.13" transform="rotate(2 95.8 37.2)" fill="#102e12" opacity="0.90"/><ellipse cx="136.7" cy="81.2" rx="1.24" ry="0.85" transform="rotate(20 136.7 81.2)" fill="#102e12" opacity="0.73"/><ellipse cx="87.9" cy="38.1" rx="2.55" ry="1.08" transform="rotate(9 87.9 38.1)" fill="#102e12" opacity="0.79"/><ellipse cx="74.0" cy="36.0" rx="3.76" ry="1.62" transform="rotate(-32 74.0 36.0)" fill="#102e12" opacity="0.48"/><ellipse cx="80.7" cy="52.4" rx="1.81" ry="0.99" transform="rotate(-30 80.7 52.4)" fill="#102e12" opacity="0.49"/><ellipse cx="114.0" cy="64.1" rx="2.19" ry="0.95" transform="rotate(-20 114.0 64.1)" fill="#102e12" opacity="0.60"/><ellipse cx="119.6" cy="91.0" rx="0.99" ry="0.65" transform="rotate(9 119.6 91.0)" fill="#102e12" opacity="0.80"/><ellipse cx="75.9" cy="52.4" rx="1.91" ry="0.60" transform="rotate(11 75.9 52.4)" fill="#102e12" opacity="0.90"/><ellipse cx="85.1" cy="63.9" rx="3.20" ry="1.00" transform="rotate(-9 85.1 63.9)" fill="#102e12" opacity="0.49"/><ellipse cx="83.0" cy="85.1" rx="1.06" ry="0.59" transform="rotate(-29 83.0 85.1)" fill="#102e12" opacity="0.59"/><ellipse cx="118.0" cy="77.5" rx="1.33" ry="0.61" transform="rotate(16 118.0 77.5)" fill="#102e12" opacity="0.61"/><ellipse cx="68.0" cy="78.9" rx="2.77" ry="1.23" transform="rotate(29 68.0 78.9)" fill="#102e12" opacity="0.65"/><ellipse cx="124.4" cy="41.2" rx="1.64" ry="0.96" transform="rotate(28 124.4 41.2)" fill="#102e12" opacity="0.56"/><ellipse cx="88.1" cy="46.9" rx="1.72" ry="0.69" transform="rotate(-21 88.1 46.9)" fill="#102e12" opacity="0.70"/><ellipse cx="123.9" cy="63.2" rx="2.86" ry="0.85" transform="rotate(18 123.9 63.2)" fill="#102e12" opacity="0.85"/><ellipse cx="81.5" cy="14.9" rx="2.18" ry="0.92" transform="rotate(33 81.5 14.9)" fill="#102e12" opacity="0.74"/><ellipse cx="119.0" cy="96.6" rx="1.38" ry="0.38" transform="rotate(17 119.0 96.6)" fill="#102e12" opacity="0.74"/><ellipse cx="78.6" cy="33.3" rx="2.65" ry="1.30" transform="rotate(-7 78.6 33.3)" fill="#102e12" opacity="0.60"/><ellipse cx="117.7" cy="78.8" rx="2.76" ry="1.50" transform="rotate(12 117.7 78.8)" fill="#102e12" opacity="0.83"/><ellipse cx="124.6" cy="90.5" rx="3.61" ry="1.30" transform="rotate(2 124.6 90.5)" fill="#102e12" opacity="0.77"/><ellipse cx="124.3" cy="52.1" rx="1.55" ry="0.95" transform="rotate(34 124.3 52.1)" fill="#102e12" opacity="0.62"/><ellipse cx="93.3" cy="40.0" rx="2.26" ry="1.05" transform="rotate(-27 93.3 40.0)" fill="#102e12" opacity="0.74"/><ellipse cx="122.2" cy="29.5" rx="1.21" ry="0.54" transform="rotate(29 122.2 29.5)" fill="#102e12" opacity="0.47"/><ellipse cx="76.3" cy="34.7" rx="2.66" ry="0.81" transform="rotate(-22 76.3 34.7)" fill="#102e12" opacity="0.58"/><ellipse cx="72.6" cy="83.4" rx="1.78" ry="0.89" transform="rotate(-1 72.6 83.4)" fill="#102e12" opacity="0.57"/><ellipse cx="131.3" cy="98.0" rx="1.84" ry="1.00" transform="rotate(-1 131.3 98.0)" fill="#102e12" opacity="0.55"/><ellipse cx="124.3" cy="48.7" rx="2.17" ry="0.73" transform="rotate(34 124.3 48.7)" fill="#102e12" opacity="0.75"/><ellipse cx="123.9" cy="79.3" rx="1.86" ry="0.69" transform="rotate(-12 123.9 79.3)" fill="#102e12" opacity="0.57"/><ellipse cx="129.9" cy="60.9" rx="3.04" ry="0.80" transform="rotate(2 129.9 60.9)" fill="#102e12" opacity="0.52"/><ellipse cx="125.9" cy="91.7" rx="2.08" ry="0.92" transform="rotate(15 125.9 91.7)" fill="#102e12" opacity="0.49"/><ellipse cx="128.9" cy="41.1" rx="2.54" ry="1.45" transform="rotate(-29 128.9 41.1)" fill="#102e12" opacity="0.82"/><ellipse cx="75.5" cy="63.4" rx="1.73" ry="1.11" transform="rotate(-13 75.5 63.4)" fill="#102e12" opacity="0.59"/><ellipse cx="126.6" cy="73.7" rx="1.06" ry="0.55" transform="rotate(-18 126.6 73.7)" fill="#102e12" opacity="0.70"/><ellipse cx="75.4" cy="70.2" rx="1.57" ry="0.72" transform="rotate(-14 75.4 70.2)" fill="#102e12" opacity="0.60"/><ellipse cx="79.5" cy="31.4" rx="2.30" ry="1.41" transform="rotate(4 79.5 31.4)" fill="#102e12" opacity="0.78"/><ellipse cx="85.7" cy="89.9" rx="1.03" ry="0.36" transform="rotate(12 85.7 89.9)" fill="#102e12" opacity="0.77"/><ellipse cx="73.2" cy="50.3" rx="2.91" ry="0.77" transform="rotate(-19 73.2 50.3)" fill="#102e12" opacity="0.52"/><ellipse cx="68.6" cy="50.7" rx="1.57" ry="0.49" transform="rotate(1 68.6 50.7)" fill="#102e12" opacity="0.74"/><ellipse cx="121.4" cy="89.3" rx="1.70" ry="0.72" transform="rotate(-34 121.4 89.3)" fill="#102e12" opacity="0.63"/><ellipse cx="123.3" cy="74.3" rx="1.68" ry="0.82" transform="rotate(-11 123.3 74.3)" fill="#102e12" opacity="0.74"/><ellipse cx="67.1" cy="48.0" rx="2.47" ry="1.09" transform="rotate(8 67.1 48.0)" fill="#102e12" opacity="0.52"/><ellipse cx="121.4" cy="97.0" rx="2.01" ry="0.90" transform="rotate(-25 121.4 97.0)" fill="#102e12" opacity="0.77"/><ellipse cx="117.2" cy="90.7" rx="1.89" ry="0.68" transform="rotate(-21 117.2 90.7)" fill="#102e12" opacity="0.49"/><ellipse cx="78.5" cy="66.5" rx="2.24" ry="1.36" transform="rotate(-10 78.5 66.5)" fill="#102e12" opacity="0.66"/><ellipse cx="69.5" cy="97.1" rx="2.26" ry="0.94" transform="rotate(-16 69.5 97.1)" fill="#102e12" opacity="0.86"/><ellipse cx="107.8" cy="24.2" rx="2.41" ry="1.47" transform="rotate(-18 107.8 24.2)" fill="#102e12" opacity="0.71"/><ellipse cx="103.4" cy="19.9" rx="0.97" ry="0.67" transform="rotate(31 103.4 19.9)" fill="#102e12" opacity="0.75"/><ellipse cx="83.7" cy="75.4" rx="2.39" ry="1.13" transform="rotate(21 83.7 75.4)" fill="#102e12" opacity="0.46"/><ellipse cx="74.8" cy="56.4" rx="1.31" ry="0.61" transform="rotate(-23 74.8 56.4)" fill="#102e12" opacity="0.68"/><line x1="66.0" y1="38.0" x2="69.1" y2="38.4" stroke="#102e12" stroke-width="0.83" opacity="0.42" stroke-linecap="round"/><line x1="70.5" y1="38.6" x2="72.7" y2="38.9" stroke="#102e12" stroke-width="0.87" opacity="0.35" stroke-linecap="round"/><line x1="74.6" y1="39.2" x2="79.0" y2="39.8" stroke="#102e12" stroke-width="0.79" opacity="0.44" stroke-linecap="round"/><line x1="80.4" y1="40.0" x2="85.2" y2="40.7" stroke="#102e12" stroke-width="0.90" opacity="0.56" stroke-linecap="round"/><line x1="86.4" y1="40.9" x2="92.4" y2="41.7" stroke="#102e12" stroke-width="0.94" opacity="0.60" stroke-linecap="round"/><line x1="66.0" y1="41.1" x2="70.3" y2="41.7" stroke="#102e12" stroke-width="0.96" opacity="0.48" stroke-linecap="round"/><line x1="71.6" y1="41.8" x2="75.3" y2="42.4" stroke="#102e12" stroke-width="0.96" opacity="0.41" stroke-linecap="round"/><line x1="75.9" y1="42.4" x2="80.8" y2="43.1" stroke="#102e12" stroke-width="0.96" opacity="0.56" stroke-linecap="round"/><line x1="82.2" y1="43.3" x2="87.2" y2="44.0" stroke="#102e12" stroke-width="0.72" opacity="0.51" stroke-linecap="round"/><line x1="87.8" y1="44.1" x2="90.3" y2="44.5" stroke="#102e12" stroke-width="0.78" opacity="0.48" stroke-linecap="round"/><line x1="66.0" y1="43.9" x2="70.8" y2="44.6" stroke="#102e12" stroke-width="0.81" opacity="0.38" stroke-linecap="round"/><line x1="71.7" y1="44.7" x2="75.3" y2="45.2" stroke="#102e12" stroke-width="0.69" opacity="0.32" stroke-linecap="round"/><line x1="77.2" y1="45.5" x2="83.1" y2="46.3" stroke="#102e12" stroke-width="0.87" opacity="0.60" stroke-linecap="round"/><line x1="84.2" y1="46.4" x2="89.4" y2="47.2" stroke="#102e12" stroke-width="0.69" opacity="0.56" stroke-linecap="round"/><line x1="66.0" y1="47.2" x2="68.4" y2="47.6" stroke="#102e12" stroke-width="0.92" opacity="0.34" stroke-linecap="round"/><line x1="69.7" y1="47.8" x2="75.5" y2="48.6" stroke="#102e12" stroke-width="0.60" opacity="0.39" stroke-linecap="round"/><line x1="76.5" y1="48.7" x2="79.8" y2="49.2" stroke="#102e12" stroke-width="0.63" opacity="0.61" stroke-linecap="round"/><line x1="81.5" y1="49.4" x2="85.1" y2="49.9" stroke="#102e12" stroke-width="0.74" opacity="0.50" stroke-linecap="round"/><line x1="85.6" y1="50.0" x2="87.8" y2="50.3" stroke="#102e12" stroke-width="0.96" opacity="0.41" stroke-linecap="round"/><line x1="89.0" y1="50.5" x2="94.7" y2="51.3" stroke="#102e12" stroke-width="0.99" opacity="0.47" stroke-linecap="round"/><line x1="66.0" y1="50.2" x2="71.7" y2="51.0" stroke="#102e12" stroke-width="0.96" opacity="0.37" stroke-linecap="round"/><line x1="73.4" y1="51.3" x2="76.9" y2="51.7" stroke="#102e12" stroke-width="0.79" opacity="0.36" stroke-linecap="round"/><line x1="78.7" y1="52.0" x2="84.7" y2="52.8" stroke="#102e12" stroke-width="0.68" opacity="0.52" stroke-linecap="round"/><line x1="85.5" y1="52.9" x2="91.0" y2="53.7" stroke="#102e12" stroke-width="0.62" opacity="0.34" stroke-linecap="round"/><line x1="66.0" y1="53.2" x2="71.6" y2="54.0" stroke="#102e12" stroke-width="0.95" opacity="0.55" stroke-linecap="round"/><line x1="72.3" y1="54.1" x2="77.1" y2="54.8" stroke="#102e12" stroke-width="0.98" opacity="0.46" stroke-linecap="round"/><line x1="77.7" y1="54.8" x2="80.6" y2="55.3" stroke="#102e12" stroke-width="0.72" opacity="0.55" stroke-linecap="round"/><line x1="81.4" y1="55.4" x2="84.1" y2="55.7" stroke="#102e12" stroke-width="0.69" opacity="0.53" stroke-linecap="round"/><line x1="85.8" y1="56.0" x2="89.3" y2="56.5" stroke="#102e12" stroke-width="0.86" opacity="0.61" stroke-linecap="round"/><line x1="66.0" y1="56.1" x2="69.2" y2="56.6" stroke="#102e12" stroke-width="0.97" opacity="0.53" stroke-linecap="round"/><line x1="70.1" y1="56.7" x2="74.7" y2="57.4" stroke="#102e12" stroke-width="0.64" opacity="0.64" stroke-linecap="round"/><line x1="75.8" y1="57.5" x2="80.0" y2="58.1" stroke="#102e12" stroke-width="0.81" opacity="0.32" stroke-linecap="round"/><line x1="81.4" y1="58.3" x2="84.5" y2="58.7" stroke="#102e12" stroke-width="0.70" opacity="0.58" stroke-linecap="round"/><line x1="85.1" y1="58.8" x2="88.3" y2="59.3" stroke="#102e12" stroke-width="0.90" opacity="0.39" stroke-linecap="round"/><line x1="89.2" y1="59.4" x2="93.4" y2="60.0" stroke="#102e12" stroke-width="0.67" opacity="0.61" stroke-linecap="round"/><line x1="66.0" y1="59.0" x2="69.8" y2="59.5" stroke="#102e12" stroke-width="0.90" opacity="0.43" stroke-linecap="round"/><line x1="71.7" y1="59.8" x2="75.7" y2="60.3" stroke="#102e12" stroke-width="0.67" opacity="0.49" stroke-linecap="round"/><line x1="77.2" y1="60.5" x2="80.6" y2="61.0" stroke="#102e12" stroke-width="0.86" opacity="0.57" stroke-linecap="round"/><line x1="81.9" y1="61.2" x2="85.9" y2="61.8" stroke="#102e12" stroke-width="0.94" opacity="0.54" stroke-linecap="round"/><line x1="87.2" y1="61.9" x2="93.0" y2="62.8" stroke="#102e12" stroke-width="0.67" opacity="0.57" stroke-linecap="round"/><line x1="66.0" y1="62.1" x2="68.9" y2="62.5" stroke="#102e12" stroke-width="0.78" opacity="0.57" stroke-linecap="round"/><line x1="70.6" y1="62.8" x2="75.8" y2="63.5" stroke="#102e12" stroke-width="0.69" opacity="0.47" stroke-linecap="round"/><line x1="76.6" y1="63.6" x2="80.9" y2="64.2" stroke="#102e12" stroke-width="0.80" opacity="0.31" stroke-linecap="round"/><line x1="82.3" y1="64.4" x2="87.2" y2="65.1" stroke="#102e12" stroke-width="0.83" opacity="0.61" stroke-linecap="round"/><line x1="88.0" y1="65.2" x2="90.6" y2="65.6" stroke="#102e12" stroke-width="0.61" opacity="0.47" stroke-linecap="round"/><line x1="66.0" y1="65.2" x2="69.1" y2="65.6" stroke="#102e12" stroke-width="0.92" opacity="0.33" stroke-linecap="round"/><line x1="70.9" y1="65.9" x2="75.2" y2="66.5" stroke="#102e12" stroke-width="0.82" opacity="0.58" stroke-linecap="round"/><line x1="76.0" y1="66.6" x2="78.6" y2="67.0" stroke="#102e12" stroke-width="0.72" opacity="0.31" stroke-linecap="round"/><line x1="79.6" y1="67.1" x2="84.1" y2="67.7" stroke="#102e12" stroke-width="0.81" opacity="0.39" stroke-linecap="round"/><line x1="85.5" y1="67.9" x2="87.8" y2="68.3" stroke="#102e12" stroke-width="0.93" opacity="0.36" stroke-linecap="round"/><line x1="88.7" y1="68.4" x2="91.3" y2="68.7" stroke="#102e12" stroke-width="0.88" opacity="0.59" stroke-linecap="round"/><line x1="66.0" y1="68.0" x2="69.6" y2="68.5" stroke="#102e12" stroke-width="0.75" opacity="0.38" stroke-linecap="round"/><line x1="71.6" y1="68.8" x2="73.8" y2="69.1" stroke="#102e12" stroke-width="0.80" opacity="0.57" stroke-linecap="round"/><line x1="75.7" y1="69.4" x2="78.3" y2="69.8" stroke="#102e12" stroke-width="0.78" opacity="0.56" stroke-linecap="round"/><line x1="78.9" y1="69.8" x2="81.8" y2="70.2" stroke="#102e12" stroke-width="0.96" opacity="0.35" stroke-linecap="round"/><line x1="82.9" y1="70.4" x2="86.1" y2="70.9" stroke="#102e12" stroke-width="0.77" opacity="0.33" stroke-linecap="round"/><line x1="86.7" y1="70.9" x2="92.7" y2="71.8" stroke="#102e12" stroke-width="0.91" opacity="0.56" stroke-linecap="round"/><line x1="66.0" y1="71.0" x2="70.2" y2="71.6" stroke="#102e12" stroke-width="0.70" opacity="0.46" stroke-linecap="round"/><line x1="72.1" y1="71.8" x2="75.6" y2="72.3" stroke="#102e12" stroke-width="0.73" opacity="0.64" stroke-linecap="round"/><line x1="77.0" y1="72.5" x2="79.1" y2="72.8" stroke="#102e12" stroke-width="0.76" opacity="0.53" stroke-linecap="round"/><line x1="79.7" y1="72.9" x2="83.1" y2="73.4" stroke="#102e12" stroke-width="0.88" opacity="0.60" stroke-linecap="round"/><line x1="84.5" y1="73.6" x2="90.0" y2="74.4" stroke="#102e12" stroke-width="0.79" opacity="0.44" stroke-linecap="round"/><line x1="66.0" y1="74.0" x2="71.1" y2="74.7" stroke="#102e12" stroke-width="0.69" opacity="0.42" stroke-linecap="round"/><line x1="71.9" y1="74.8" x2="76.1" y2="75.4" stroke="#102e12" stroke-width="0.67" opacity="0.37" stroke-linecap="round"/><line x1="76.9" y1="75.5" x2="80.8" y2="76.1" stroke="#102e12" stroke-width="0.72" opacity="0.46" stroke-linecap="round"/><line x1="82.8" y1="76.4" x2="87.5" y2="77.0" stroke="#102e12" stroke-width="0.95" opacity="0.37" stroke-linecap="round"/><line x1="88.6" y1="77.2" x2="90.9" y2="77.5" stroke="#102e12" stroke-width="0.88" opacity="0.43" stroke-linecap="round"/><line x1="66.0" y1="76.8" x2="68.7" y2="77.2" stroke="#102e12" stroke-width="0.70" opacity="0.44" stroke-linecap="round"/><line x1="70.6" y1="77.5" x2="75.5" y2="78.1" stroke="#102e12" stroke-width="0.71" opacity="0.43" stroke-linecap="round"/><line x1="76.2" y1="78.2" x2="82.0" y2="79.1" stroke="#102e12" stroke-width="0.74" opacity="0.57" stroke-linecap="round"/><line x1="83.5" y1="79.3" x2="89.2" y2="80.1" stroke="#102e12" stroke-width="0.61" opacity="0.41" stroke-linecap="round"/><line x1="104.0" y1="28.0" x2="109.5" y2="26.0" stroke="#102e12" stroke-width="0.73" opacity="0.57" stroke-linecap="round"/><line x1="110.8" y1="25.5" x2="113.0" y2="24.7" stroke="#102e12" stroke-width="0.76" opacity="0.38" stroke-linecap="round"/><line x1="113.6" y1="24.5" x2="116.2" y2="23.6" stroke="#102e12" stroke-width="0.84" opacity="0.31" stroke-linecap="round"/><line x1="117.2" y1="23.2" x2="120.9" y2="21.9" stroke="#102e12" stroke-width="0.82" opacity="0.35" stroke-linecap="round"/><line x1="122.4" y1="21.3" x2="125.5" y2="20.2" stroke="#102e12" stroke-width="0.89" opacity="0.53" stroke-linecap="round"/><line x1="126.2" y1="19.9" x2="129.0" y2="18.9" stroke="#102e12" stroke-width="0.71" opacity="0.55" stroke-linecap="round"/><line x1="130.1" y1="18.5" x2="133.7" y2="17.2" stroke="#102e12" stroke-width="0.95" opacity="0.38" stroke-linecap="round"/><line x1="104.0" y1="31.3" x2="106.9" y2="30.3" stroke="#102e12" stroke-width="0.62" opacity="0.31" stroke-linecap="round"/><line x1="108.3" y1="29.7" x2="112.6" y2="28.2" stroke="#102e12" stroke-width="0.92" opacity="0.64" stroke-linecap="round"/><line x1="113.5" y1="27.8" x2="118.2" y2="26.1" stroke="#102e12" stroke-width="0.97" opacity="0.38" stroke-linecap="round"/><line x1="119.7" y1="25.6" x2="124.4" y2="23.9" stroke="#102e12" stroke-width="0.98" opacity="0.60" stroke-linecap="round"/><line x1="125.3" y1="23.6" x2="129.8" y2="21.9" stroke="#102e12" stroke-width="0.64" opacity="0.45" stroke-linecap="round"/><line x1="130.9" y1="21.5" x2="133.1" y2="20.7" stroke="#102e12" stroke-width="0.75" opacity="0.41" stroke-linecap="round"/><line x1="104.0" y1="34.6" x2="106.6" y2="33.6" stroke="#102e12" stroke-width="0.76" opacity="0.47" stroke-linecap="round"/><line x1="107.4" y1="33.3" x2="112.0" y2="31.6" stroke="#102e12" stroke-width="0.70" opacity="0.33" stroke-linecap="round"/><line x1="113.1" y1="31.3" x2="116.7" y2="29.9" stroke="#102e12" stroke-width="0.66" opacity="0.50" stroke-linecap="round"/><line x1="118.3" y1="29.4" x2="122.5" y2="27.8" stroke="#102e12" stroke-width="0.88" opacity="0.31" stroke-linecap="round"/><line x1="123.6" y1="27.4" x2="127.1" y2="26.2" stroke="#102e12" stroke-width="0.63" opacity="0.44" stroke-linecap="round"/><line x1="127.6" y1="26.0" x2="131.6" y2="24.5" stroke="#102e12" stroke-width="0.83" opacity="0.46" stroke-linecap="round"/><line x1="132.6" y1="24.2" x2="135.6" y2="23.1" stroke="#102e12" stroke-width="0.61" opacity="0.42" stroke-linecap="round"/><line x1="104.0" y1="38.0" x2="107.0" y2="36.9" stroke="#102e12" stroke-width="0.87" opacity="0.37" stroke-linecap="round"/><line x1="108.3" y1="36.5" x2="112.7" y2="34.8" stroke="#102e12" stroke-width="0.98" opacity="0.43" stroke-linecap="round"/><line x1="114.1" y1="34.3" x2="119.8" y2="32.2" stroke="#102e12" stroke-width="0.91" opacity="0.52" stroke-linecap="round"/><line x1="121.3" y1="31.7" x2="124.9" y2="30.4" stroke="#102e12" stroke-width="0.77" opacity="0.40" stroke-linecap="round"/><line x1="126.7" y1="29.8" x2="132.2" y2="27.8" stroke="#102e12" stroke-width="0.75" opacity="0.62" stroke-linecap="round"/><line x1="132.7" y1="27.6" x2="135.3" y2="26.6" stroke="#102e12" stroke-width="0.80" opacity="0.41" stroke-linecap="round"/><line x1="104.0" y1="41.7" x2="106.6" y2="40.8" stroke="#102e12" stroke-width="0.68" opacity="0.38" stroke-linecap="round"/><line x1="108.1" y1="40.2" x2="111.1" y2="39.1" stroke="#102e12" stroke-width="0.60" opacity="0.49" stroke-linecap="round"/><line x1="112.1" y1="38.7" x2="115.1" y2="37.7" stroke="#102e12" stroke-width="0.80" opacity="0.53" stroke-linecap="round"/><line x1="116.4" y1="37.2" x2="120.9" y2="35.5" stroke="#102e12" stroke-width="0.82" opacity="0.59" stroke-linecap="round"/><line x1="122.9" y1="34.8" x2="126.2" y2="33.6" stroke="#102e12" stroke-width="0.74" opacity="0.61" stroke-linecap="round"/><line x1="127.2" y1="33.3" x2="132.0" y2="31.5" stroke="#102e12" stroke-width="0.88" opacity="0.54" stroke-linecap="round"/><line x1="134.0" y1="30.8" x2="139.3" y2="28.9" stroke="#102e12" stroke-width="0.66" opacity="0.52" stroke-linecap="round"/><line x1="104.0" y1="45.1" x2="107.5" y2="43.9" stroke="#102e12" stroke-width="0.71" opacity="0.56" stroke-linecap="round"/><line x1="108.8" y1="43.4" x2="111.7" y2="42.3" stroke="#102e12" stroke-width="0.70" opacity="0.41" stroke-linecap="round"/><line x1="112.5" y1="42.0" x2="116.5" y2="40.6" stroke="#102e12" stroke-width="0.65" opacity="0.32" stroke-linecap="round"/><line x1="117.2" y1="40.4" x2="119.6" y2="39.5" stroke="#102e12" stroke-width="0.88" opacity="0.34" stroke-linecap="round"/><line x1="120.7" y1="39.0" x2="125.8" y2="37.2" stroke="#102e12" stroke-width="0.79" opacity="0.36" stroke-linecap="round"/><line x1="127.6" y1="36.5" x2="133.1" y2="34.5" stroke="#102e12" stroke-width="0.62" opacity="0.39" stroke-linecap="round"/><line x1="104.0" y1="48.7" x2="107.6" y2="47.4" stroke="#102e12" stroke-width="0.89" opacity="0.39" stroke-linecap="round"/><line x1="109.1" y1="46.8" x2="112.5" y2="45.6" stroke="#102e12" stroke-width="0.73" opacity="0.57" stroke-linecap="round"/><line x1="114.2" y1="45.0" x2="119.5" y2="43.1" stroke="#102e12" stroke-width="0.83" opacity="0.45" stroke-linecap="round"/><line x1="121.1" y1="42.5" x2="125.6" y2="40.9" stroke="#102e12" stroke-width="0.93" opacity="0.58" stroke-linecap="round"/><line x1="126.3" y1="40.6" x2="129.8" y2="39.3" stroke="#102e12" stroke-width="0.87" opacity="0.38" stroke-linecap="round"/><line x1="130.6" y1="39.1" x2="132.6" y2="38.3" stroke="#102e12" stroke-width="0.83" opacity="0.63" stroke-linecap="round"/><line x1="104.0" y1="51.9" x2="108.8" y2="50.2" stroke="#102e12" stroke-width="0.77" opacity="0.52" stroke-linecap="round"/><line x1="109.8" y1="49.8" x2="115.6" y2="47.7" stroke="#102e12" stroke-width="1.00" opacity="0.32" stroke-linecap="round"/><line x1="117.1" y1="47.1" x2="119.6" y2="46.2" stroke="#102e12" stroke-width="0.62" opacity="0.40" stroke-linecap="round"/><line x1="121.2" y1="45.6" x2="127.2" y2="43.5" stroke="#102e12" stroke-width="0.65" opacity="0.42" stroke-linecap="round"/><line x1="127.7" y1="43.3" x2="131.9" y2="41.7" stroke="#102e12" stroke-width="0.79" opacity="0.43" stroke-linecap="round"/><line x1="132.9" y1="41.4" x2="138.1" y2="39.5" stroke="#102e12" stroke-width="0.94" opacity="0.40" stroke-linecap="round"/><line x1="104.0" y1="55.4" x2="109.1" y2="53.5" stroke="#102e12" stroke-width="0.99" opacity="0.44" stroke-linecap="round"/><line x1="110.6" y1="53.0" x2="114.8" y2="51.4" stroke="#102e12" stroke-width="0.92" opacity="0.35" stroke-linecap="round"/><line x1="115.5" y1="51.2" x2="118.0" y2="50.3" stroke="#102e12" stroke-width="0.97" opacity="0.39" stroke-linecap="round"/><line x1="119.2" y1="49.8" x2="121.7" y2="48.9" stroke="#102e12" stroke-width="0.73" opacity="0.31" stroke-linecap="round"/><line x1="123.0" y1="48.4" x2="125.6" y2="47.5" stroke="#102e12" stroke-width="0.85" opacity="0.40" stroke-linecap="round"/><line x1="126.5" y1="47.2" x2="130.4" y2="45.8" stroke="#102e12" stroke-width="0.75" opacity="0.39" stroke-linecap="round"/><line x1="131.0" y1="45.6" x2="133.2" y2="44.7" stroke="#102e12" stroke-width="0.96" opacity="0.41" stroke-linecap="round"/><line x1="133.8" y1="44.5" x2="136.6" y2="43.5" stroke="#102e12" stroke-width="0.79" opacity="0.65" stroke-linecap="round"/><line x1="104.0" y1="59.0" x2="107.9" y2="57.6" stroke="#102e12" stroke-width="0.77" opacity="0.58" stroke-linecap="round"/><line x1="109.0" y1="57.2" x2="111.3" y2="56.3" stroke="#102e12" stroke-width="0.82" opacity="0.53" stroke-linecap="round"/><line x1="112.7" y1="55.8" x2="115.8" y2="54.7" stroke="#102e12" stroke-width="0.98" opacity="0.60" stroke-linecap="round"/><line x1="117.8" y1="54.0" x2="121.6" y2="52.6" stroke="#102e12" stroke-width="0.93" opacity="0.55" stroke-linecap="round"/><line x1="122.3" y1="52.3" x2="124.4" y2="51.5" stroke="#102e12" stroke-width="0.67" opacity="0.34" stroke-linecap="round"/><line x1="125.1" y1="51.3" x2="128.5" y2="50.1" stroke="#102e12" stroke-width="0.90" opacity="0.41" stroke-linecap="round"/><line x1="129.8" y1="49.6" x2="131.8" y2="48.9" stroke="#102e12" stroke-width="0.68" opacity="0.64" stroke-linecap="round"/><line x1="132.3" y1="48.7" x2="136.4" y2="47.2" stroke="#102e12" stroke-width="0.92" opacity="0.58" stroke-linecap="round"/><line x1="104.0" y1="62.3" x2="109.2" y2="60.4" stroke="#102e12" stroke-width="0.93" opacity="0.57" stroke-linecap="round"/><line x1="111.2" y1="59.7" x2="113.6" y2="58.8" stroke="#102e12" stroke-width="0.98" opacity="0.44" stroke-linecap="round"/><line x1="115.2" y1="58.3" x2="118.2" y2="57.2" stroke="#102e12" stroke-width="0.96" opacity="0.31" stroke-linecap="round"/><line x1="119.5" y1="56.7" x2="122.4" y2="55.6" stroke="#102e12" stroke-width="0.76" opacity="0.43" stroke-linecap="round"/><line x1="123.9" y1="55.1" x2="129.2" y2="53.2" stroke="#102e12" stroke-width="0.75" opacity="0.52" stroke-linecap="round"/><line x1="130.2" y1="52.8" x2="133.3" y2="51.7" stroke="#102e12" stroke-width="0.96" opacity="0.41" stroke-linecap="round"/><line x1="133.9" y1="51.4" x2="137.3" y2="50.2" stroke="#102e12" stroke-width="0.90" opacity="0.37" stroke-linecap="round"/><line x1="104.0" y1="65.8" x2="108.7" y2="64.0" stroke="#102e12" stroke-width="0.67" opacity="0.34" stroke-linecap="round"/><line x1="109.4" y1="63.8" x2="112.8" y2="62.5" stroke="#102e12" stroke-width="0.77" opacity="0.30" stroke-linecap="round"/><line x1="114.1" y1="62.1" x2="117.7" y2="60.8" stroke="#102e12" stroke-width="0.73" opacity="0.49" stroke-linecap="round"/><line x1="119.6" y1="60.1" x2="122.5" y2="59.0" stroke="#102e12" stroke-width="0.95" opacity="0.41" stroke-linecap="round"/><line x1="124.1" y1="58.4" x2="126.5" y2="57.6" stroke="#102e12" stroke-width="1.00" opacity="0.45" stroke-linecap="round"/><line x1="128.5" y1="56.9" x2="131.3" y2="55.8" stroke="#102e12" stroke-width="0.76" opacity="0.55" stroke-linecap="round"/><line x1="132.1" y1="55.5" x2="135.2" y2="54.4" stroke="#102e12" stroke-width="0.87" opacity="0.63" stroke-linecap="round"/><line x1="104.0" y1="69.0" x2="107.4" y2="67.7" stroke="#102e12" stroke-width="1.00" opacity="0.35" stroke-linecap="round"/><line x1="108.9" y1="67.2" x2="112.4" y2="65.9" stroke="#102e12" stroke-width="0.86" opacity="0.37" stroke-linecap="round"/><line x1="113.8" y1="65.4" x2="119.4" y2="63.4" stroke="#102e12" stroke-width="0.94" opacity="0.52" stroke-linecap="round"/><line x1="120.6" y1="62.9" x2="124.9" y2="61.4" stroke="#102e12" stroke-width="0.65" opacity="0.59" stroke-linecap="round"/><line x1="126.4" y1="60.8" x2="130.2" y2="59.4" stroke="#102e12" stroke-width="0.87" opacity="0.45" stroke-linecap="round"/><line x1="131.3" y1="59.0" x2="134.2" y2="58.0" stroke="#102e12" stroke-width="0.84" opacity="0.50" stroke-linecap="round"/><line x1="104.0" y1="72.1" x2="108.5" y2="70.4" stroke="#102e12" stroke-width="0.78" opacity="0.51" stroke-linecap="round"/><line x1="109.9" y1="69.9" x2="115.6" y2="67.9" stroke="#102e12" stroke-width="0.66" opacity="0.46" stroke-linecap="round"/><line x1="117.6" y1="67.1" x2="122.6" y2="65.3" stroke="#102e12" stroke-width="0.73" opacity="0.56" stroke-linecap="round"/><line x1="124.6" y1="64.6" x2="128.2" y2="63.3" stroke="#102e12" stroke-width="0.95" opacity="0.34" stroke-linecap="round"/><line x1="130.1" y1="62.6" x2="134.1" y2="61.1" stroke="#102e12" stroke-width="0.69" opacity="0.59" stroke-linecap="round"/><line x1="104.0" y1="75.7" x2="109.3" y2="73.8" stroke="#102e12" stroke-width="0.92" opacity="0.48" stroke-linecap="round"/><line x1="111.3" y1="73.1" x2="113.6" y2="72.3" stroke="#102e12" stroke-width="0.95" opacity="0.55" stroke-linecap="round"/><line x1="114.4" y1="71.9" x2="119.7" y2="70.0" stroke="#102e12" stroke-width="0.78" opacity="0.49" stroke-linecap="round"/><line x1="121.5" y1="69.4" x2="124.3" y2="68.4" stroke="#102e12" stroke-width="0.71" opacity="0.53" stroke-linecap="round"/><line x1="124.9" y1="68.2" x2="129.1" y2="66.6" stroke="#102e12" stroke-width="0.91" opacity="0.47" stroke-linecap="round"/><line x1="129.9" y1="66.3" x2="135.1" y2="64.4" stroke="#102e12" stroke-width="0.94" opacity="0.57" stroke-linecap="round"/><line x1="104.0" y1="79.4" x2="109.2" y2="77.5" stroke="#102e12" stroke-width="0.66" opacity="0.43" stroke-linecap="round"/><line x1="109.8" y1="77.3" x2="112.0" y2="76.5" stroke="#102e12" stroke-width="0.74" opacity="0.60" stroke-linecap="round"/><line x1="113.7" y1="75.8" x2="116.2" y2="74.9" stroke="#102e12" stroke-width="0.67" opacity="0.44" stroke-linecap="round"/><line x1="118.0" y1="74.3" x2="122.4" y2="72.7" stroke="#102e12" stroke-width="0.96" opacity="0.33" stroke-linecap="round"/><line x1="124.4" y1="72.0" x2="127.3" y2="70.9" stroke="#102e12" stroke-width="0.85" opacity="0.61" stroke-linecap="round"/><line x1="128.8" y1="70.3" x2="131.6" y2="69.3" stroke="#102e12" stroke-width="0.87" opacity="0.45" stroke-linecap="round"/><line x1="132.2" y1="69.1" x2="135.5" y2="67.9" stroke="#102e12" stroke-width="0.73" opacity="0.52" stroke-linecap="round"/><ellipse cx="115.5" cy="29.6" rx="1.42" ry="0.69" transform="rotate(-26 115.5 29.6)" fill="#82f686" opacity="0.73"/><ellipse cx="87.8" cy="31.1" rx="3.38" ry="1.90" transform="rotate(-10 87.8 31.1)" fill="#82f686" opacity="0.79"/><ellipse cx="92.0" cy="26.4" rx="2.27" ry="1.50" transform="rotate(-6 92.0 26.4)" fill="#82f686" opacity="0.84"/><ellipse cx="77.7" cy="66.8" rx="1.91" ry="0.77" transform="rotate(25 77.7 66.8)" fill="#82f686" opacity="0.90"/><ellipse cx="107.8" cy="54.6" rx="1.13" ry="0.55" transform="rotate(-4 107.8 54.6)" fill="#82f686" opacity="0.99"/><ellipse cx="82.5" cy="77.6" rx="2.15" ry="1.25" transform="rotate(-26 82.5 77.6)" fill="#82f686" opacity="0.97"/><ellipse cx="79.1" cy="52.0" rx="2.01" ry="1.13" transform="rotate(6 79.1 52.0)" fill="#82f686" opacity="0.86"/><ellipse cx="66.6" cy="96.4" rx="1.15" ry="0.61" transform="rotate(16 66.6 96.4)" fill="#82f686" opacity="0.90"/><ellipse cx="86.7" cy="96.5" rx="2.35" ry="1.75" transform="rotate(-2 86.7 96.5)" fill="#82f686" opacity="0.81"/><ellipse cx="113.5" cy="69.2" rx="3.73" ry="2.11" transform="rotate(-7 113.5 69.2)" fill="#82f686" opacity="0.95"/><ellipse cx="112.3" cy="33.1" rx="2.68" ry="1.54" transform="rotate(-25 112.3 33.1)" fill="#82f686" opacity="0.82"/><ellipse cx="119.4" cy="20.6" rx="1.48" ry="0.80" transform="rotate(17 119.4 20.6)" fill="#82f686" opacity="0.78"/><ellipse cx="125.1" cy="80.9" rx="2.19" ry="1.40" transform="rotate(-34 125.1 80.9)" fill="#82f686" opacity="0.96"/><ellipse cx="136.0" cy="96.3" rx="1.02" ry="0.60" transform="rotate(2 136.0 96.3)" fill="#82f686" opacity="0.73"/><ellipse cx="123.3" cy="40.9" rx="1.73" ry="1.17" transform="rotate(-26 123.3 40.9)" fill="#82f686" opacity="0.73"/><ellipse cx="122.3" cy="35.8" rx="1.51" ry="0.86" transform="rotate(-3 122.3 35.8)" fill="#82f686" opacity="0.87"/><ellipse cx="67.0" cy="92.0" rx="1.66" ry="0.74" transform="rotate(-7 67.0 92.0)" fill="#82f686" opacity="0.88"/><ellipse cx="129.4" cy="102.6" rx="1.47" ry="0.82" transform="rotate(22 129.4 102.6)" fill="#82f686" opacity="0.92"/><ellipse cx="117.0" cy="27.4" rx="1.68" ry="0.90" transform="rotate(-14 117.0 27.4)" fill="#82f686" opacity="0.99"/><ellipse cx="67.6" cy="98.4" rx="1.72" ry="1.01" transform="rotate(27 67.6 98.4)" fill="#82f686" opacity="0.98"/><ellipse cx="132.7" cy="49.6" rx="1.85" ry="0.77" transform="rotate(-9 132.7 49.6)" fill="#82f686" opacity="0.83"/><ellipse cx="62.5" cy="90.7" rx="1.18" ry="0.65" transform="rotate(-7 62.5 90.7)" fill="#82f686" opacity="0.77"/><ellipse cx="84.2" cy="57.9" rx="1.69" ry="0.81" transform="rotate(-34 84.2 57.9)" fill="#82f686" opacity="0.82"/><ellipse cx="88.7" cy="40.9" rx="2.40" ry="1.11" transform="rotate(-0 88.7 40.9)" fill="#82f686" opacity="0.85"/><ellipse cx="80.6" cy="87.0" rx="2.24" ry="0.98" transform="rotate(-15 80.6 87.0)" fill="#82f686" opacity="0.90"/><ellipse cx="126.8" cy="43.4" rx="1.95" ry="1.07" transform="rotate(10 126.8 43.4)" fill="#82f686" opacity="0.72"/><ellipse cx="109.8" cy="64.3" rx="3.16" ry="1.16" transform="rotate(30 109.8 64.3)" fill="#82f686" opacity="0.93"/><ellipse cx="119.0" cy="51.8" rx="3.00" ry="1.64" transform="rotate(-30 119.0 51.8)" fill="#82f686" opacity="0.93"/><ellipse cx="89.5" cy="54.5" rx="1.61" ry="0.94" transform="rotate(16 89.5 54.5)" fill="#82f686" opacity="0.72"/><ellipse cx="67.9" cy="90.5" rx="2.48" ry="1.02" transform="rotate(-27 67.9 90.5)" fill="#82f686" opacity="0.79"/><ellipse cx="130.2" cy="56.8" rx="1.07" ry="0.55" transform="rotate(12 130.2 56.8)" fill="#82f686" opacity="0.98"/><ellipse cx="67.0" cy="82.0" rx="1.44" ry="0.62" transform="rotate(-11 67.0 82.0)" fill="#82f686" opacity="0.75"/><ellipse cx="87.1" cy="67.9" rx="2.01" ry="1.19" transform="rotate(24 87.1 67.9)" fill="#82f686" opacity="0.81"/><ellipse cx="115.7" cy="34.6" rx="1.75" ry="0.89" transform="rotate(-17 115.7 34.6)" fill="#82f686" opacity="0.72"/><ellipse cx="126.2" cy="48.0" rx="2.45" ry="1.45" transform="rotate(4 126.2 48.0)" fill="#82f686" opacity="0.99"/><ellipse cx="133.2" cy="55.3" rx="1.80" ry="1.27" transform="rotate(-28 133.2 55.3)" fill="#82f686" opacity="0.79"/><ellipse cx="115.8" cy="65.7" rx="2.02" ry="0.94" transform="rotate(32 115.8 65.7)" fill="#82f686" opacity="0.93"/><ellipse cx="122.9" cy="33.2" rx="1.48" ry="0.83" transform="rotate(-27 122.9 33.2)" fill="#82f686" opacity="0.93"/><ellipse cx="134.3" cy="77.0" rx="2.17" ry="1.09" transform="rotate(-15 134.3 77.0)" fill="#82f686" opacity="0.96"/><ellipse cx="118.1" cy="37.5" rx="1.21" ry="0.86" transform="rotate(-17 118.1 37.5)" fill="#82f686" opacity="0.79"/><ellipse cx="79.2" cy="25.1" rx="1.83" ry="0.97" transform="rotate(-16 79.2 25.1)" fill="#82f686" opacity="0.85"/><ellipse cx="129.1" cy="92.5" rx="2.35" ry="1.41" transform="rotate(2 129.1 92.5)" fill="#82f686" opacity="0.90"/><ellipse cx="134.0" cy="85.0" rx="1.26" ry="1.06" transform="rotate(-10 134.0 85.0)" fill="#82f686" opacity="0.94"/><ellipse cx="77.6" cy="55.0" rx="2.00" ry="1.22" transform="rotate(0 77.6 55.0)" fill="#82f686" opacity="0.87"/><ellipse cx="87.1" cy="34.4" rx="2.47" ry="2.03" transform="rotate(11 87.1 34.4)" fill="#82f686" opacity="0.72"/><ellipse cx="104.9" cy="24.0" rx="2.82" ry="2.02" transform="rotate(-31 104.9 24.0)" fill="#82f686" opacity="0.90"/><ellipse cx="114.7" cy="92.5" rx="2.70" ry="1.09" transform="rotate(2 114.7 92.5)" fill="#82f686" opacity="0.76"/><ellipse cx="99.4" cy="31.2" rx="2.41" ry="1.34" transform="rotate(-29 99.4 31.2)" fill="#82f686" opacity="0.85"/><ellipse cx="104.6" cy="25.4" rx="1.54" ry="1.00" transform="rotate(31 104.6 25.4)" fill="#82f686" opacity="0.99"/><ellipse cx="136.5" cy="99.0" rx="3.39" ry="1.10" transform="rotate(-1 136.5 99.0)" fill="#82f686" opacity="0.88"/><ellipse cx="114.8" cy="69.9" rx="2.78" ry="0.95" transform="rotate(1 114.8 69.9)" fill="#82f686" opacity="0.99"/><ellipse cx="129.8" cy="102.0" rx="0.85" ry="0.70" transform="rotate(13 129.8 102.0)" fill="#82f686" opacity="0.86"/><ellipse cx="64.0" cy="86.8" rx="3.54" ry="1.57" transform="rotate(-12 64.0 86.8)" fill="#82f686" opacity="0.80"/><ellipse cx="80.0" cy="67.4" rx="1.97" ry="1.26" transform="rotate(-3 80.0 67.4)" fill="#82f686" opacity="0.77"/><ellipse cx="70.7" cy="36.4" rx="2.30" ry="0.99" transform="rotate(-18 70.7 36.4)" fill="#82f686" opacity="0.90"/><ellipse cx="79.8" cy="61.5" rx="1.84" ry="0.69" transform="rotate(-19 79.8 61.5)" fill="#82f686" opacity="0.79"/><ellipse cx="85.5" cy="80.5" rx="2.77" ry="1.35" transform="rotate(-29 85.5 80.5)" fill="#82f686" opacity="0.93"/><ellipse cx="78.5" cy="33.1" rx="2.33" ry="0.95" transform="rotate(-10 78.5 33.1)" fill="#82f686" opacity="0.97"/><ellipse cx="69.5" cy="86.4" rx="2.47" ry="1.67" transform="rotate(-8 69.5 86.4)" fill="#82f686" opacity="0.79"/><ellipse cx="89.7" cy="18.9" rx="2.46" ry="1.32" transform="rotate(26 89.7 18.9)" fill="#82f686" opacity="0.99"/><ellipse cx="117.1" cy="100.9" rx="1.20" ry="0.85" transform="rotate(27 117.1 100.9)" fill="#82f686" opacity="0.92"/><ellipse cx="89.0" cy="24.0" rx="1.93" ry="0.65" transform="rotate(-22 89.0 24.0)" fill="#82f686" opacity="0.80"/><ellipse cx="73.4" cy="24.2" rx="2.18" ry="1.19" transform="rotate(18 73.4 24.2)" fill="#82f686" opacity="0.86"/><ellipse cx="76.7" cy="19.9" rx="1.89" ry="1.13" transform="rotate(0 76.7 19.9)" fill="#82f686" opacity="0.75"/><ellipse cx="85.6" cy="65.8" rx="1.88" ry="1.13" transform="rotate(-3 85.6 65.8)" fill="#82f686" opacity="0.88"/><ellipse cx="127.9" cy="56.1" rx="1.73" ry="0.98" transform="rotate(-33 127.9 56.1)" fill="#82f686" opacity="0.93"/><ellipse cx="91.3" cy="17.6" rx="1.17" ry="0.84" transform="rotate(-20 91.3 17.6)" fill="#82f686" opacity="0.71"/><ellipse cx="76.5" cy="87.3" rx="2.22" ry="1.10" transform="rotate(-22 76.5 87.3)" fill="#82f686" opacity="0.70"/><ellipse cx="83.4" cy="16.7" rx="1.67" ry="0.79" transform="rotate(-2 83.4 16.7)" fill="#82f686" opacity="0.89"/><ellipse cx="84.5" cy="46.0" rx="2.99" ry="1.48" transform="rotate(3 84.5 46.0)" fill="#82f686" opacity="0.84"/><ellipse cx="85.7" cy="98.0" rx="1.83" ry="0.99" transform="rotate(27 85.7 98.0)" fill="#82f686" opacity="0.75"/><ellipse cx="82.1" cy="28.7" rx="2.23" ry="1.44" transform="rotate(-24 82.1 28.7)" fill="#82f686" opacity="0.98"/><ellipse cx="81.7" cy="21.8" rx="2.30" ry="1.37" transform="rotate(-0 81.7 21.8)" fill="#82f686" opacity="0.98"/><ellipse cx="80.5" cy="66.3" rx="2.31" ry="0.97" transform="rotate(-0 80.5 66.3)" fill="#82f686" opacity="0.84"/><ellipse cx="81.4" cy="54.1" rx="1.38" ry="0.56" transform="rotate(23 81.4 54.1)" fill="#82f686" opacity="0.94"/><ellipse cx="79.3" cy="96.9" rx="2.02" ry="1.16" transform="rotate(31 79.3 96.9)" fill="#82f686" opacity="0.85"/><ellipse cx="127.5" cy="59.7" rx="1.51" ry="0.79" transform="rotate(23 127.5 59.7)" fill="#82f686" opacity="0.94"/><ellipse cx="114.7" cy="87.1" rx="2.88" ry="1.59" transform="rotate(-23 114.7 87.1)" fill="#82f686" opacity="0.94"/><ellipse cx="83.3" cy="35.5" rx="2.30" ry="1.60" transform="rotate(-11 83.3 35.5)" fill="#82f686" opacity="0.94"/><ellipse cx="130.0" cy="41.8" rx="1.55" ry="0.88" transform="rotate(34 130.0 41.8)" fill="#82f686" opacity="0.89"/><ellipse cx="68.7" cy="80.5" rx="1.36" ry="0.72" transform="rotate(20 68.7 80.5)" fill="#82f686" opacity="0.96"/><ellipse cx="110.9" cy="58.6" rx="1.72" ry="0.72" transform="rotate(-24 110.9 58.6)" fill="#82f686" opacity="0.94"/><ellipse cx="77.2" cy="73.7" rx="2.89" ry="1.44" transform="rotate(-13 77.2 73.7)" fill="#82f686" opacity="0.78"/><ellipse cx="73.8" cy="73.2" rx="2.97" ry="1.20" transform="rotate(30 73.8 73.2)" fill="#82f686" opacity="0.97"/><ellipse cx="82.3" cy="101.5" rx="2.83" ry="1.45" transform="rotate(-12 82.3 101.5)" fill="#82f686" opacity="0.78"/><ellipse cx="61.3" cy="93.2" rx="2.13" ry="1.32" transform="rotate(-18 61.3 93.2)" fill="#82f686" opacity="0.76"/><ellipse cx="106.1" cy="35.3" rx="1.38" ry="0.69" transform="rotate(-10 106.1 35.3)" fill="#82f686" opacity="0.86"/><ellipse cx="77.7" cy="57.0" rx="2.51" ry="1.57" transform="rotate(13 77.7 57.0)" fill="#82f686" opacity="0.93"/><ellipse cx="135.5" cy="96.9" rx="1.59" ry="1.08" transform="rotate(2 135.5 96.9)" fill="#82f686" opacity="0.76"/><ellipse cx="70.8" cy="64.2" rx="1.77" ry="0.98" transform="rotate(-13 70.8 64.2)" fill="#82f686" opacity="0.93"/><ellipse cx="136.9" cy="95.6" rx="0.93" ry="0.54" transform="rotate(14 136.9 95.6)" fill="#82f686" opacity="0.83"/><ellipse cx="68.9" cy="52.5" rx="2.48" ry="1.14" transform="rotate(10 68.9 52.5)" fill="#82f686" opacity="0.90"/><ellipse cx="109.0" cy="17.1" rx="2.09" ry="1.01" transform="rotate(-2 109.0 17.1)" fill="#82f686" opacity="0.71"/><ellipse cx="96.9" cy="22.6" rx="3.52" ry="1.62" transform="rotate(6 96.9 22.6)" fill="#82f686" opacity="0.79"/><ellipse cx="83.4" cy="33.4" rx="2.85" ry="1.45" transform="rotate(-7 83.4 33.4)" fill="#82f686" opacity="0.97"/><ellipse cx="79.6" cy="86.5" rx="2.45" ry="1.25" transform="rotate(-4 79.6 86.5)" fill="#82f686" opacity="0.84"/><ellipse cx="84.3" cy="70.9" rx="1.72" ry="1.18" transform="rotate(-3 84.3 70.9)" fill="#82f686" opacity="0.84"/><ellipse cx="130.7" cy="55.2" rx="2.16" ry="1.25" transform="rotate(20 130.7 55.2)" fill="#82f686" opacity="0.82"/><ellipse cx="113.6" cy="81.9" rx="1.83" ry="1.12" transform="rotate(11 113.6 81.9)" fill="#82f686" opacity="0.90"/><ellipse cx="77.0" cy="84.6" rx="2.64" ry="1.06" transform="rotate(15 77.0 84.6)" fill="#82f686" opacity="0.71"/><ellipse cx="79.7" cy="70.0" rx="1.43" ry="1.04" transform="rotate(-21 79.7 70.0)" fill="#82f686" opacity="0.97"/><ellipse cx="125.9" cy="90.8" rx="1.93" ry="1.12" transform="rotate(18 125.9 90.8)" fill="#82f686" opacity="0.92"/><ellipse cx="106.0" cy="36.2" rx="2.58" ry="1.38" transform="rotate(34 106.0 36.2)" fill="#82f686" opacity="0.74"/><ellipse cx="122.6" cy="43.1" rx="3.08" ry="1.20" transform="rotate(5 122.6 43.1)" fill="#82f686" opacity="0.86"/><ellipse cx="99.1" cy="28.4" rx="2.77" ry="1.38" transform="rotate(-15 99.1 28.4)" fill="#82f686" opacity="0.94"/><ellipse cx="92.9" cy="26.3" rx="2.26" ry="1.26" transform="rotate(34 92.9 26.3)" fill="#82f686" opacity="0.87"/><ellipse cx="120.8" cy="19.8" rx="1.81" ry="0.99" transform="rotate(23 120.8 19.8)" fill="#82f686" opacity="0.81"/><ellipse cx="80.9" cy="46.2" rx="1.68" ry="1.08" transform="rotate(11 80.9 46.2)" fill="#82f686" opacity="0.74"/><ellipse cx="84.0" cy="94.1" rx="2.64" ry="1.31" transform="rotate(-27 84.0 94.1)" fill="#82f686" opacity="0.73"/><ellipse cx="123.7" cy="81.7" rx="1.58" ry="0.95" transform="rotate(-33 123.7 81.7)" fill="#82f686" opacity="0.95"/><ellipse cx="116.2" cy="78.0" rx="2.05" ry="0.79" transform="rotate(-2 116.2 78.0)" fill="#82f686" opacity="0.79"/><ellipse cx="76.7" cy="70.6" rx="1.64" ry="0.66" transform="rotate(-4 76.7 70.6)" fill="#82f686" opacity="0.83"/><ellipse cx="126.4" cy="98.1" rx="2.08" ry="1.21" transform="rotate(14 126.4 98.1)" fill="#82f686" opacity="0.76"/><ellipse cx="131.0" cy="94.1" rx="1.42" ry="0.69" transform="rotate(15 131.0 94.1)" fill="#82f686" opacity="0.71"/><ellipse cx="115.6" cy="18.6" rx="2.85" ry="1.57" transform="rotate(-28 115.6 18.6)" fill="#82f686" opacity="0.71"/><ellipse cx="72.9" cy="38.2" rx="2.65" ry="1.17" transform="rotate(-2 72.9 38.2)" fill="#82f686" opacity="0.79"/><ellipse cx="104.5" cy="46.0" rx="1.58" ry="0.85" transform="rotate(-17 104.5 46.0)" fill="#82f686" opacity="0.70"/><ellipse cx="83.9" cy="68.0" rx="1.31" ry="1.03" transform="rotate(-2 83.9 68.0)" fill="#82f686" opacity="0.85"/><ellipse cx="84.0" cy="95.5" rx="2.76" ry="1.53" transform="rotate(13 84.0 95.5)" fill="#82f686" opacity="0.85"/><ellipse cx="123.2" cy="96.0" rx="1.17" ry="0.72" transform="rotate(-33 123.2 96.0)" fill="#82f686" opacity="0.94"/><circle cx="109.4" cy="39.4" r="0.57" fill="#fff" opacity="0.95"/><circle cx="127.1" cy="76.5" r="1.02" fill="#fff" opacity="0.90"/><circle cx="78.7" cy="103.3" r="0.89" fill="#fff" opacity="0.81"/><circle cx="83.9" cy="93.1" r="0.87" fill="#fff" opacity="1.00"/><circle cx="121.1" cy="68.0" r="0.92" fill="#fff" opacity="0.67"/><circle cx="113.8" cy="33.0" r="0.80" fill="#fff" opacity="0.82"/><circle cx="86.1" cy="66.6" r="0.97" fill="#fff" opacity="0.61"/><circle cx="76.5" cy="74.0" r="0.59" fill="#fff" opacity="0.63"/><circle cx="121.0" cy="43.9" r="1.26" fill="#fff" opacity="0.82"/><circle cx="80.0" cy="88.7" r="1.05" fill="#fff" opacity="0.90"/><circle cx="71.8" cy="56.9" r="1.26" fill="#fff" opacity="0.73"/><circle cx="79.7" cy="90.0" r="0.57" fill="#fff" opacity="0.85"/><circle cx="79.1" cy="79.4" r="0.57" fill="#fff" opacity="0.80"/><circle cx="81.3" cy="98.3" r="1.01" fill="#fff" opacity="0.63"/><circle cx="73.7" cy="34.9" r="0.66" fill="#fff" opacity="0.94"/><circle cx="113.4" cy="71.3" r="0.74" fill="#fff" opacity="0.89"/><circle cx="99.0" cy="18.3" r="0.84" fill="#fff" opacity="0.75"/><circle cx="102.0" cy="17.3" r="0.43" fill="#fff" opacity="0.99"/><circle cx="88.9" cy="43.6" r="0.53" fill="#fff" opacity="0.84"/><circle cx="121.4" cy="65.5" r="0.61" fill="#fff" opacity="0.68"/><circle cx="118.0" cy="20.1" r="1.18" fill="#fff" opacity="0.61"/><circle cx="74.0" cy="56.4" r="1.16" fill="#fff" opacity="0.85"/><circle cx="119.7" cy="83.7" r="1.05" fill="#fff" opacity="0.62"/><circle cx="89.7" cy="20.9" r="0.44" fill="#fff" opacity="0.94"/><circle cx="82.0" cy="30.6" r="0.50" fill="#fff" opacity="0.68"/><circle cx="111.0" cy="28.5" r="0.55" fill="#fff" opacity="0.81"/><circle cx="89.3" cy="26.7" r="0.91" fill="#fff" opacity="0.80"/><circle cx="74.3" cy="44.1" r="0.41" fill="#fff" opacity="0.96"/><circle cx="106.7" cy="49.4" r="0.89" fill="#fff" opacity="0.98"/><circle cx="69.3" cy="48.5" r="1.04" fill="#fff" opacity="0.75"/><circle cx="116.5" cy="97.4" r="0.44" fill="#fff" opacity="0.71"/><circle cx="82.5" cy="82.7" r="1.11" fill="#fff" opacity="0.88"/><circle cx="121.3" cy="23.3" r="1.28" fill="#fff" opacity="0.90"/><circle cx="129.6" cy="46.5" r="0.94" fill="#fff" opacity="0.98"/><circle cx="127.4" cy="73.9" r="1.26" fill="#fff" opacity="0.66"/><circle cx="69.2" cy="85.6" r="0.46" fill="#fff" opacity="0.85"/><circle cx="81.4" cy="42.9" r="0.95" fill="#fff" opacity="0.68"/><circle cx="74.0" cy="91.9" r="0.58" fill="#fff" opacity="0.82"/><circle cx="85.4" cy="38.4" r="1.29" fill="#fff" opacity="0.86"/><circle cx="63.8" cy="79.5" r="0.61" fill="#fff" opacity="0.79"/><circle cx="117.8" cy="92.6" r="1.24" fill="#fff" opacity="0.77"/><circle cx="84.5" cy="49.8" r="0.68" fill="#fff" opacity="0.90"/><circle cx="70.9" cy="85.8" r="1.27" fill="#fff" opacity="0.68"/><circle cx="109.1" cy="27.9" r="0.43" fill="#fff" opacity="0.77"/><circle cx="73.5" cy="80.9" r="0.92" fill="#fff" opacity="0.87"/><circle cx="114.6" cy="63.9" r="1.17" fill="#fff" opacity="0.75"/><circle cx="126.1" cy="44.9" r="0.51" fill="#fff" opacity="0.87"/><circle cx="118.3" cy="95.2" r="0.90" fill="#fff" opacity="0.83"/><circle cx="129.3" cy="75.9" r="1.28" fill="#fff" opacity="0.71"/><circle cx="122.1" cy="71.8" r="0.82" fill="#fff" opacity="0.60"/><circle cx="100.4" cy="18.3" r="0.52" fill="#fff" opacity="0.84"/><circle cx="123.6" cy="39.8" r="0.81" fill="#fff" opacity="0.80"/><circle cx="124.5" cy="49.6" r="1.23" fill="#fff" opacity="0.79"/><circle cx="64.9" cy="76.0" r="0.54" fill="#fff" opacity="0.66"/><circle cx="121.2" cy="54.2" r="0.67" fill="#fff" opacity="0.75"/><circle cx="98.1" cy="25.1" r="0.52" fill="#fff" opacity="0.96"/><circle cx="120.0" cy="18.8" r="1.01" fill="#fff" opacity="0.69"/><circle cx="86.0" cy="26.2" r="1.10" fill="#fff" opacity="0.64"/><circle cx="111.3" cy="19.7" r="1.23" fill="#fff" opacity="0.98"/><circle cx="109.2" cy="42.7" r="1.05" fill="#fff" opacity="0.96"/><circle cx="99.8" cy="25.8" r="0.89" fill="#fff" opacity="0.98"/><circle cx="103.8" cy="42.4" r="0.55" fill="#fff" opacity="0.90"/><circle cx="120.8" cy="44.2" r="0.78" fill="#fff" opacity="0.88"/><circle cx="118.2" cy="56.0" r="0.51" fill="#fff" opacity="0.64"/><circle cx="72.3" cy="89.8" r="0.85" fill="#fff" opacity="0.86"/><circle cx="88.4" cy="47.2" r="0.56" fill="#fff" opacity="0.99"/><circle cx="108.2" cy="24.8" r="1.03" fill="#fff" opacity="0.84"/><circle cx="111.7" cy="47.7" r="0.77" fill="#fff" opacity="0.75"/><circle cx="111.6" cy="45.7" r="0.72" fill="#fff" opacity="0.94"/><circle cx="124.1" cy="75.8" r="1.16" fill="#fff" opacity="0.75"/><circle cx="111.2" cy="36.2" r="0.68" fill="#fff" opacity="0.64"/><circle cx="124.0" cy="98.7" r="0.67" fill="#fff" opacity="0.75"/><circle cx="120.8" cy="33.9" r="1.19" fill="#fff" opacity="0.74"/><circle cx="97.3" cy="31.6" r="0.66" fill="#fff" opacity="0.77"/><circle cx="81.3" cy="80.8" r="0.43" fill="#fff" opacity="0.86"/><circle cx="124.4" cy="43.2" r="0.57" fill="#fff" opacity="0.65"/><circle cx="64.8" cy="86.6" r="0.94" fill="#fff" opacity="0.61"/><circle cx="84.7" cy="16.0" r="0.78" fill="#fff" opacity="0.74"/><circle cx="134.2" cy="93.7" r="0.92" fill="#fff" opacity="0.65"/><circle cx="104.2" cy="21.9" r="0.48" fill="#fff" opacity="0.76"/><circle cx="137.0" cy="83.4" r="0.98" fill="#fff" opacity="0.79"/><circle cx="122.3" cy="75.2" r="0.54" fill="#fff" opacity="0.81"/><circle cx="117.0" cy="77.0" r="0.91" fill="#fff" opacity="0.92"/><circle cx="71.6" cy="102.2" r="0.68" fill="#fff" opacity="0.78"/><circle cx="81.4" cy="85.4" r="0.70" fill="#fff" opacity="0.94"/><circle cx="103.4" cy="21.5" r="1.20" fill="#fff" opacity="0.63"/><circle cx="80.4" cy="84.4" r="0.93" fill="#fff" opacity="0.87"/><circle cx="75.1" cy="55.9" r="0.63" fill="#fff" opacity="0.87"/><circle cx="74.6" cy="62.5" r="0.92" fill="#fff" opacity="0.60"/><circle cx="139.5" cy="90.7" r="0.74" fill="#fff" opacity="0.66"/><circle cx="126.3" cy="103.9" r="0.56" fill="#fff" opacity="0.90"/><circle cx="125.6" cy="100.1" r="0.59" fill="#fff" opacity="0.65"/><circle cx="132.4" cy="97.6" r="0.83" fill="#fff" opacity="0.65"/><circle cx="87.4" cy="35.3" r="0.98" fill="#fff" opacity="0.89"/><circle cx="122.2" cy="53.5" r="0.81" fill="#fff" opacity="0.79"/><circle cx="88.8" cy="55.2" r="1.02" fill="#fff" opacity="0.88"/><circle cx="85.2" cy="65.6" r="0.53" fill="#fff" opacity="0.62"/><circle cx="90.2" cy="46.3" r="0.43" fill="#fff" opacity="0.63"/><circle cx="84.4" cy="47.2" r="0.68" fill="#fff" opacity="0.65"/><circle cx="89.8" cy="29.2" r="0.49" fill="#fff" opacity="0.61"/><circle cx="70.0" cy="103.2" r="1.19" fill="#fff"/><circle cx="106.7" cy="14.5" r="1.17" fill="#fff"/><circle cx="81.5" cy="104.4" r="0.76" fill="#fff"/><circle cx="110.2" cy="68.0" r="1.21" fill="#fff"/><circle cx="66.9" cy="48.0" r="1.34" fill="#fff"/><circle cx="128.3" cy="38.2" r="1.20" fill="#fff"/><circle cx="121.2" cy="19.6" r="1.24" fill="#fff"/><circle cx="86.1" cy="86.7" r="1.27" fill="#fff"/><circle cx="106.1" cy="52.5" r="0.69" fill="#fff"/><circle cx="112.7" cy="89.9" r="1.22" fill="#fff"/><circle cx="101.7" cy="14.3" r="0.74" fill="#fff"/><circle cx="132.0" cy="59.8" r="0.81" fill="#fff"/><circle cx="100.1" cy="39.1" r="0.69" fill="#fff"/><circle cx="79.6" cy="15.0" r="0.89" fill="#fff"/><circle cx="117.7" cy="103.4" r="0.70" fill="#fff"/><circle cx="139.1" cy="86.7" r="0.88" fill="#fff"/><circle cx="80.9" cy="14.8" r="0.84" fill="#fff"/><circle cx="103.7" cy="46.1" r="1.19" fill="#fff"/><circle cx="98.0" cy="36.4" r="1.15" fill="#fff"/><circle cx="107.8" cy="55.8" r="1.29" fill="#fff"/><circle cx="86.2" cy="103.1" r="0.93" fill="#fff"/><circle cx="93.0" cy="44.9" r="1.26" fill="#fff"/><circle cx="94.3" cy="14.1" r="1.00" fill="#fff"/><circle cx="67.5" cy="52.1" r="0.78" fill="#fff"/><circle cx="68.1" cy="37.5" r="0.54" fill="#fff"/><circle cx="74.7" cy="104.9" r="0.71" fill="#fff"/><circle cx="68.3" cy="62.2" r="1.13" fill="#fff"/><circle cx="69.2" cy="64.1" r="0.48" fill="#fff"/><circle cx="89.5" cy="97.3" r="1.33" fill="#fff"/><circle cx="103.3" cy="45.8" r="0.74" fill="#fff"/><circle cx="115.9" cy="17.6" r="0.52" fill="#fff"/><circle cx="112.1" cy="79.1" r="0.51" fill="#fff"/><circle cx="135.3" cy="100.7" r="0.84" fill="#fff"/><circle cx="91.3" cy="51.7" r="1.31" fill="#fff"/><circle cx="60.2" cy="80.7" r="0.86" fill="#fff"/><circle cx="87.6" cy="70.5" r="1.39" fill="#fff"/><circle cx="139.0" cy="92.8" r="0.61" fill="#fff"/><circle cx="84.6" cy="103.6" r="0.64" fill="#fff"/><circle cx="131.3" cy="66.7" r="0.66" fill="#fff"/><circle cx="115.2" cy="17.4" r="1.12" fill="#fff"/><circle cx="110.1" cy="68.2" r="0.91" fill="#fff"/><circle cx="134.8" cy="77.6" r="0.72" fill="#fff"/><circle cx="87.2" cy="69.6" r="0.61" fill="#fff"/><circle cx="133.2" cy="60.4" r="1.33" fill="#fff"/><circle cx="63.8" cy="77.4" r="0.97" fill="#fff"/><circle cx="103.5" cy="14.6" r="1.24" fill="#fff"/><circle cx="89.9" cy="14.4" r="0.89" fill="#fff"/><circle cx="69.5" cy="58.1" r="1.08" fill="#fff"/><circle cx="86.7" cy="79.5" r="1.04" fill="#fff"/><circle cx="101.1" cy="14.2" r="1.20" fill="#fff"/><circle cx="110.0" cy="72.1" r="1.08" fill="#fff"/><circle cx="99.4" cy="37.7" r="0.80" fill="#fff"/><circle cx="130.7" cy="66.9" r="0.82" fill="#fff"/><circle cx="88.6" cy="92.2" r="0.42" fill="#fff"/><circle cx="69.5" cy="69.3" r="1.01" fill="#fff"/><circle cx="127.4" cy="103.6" r="1.06" fill="#fff"/><circle cx="95.0" cy="14.4" r="1.07" fill="#fff"/><circle cx="90.2" cy="55.9" r="1.21" fill="#fff"/><circle cx="73.4" cy="22.6" r="1.01" fill="#fff"/><circle cx="88.1" cy="68.8" r="0.76" fill="#fff"/><circle cx="75.4" cy="17.7" r="1.39" fill="#fff"/><circle cx="91.4" cy="50.5" r="1.39" fill="#fff"/><circle cx="110.8" cy="72.1" r="0.41" fill="#fff"/><circle cx="137.3" cy="99.0" r="0.79" fill="#fff"/><circle cx="135.7" cy="78.1" r="0.71" fill="#fff"/><circle cx="112.4" cy="99.2" r="0.82" fill="#fff"/><circle cx="60.3" cy="92.5" r="0.60" fill="#fff"/><circle cx="103.0" cy="44.1" r="0.70" fill="#fff"/><circle cx="68.6" cy="57.4" r="0.92" fill="#fff"/><circle cx="133.6" cy="75.0" r="0.75" fill="#fff"/><circle cx="137.7" cy="82.6" r="1.10" fill="#fff"/><circle cx="91.3" cy="51.1" r="0.46" fill="#fff"/><circle cx="122.1" cy="23.9" r="1.39" fill="#fff"/><circle cx="66.4" cy="100.9" r="1.02" fill="#fff"/><circle cx="89.5" cy="55.3" r="0.91" fill="#fff"/><circle cx="134.8" cy="76.3" r="0.47" fill="#fff"/><circle cx="86.2" cy="81.0" r="0.70" fill="#fff"/><circle cx="89.6" cy="55.9" r="1.31" fill="#fff"/><circle cx="73.9" cy="23.3" r="0.65" fill="#fff"/><circle cx="59.7" cy="83.1" r="0.48" fill="#fff"/><circle cx="113.9" cy="16.0" r="1.12" fill="#fff"/><circle cx="103.4" cy="46.4" r="0.46" fill="#fff"/><circle cx="69.3" cy="61.1" r="0.85" fill="#fff"/><circle cx="84.2" cy="14.0" r="0.93" fill="#fff"/><circle cx="66.4" cy="44.8" r="1.12" fill="#fff"/><circle cx="88.6" cy="94.9" r="0.98" fill="#fff"/><circle cx="111.5" cy="91.6" r="0.69" fill="#fff"/><circle cx="68.7" cy="60.5" r="0.77" fill="#fff"/><circle cx="131.4" cy="45.8" r="1.15" fill="#fff"/><circle cx="73.3" cy="26.0" r="0.56" fill="#fff"/><circle cx="93.0" cy="14.1" r="1.36" fill="#fff"/><circle cx="139.2" cy="86.2" r="0.55" fill="#fff"/><circle cx="84.2" cy="14.4" r="0.77" fill="#fff"/><circle cx="69.1" cy="37.0" r="0.93" fill="#fff"/><circle cx="114.3" cy="17.0" r="1.27" fill="#fff"/><circle cx="93.5" cy="13.6" r="1.09" fill="#fff"/><circle cx="61.2" cy="79.0" r="0.56" fill="#fff"/><circle cx="74.9" cy="32.8" r="0.94" fill="#fff"/><circle cx="93.5" cy="14.4" r="0.47" fill="#fff"/><circle cx="138.8" cy="86.7" r="0.75" fill="#fff"/><circle cx="106.4" cy="14.2" r="0.83" fill="#fff"/><circle cx="89.2" cy="58.9" r="0.93" fill="#fff"/><circle cx="95.6" cy="14.3" r="0.66" fill="#fff"/><circle cx="59.7" cy="83.5" r="1.19" fill="#fff"/><circle cx="74.8" cy="17.9" r="1.11" fill="#fff"/><circle cx="68.6" cy="37.2" r="0.60" fill="#fff"/><circle cx="109.1" cy="64.2" r="0.49" fill="#fff"/><circle cx="87.8" cy="91.0" r="0.52" fill="#fff"/><circle cx="65.5" cy="41.8" r="0.79" fill="#fff"/><circle cx="72.9" cy="25.8" r="1.34" fill="#fff"/><circle cx="132.7" cy="52.2" r="0.48" fill="#fff"/><circle cx="60.5" cy="91.3" r="0.51" fill="#fff"/><circle cx="87.1" cy="69.9" r="0.99" fill="#fff"/><circle cx="87.9" cy="71.1" r="0.54" fill="#fff"/><circle cx="139.2" cy="89.8" r="0.43" fill="#fff"/><circle cx="69.6" cy="69.4" r="0.89" fill="#fff"/><circle cx="68.0" cy="51.0" r="1.21" fill="#fff"/><circle cx="133.4" cy="55.2" r="1.16" fill="#fff"/><circle cx="110.4" cy="67.3" r="0.83" fill="#fff"/><circle cx="70.0" cy="69.8" r="1.28" fill="#fff"/><circle cx="66.1" cy="46.1" r="0.46" fill="#fff"/><circle cx="87.0" cy="84.5" r="0.55" fill="#fff"/><circle cx="94.3" cy="40.8" r="0.48" fill="#fff"/><circle cx="112.4" cy="90.7" r="1.25" fill="#fff"/><circle cx="110.9" cy="73.6" r="1.19" fill="#fff"/><circle cx="94.6" cy="40.6" r="0.86" fill="#fff"/><circle cx="98.1" cy="13.3" r="0.82" fill="#fff"/><circle cx="122.4" cy="26.4" r="1.27" fill="#fff"/><circle cx="98.3" cy="36.1" r="1.24" fill="#fff"/><circle cx="92.2" cy="46.9" r="0.45" fill="#fff"/><circle cx="133.0" cy="49.4" r="1.34" fill="#fff"/><circle cx="91.0" cy="48.7" r="0.96" fill="#fff"/><circle cx="111.4" cy="93.3" r="0.60" fill="#fff"/><circle cx="78.5" cy="15.7" r="1.27" fill="#fff"/><circle cx="122.6" cy="33.0" r="0.65" fill="#fff"/><circle cx="89.6" cy="59.1" r="0.68" fill="#fff"/><circle cx="89.6" cy="55.9" r="0.66" fill="#fff"/><circle cx="69.5" cy="68.8" r="0.75" fill="#fff"/><circle cx="70.4" cy="35.5" r="1.05" fill="#fff"/><circle cx="139.1" cy="92.0" r="1.01" fill="#fff"/><circle cx="130.4" cy="66.3" r="0.54" fill="#fff"/><circle cx="74.0" cy="104.4" r="1.33" fill="#fff"/><circle cx="60.9" cy="81.7" r="1.00" fill="#fff"/><circle cx="65.2" cy="41.4" r="0.72" fill="#fff"/><circle cx="117.4" cy="103.5" r="1.04" fill="#fff"/><circle cx="69.8" cy="70.2" r="0.43" fill="#fff"/><circle cx="122.3" cy="105.0" r="0.95" fill="#fff"/><circle cx="105.8" cy="49.6" r="1.08" fill="#fff"/><circle cx="97.8" cy="36.7" r="0.52" fill="#fff"/><circle cx="113.2" cy="81.8" r="0.69" fill="#fff"/><circle cx="93.8" cy="42.9" r="0.58" fill="#fff"/><circle cx="62.4" cy="96.3" r="0.68" fill="#fff"/><circle cx="132.8" cy="49.9" r="0.92" fill="#fff"/><circle cx="128.1" cy="39.0" r="1.02" fill="#fff"/><circle cx="109.6" cy="64.4" r="0.86" fill="#fff"/><circle cx="87.0" cy="89.6" r="0.99" fill="#fff"/><circle cx="74.2" cy="29.5" r="1.17" fill="#fff"/><circle cx="137.9" cy="83.6" r="1.13" fill="#fff"/><circle cx="87.6" cy="101.8" r="1.38" fill="#fff"/><circle cx="108.8" cy="58.7" r="0.78" fill="#fff"/><circle cx="107.9" cy="15.2" r="1.12" fill="#fff"/><circle cx="89.4" cy="59.2" r="1.14" fill="#fff"/><circle cx="90.2" cy="54.5" r="1.07" fill="#fff"/><circle cx="96.6" cy="38.0" r="1.10" fill="#fff"/><circle cx="113.7" cy="86.2" r="0.57" fill="#fff"/><circle cx="106.3" cy="51.7" r="1.29" fill="#fff"/><circle cx="129.6" cy="40.2" r="0.92" fill="#fff"/><circle cx="73.1" cy="20.8" r="0.41" fill="#fff"/><circle cx="74.2" cy="28.3" r="1.04" fill="#fff"/><circle cx="110.2" cy="73.0" r="0.84" fill="#fff"/><circle cx="68.8" cy="68.2" r="0.87" fill="#fff"/><circle cx="99.2" cy="36.8" r="0.72" fill="#fff"/><circle cx="70.6" cy="35.4" r="0.95" fill="#fff"/><circle cx="68.8" cy="69.3" r="0.89" fill="#fff"/><circle cx="137.6" cy="83.2" r="0.84" fill="#fff"/><circle cx="112.7" cy="88.3" r="1.02" fill="#fff"/><circle cx="110.2" cy="67.9" r="0.64" fill="#fff"/><circle cx="73.9" cy="28.3" r="0.65" fill="#fff"/><circle cx="89.3" cy="99.4" r="0.66" fill="#fff"/><circle cx="69.3" cy="72.5" r="0.84" fill="#fff"/><circle cx="112.0" cy="96.8" r="0.95" fill="#fff"/><circle cx="97.5" cy="38.3" r="0.49" fill="#fff"/><circle cx="72.8" cy="23.5" r="1.22" fill="#fff"/><circle cx="135.1" cy="78.5" r="0.90" fill="#fff"/><circle cx="63.6" cy="75.9" r="0.41" fill="#fff"/><circle cx="94.4" cy="13.9" r="1.37" fill="#fff"/><circle cx="87.7" cy="72.8" r="1.31" fill="#fff"/><circle cx="86.2" cy="82.9" r="0.88" fill="#fff"/><circle cx="118.2" cy="17.7" r="0.60" fill="#fff"/><circle cx="108.9" cy="59.8" r="0.99" fill="#fff"/><circle cx="110.0" cy="15.2" r="0.91" fill="#fff"/><circle cx="86.9" cy="89.2" r="0.99" fill="#fff"/><circle cx="76.6" cy="104.5" r="1.40" fill="#fff"/><circle cx="111.2" cy="74.6" r="0.48" fill="#fff"/><circle cx="87.0" cy="71.0" r="0.48" fill="#fff"/><circle cx="100.6" cy="40.1" r="1.17" fill="#fff"/><circle cx="111.9" cy="78.8" r="1.39" fill="#fff"/><circle cx="88.5" cy="61.9" r="1.10" fill="#fff"/><circle cx="62.8" cy="77.5" r="1.18" fill="#fff"/><circle cx="114.7" cy="17.0" r="0.58" fill="#fff"/><circle cx="96.5" cy="38.7" r="0.83" fill="#fff"/><circle cx="60.0" cy="86.4" r="1.17" fill="#fff"/><circle cx="108.4" cy="59.4" r="1.06" fill="#fff"/><circle cx="66.8" cy="46.5" r="0.93" fill="#fff"/><circle cx="126.6" cy="104.6" r="0.41" fill="#fff"/><circle cx="109.4" cy="63.8" r="1.13" fill="#fff"/><circle cx="131.3" cy="70.6" r="1.00" fill="#fff"/><circle cx="113.3" cy="84.9" r="1.18" fill="#fff"/><circle cx="98.8" cy="37.3" r="0.65" fill="#fff"/><circle cx="140.1" cy="87.3" r="1.14" fill="#fff"/><circle cx="124.0" cy="33.2" r="0.62" fill="#fff"/><circle cx="121.1" cy="22.7" r="1.36" fill="#fff"/><circle cx="121.4" cy="104.8" r="1.06" fill="#fff"/><circle cx="91.6" cy="13.5" r="0.63" fill="#fff"/><circle cx="65.9" cy="99.7" r="0.91" fill="#fff"/><circle cx="60.7" cy="92.7" r="0.58" fill="#fff"/><circle cx="100.3" cy="14.0" r="1.00" fill="#fff"/><circle cx="110.8" cy="73.1" r="1.05" fill="#fff"/><circle cx="111.6" cy="92.9" r="1.28" fill="#fff"/><circle cx="73.7" cy="25.2" r="1.09" fill="#fff"/><circle cx="98.7" cy="36.4" r="1.06" fill="#fff"/><circle cx="131.3" cy="68.7" r="1.01" fill="#fff"/><circle cx="112.8" cy="85.4" r="1.10" fill="#fff"/><circle cx="68.7" cy="61.3" r="0.85" fill="#fff"/><circle cx="113.3" cy="86.0" r="1.17" fill="#fff"/><circle cx="60.2" cy="89.7" r="0.85" fill="#fff"/><circle cx="112.4" cy="78.2" r="1.23" fill="#fff"/><circle cx="112.1" cy="90.2" r="0.76" fill="#fff"/><circle cx="76.7" cy="16.1" r="1.35" fill="#fff"/><circle cx="122.5" cy="26.8" r="1.19" fill="#fff"/><circle cx="135.8" cy="80.8" r="0.47" fill="#fff"/><circle cx="140.1" cy="87.6" r="1.22" fill="#fff"/><circle cx="60.7" cy="79.1" r="0.49" fill="#fff"/><circle cx="117.4" cy="104.2" r="0.69" fill="#fff"/><circle cx="86.1" cy="80.0" r="0.46" fill="#fff"/><circle cx="92.8" cy="45.4" r="0.82" fill="#fff"/><circle cx="65.3" cy="40.8" r="1.27" fill="#fff"/><circle cx="129.8" cy="41.4" r="1.00" fill="#fff"/><circle cx="70.9" cy="34.9" r="1.34" fill="#fff"/><circle cx="109.7" cy="70.4" r="1.03" fill="#fff"/><circle cx="67.8" cy="73.2" r="0.87" fill="#fff"/><circle cx="110.0" cy="70.7" r="0.55" fill="#fff"/><circle cx="130.9" cy="70.1" r="0.93" fill="#fff"/><circle cx="81.4" cy="105.0" r="1.01" fill="#fff"/><circle cx="86.5" cy="77.4" r="0.75" fill="#fff"/><circle cx="64.3" cy="76.4" r="1.08" fill="#fff"/><circle cx="129.9" cy="40.5" r="0.79" fill="#fff"/><circle cx="117.4" cy="103.7" r="0.56" fill="#fff"/><circle cx="111.6" cy="97.5" r="0.75" fill="#fff"/><circle cx="89.3" cy="99.5" r="1.28" fill="#fff"/>
</g>
<line x1="84" y1="18.5" x2="90" y2="31" stroke="#173d1a" stroke-width="1.0" opacity="0.5" stroke-linecap="round"/>
<line x1="78" y1="21" x2="84" y2="35" stroke="#173d1a" stroke-width="1.0" opacity="0.5" stroke-linecap="round"/>
<line x1="91" y1="17" x2="96" y2="29" stroke="#173d1a" stroke-width="1.0" opacity="0.5" stroke-linecap="round"/>
<line x1="104" y1="18" x2="100" y2="30" stroke="#173d1a" stroke-width="1.0" opacity="0.5" stroke-linecap="round"/>
<line x1="110" y1="19" x2="105" y2="33" stroke="#173d1a" stroke-width="1.0" opacity="0.5" stroke-linecap="round"/>
<line x1="116" y1="22" x2="111" y2="38" stroke="#173d1a" stroke-width="1.0" opacity="0.5" stroke-linecap="round"/>
<line x1="74" y1="27" x2="78" y2="38" stroke="#173d1a" stroke-width="1.0" opacity="0.5" stroke-linecap="round"/>
<line x1="121" y1="30" x2="117" y2="44" stroke="#173d1a" stroke-width="1.0" opacity="0.5" stroke-linecap="round"/>
<circle cx="83.4" cy="25.5" r="1.1" fill="#fff"/>
<circle cx="114.9" cy="23.2" r="1.0" fill="#fff"/>
<circle cx="78.7" cy="29" r="0.9" fill="#fff"/>
<circle cx="118.4" cy="27.9" r="1.1" fill="#fff"/>
<circle cx="100" cy="25" r="0.8" fill="#fff"/>
<circle cx="109" cy="30" r="0.9" fill="#fff"/>
<circle cx="86" cy="33" r="0.7" fill="#fff"/>
</g>
<g filter="url(#soft)">
<path d="M86,101.5 L90,100.8 L94,102 L95.6,104.5 L95,107.5 L92.5,109 L89.5,108.2 L87,106 Z" fill="#74f07a"/>
<path d="M104.5,100.5 L108,100.6 L112,102.5 L116,105.2 L118.6,108 L118.2,110 L115,109.6 L111,107.5 L107,105 L104.8,103 Z" fill="#74f07a"/>
<ellipse cx="91" cy="104.5" rx="1.6" ry="0.8" fill="#173d1a" opacity="0.55"/>
<ellipse cx="112" cy="105.5" rx="1.8" ry="0.7" transform="rotate(30 112 105.5)" fill="#173d1a" opacity="0.5"/>
</g>
<circle cx="63.4" cy="30.5" r="0.8" fill="#8aeb8a"/>
<circle cx="64" cy="34" r="0.8" fill="#8aeb8a"/>
<circle cx="134" cy="33" r="0.8" fill="#8aeb8a"/>
<circle cx="136.5" cy="40" r="0.8" fill="#8aeb8a"/>
<circle cx="60.5" cy="77" r="0.8" fill="#8aeb8a"/>
<circle cx="129" cy="22" r="0.8" fill="#8aeb8a"/>
<circle cx="71" cy="21" r="0.8" fill="#8aeb8a"/>
<circle cx="88" cy="40" r="0.8" fill="#8aeb8a"/>
<circle cx="110" cy="40" r="0.8" fill="#8aeb8a"/>
<circle cx="102" cy="30" r="0.8" fill="#8aeb8a"/>
<circle cx="94" cy="31" r="0.8" fill="#8aeb8a"/>
<circle cx="97" cy="28" r="0.8" fill="#8aeb8a"/>
<path d="M74.3,122.6 C84,103 90,96.3 96.7,96.3 C104,96.3 111,104 119.2,117.5" fill="none" stroke="#111" stroke-width="1.1"/>
<path d="M120.9,120.6 L117.2,117.9 L120.3,116.2 Z" fill="#111"/>
<text x="49.90" y="128.80" font-size="10" font-weight="bold" text-anchor="start" fill="#111" textLength="18.6" lengthAdjust="spacingAndGlyphs" stroke="#111" stroke-width="0.3">ATP</text>
<text x="123.90" y="128.80" font-size="10" font-weight="bold" text-anchor="start" fill="#111" stroke="#111" stroke-width="0.3">ADP + P<tspan font-size="6.6" dy="2.4">i</tspan></text>
</svg>
</body></html>
